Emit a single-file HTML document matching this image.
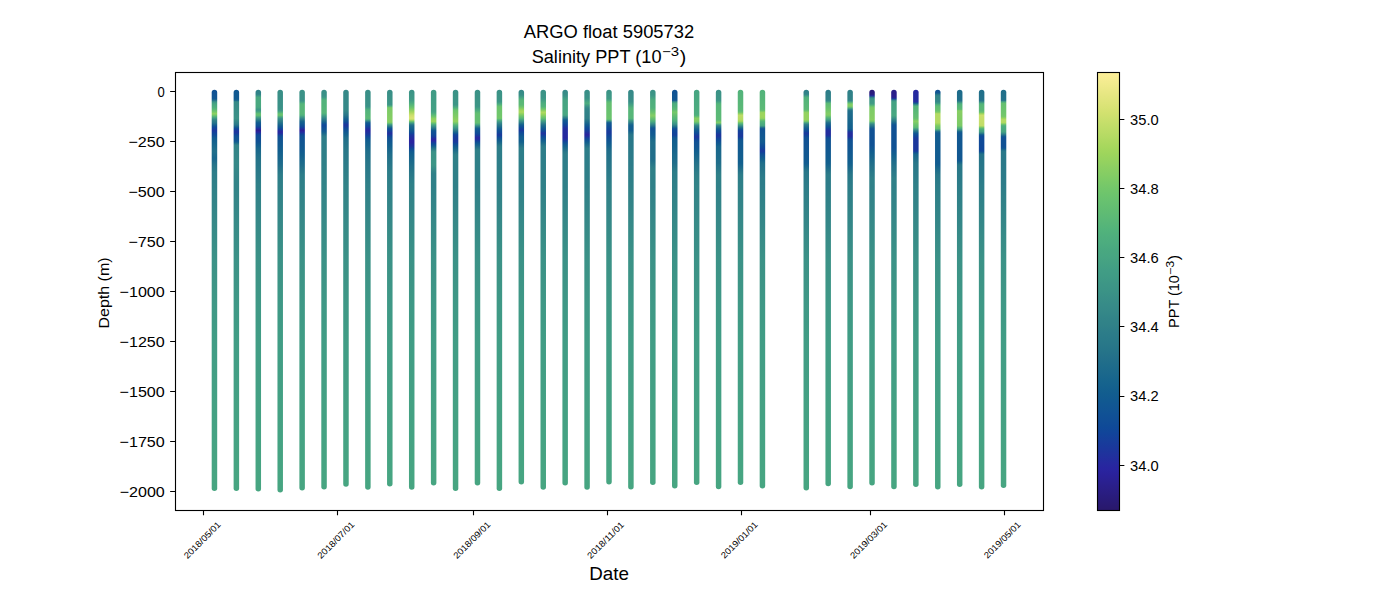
<!DOCTYPE html><html><head><meta charset="utf-8"><style>html,body{margin:0;padding:0;background:#fff;width:1400px;height:600px;overflow:hidden}svg{display:block}text{font-family:"Liberation Sans",sans-serif;fill:#000}</style></head><body>
<svg width="1400" height="600" viewBox="0 0 1400 600">
<rect x="0" y="0" width="1400" height="600" fill="#fff"/>
<defs>
<linearGradient id="g0" gradientUnits="userSpaceOnUse" x1="0" y1="89.80" x2="0" y2="491.00"><stop offset="0.0000" stop-color="#105194"/><stop offset="0.0037" stop-color="#105294"/><stop offset="0.0075" stop-color="#105394"/><stop offset="0.0112" stop-color="#115493"/><stop offset="0.0150" stop-color="#115593"/><stop offset="0.0187" stop-color="#115692"/><stop offset="0.0224" stop-color="#115792"/><stop offset="0.0262" stop-color="#22708a"/><stop offset="0.0299" stop-color="#3a9187"/><stop offset="0.0336" stop-color="#43a084"/><stop offset="0.0374" stop-color="#49a781"/><stop offset="0.0411" stop-color="#4cac7f"/><stop offset="0.0449" stop-color="#50b07d"/><stop offset="0.0486" stop-color="#59b877"/><stop offset="0.0523" stop-color="#68c16f"/><stop offset="0.0561" stop-color="#7aca67"/><stop offset="0.0598" stop-color="#91d160"/><stop offset="0.0636" stop-color="#6ec56c"/><stop offset="0.0673" stop-color="#51b27c"/><stop offset="0.0710" stop-color="#3f9a85"/><stop offset="0.0748" stop-color="#318388"/><stop offset="0.0785" stop-color="#2b7b89"/><stop offset="0.0823" stop-color="#267489"/><stop offset="0.0860" stop-color="#1a678c"/><stop offset="0.0897" stop-color="#115692"/><stop offset="0.0935" stop-color="#0f4998"/><stop offset="0.0972" stop-color="#14419a"/><stop offset="0.1009" stop-color="#1a389c"/><stop offset="0.1047" stop-color="#163d9b"/><stop offset="0.1084" stop-color="#114599"/><stop offset="0.1122" stop-color="#0f4a97"/><stop offset="0.1159" stop-color="#105194"/><stop offset="0.1196" stop-color="#115991"/><stop offset="0.1234" stop-color="#125d8f"/><stop offset="0.1271" stop-color="#125f8e"/><stop offset="0.1309" stop-color="#14618d"/><stop offset="0.1346" stop-color="#16648d"/><stop offset="0.1383" stop-color="#18668c"/><stop offset="0.1421" stop-color="#1a688c"/><stop offset="0.1458" stop-color="#1c6a8b"/><stop offset="0.1496" stop-color="#1e6c8b"/><stop offset="0.1533" stop-color="#206e8a"/><stop offset="0.1570" stop-color="#1f6d8b"/><stop offset="0.1608" stop-color="#1d6b8b"/><stop offset="0.1645" stop-color="#1b698c"/><stop offset="0.1682" stop-color="#19678c"/><stop offset="0.1720" stop-color="#19668c"/><stop offset="0.1757" stop-color="#1c698c"/><stop offset="0.1795" stop-color="#1f6d8b"/><stop offset="0.1832" stop-color="#22708a"/><stop offset="0.1869" stop-color="#257389"/><stop offset="0.1907" stop-color="#277589"/><stop offset="0.1944" stop-color="#297789"/><stop offset="0.1982" stop-color="#2a7989"/><stop offset="0.2019" stop-color="#2b7b89"/><stop offset="0.2056" stop-color="#2c7d89"/><stop offset="0.2094" stop-color="#2d7d89"/><stop offset="0.2131" stop-color="#2d7d89"/><stop offset="0.2168" stop-color="#2d7e89"/><stop offset="0.2206" stop-color="#2e7e88"/><stop offset="0.2243" stop-color="#2e7f88"/><stop offset="0.2281" stop-color="#2e7f88"/><stop offset="0.2318" stop-color="#2f7f88"/><stop offset="0.2355" stop-color="#2f8088"/><stop offset="0.2393" stop-color="#2f8088"/><stop offset="0.2430" stop-color="#2f8088"/><stop offset="0.2468" stop-color="#308188"/><stop offset="0.2505" stop-color="#308188"/><stop offset="0.2542" stop-color="#308288"/><stop offset="0.2580" stop-color="#308288"/><stop offset="0.2617" stop-color="#318288"/><stop offset="0.2655" stop-color="#318388"/><stop offset="0.2692" stop-color="#318388"/><stop offset="0.2729" stop-color="#318388"/><stop offset="0.2747" stop-color="#328388"/><stop offset="0.3046" stop-color="#348688"/><stop offset="0.3345" stop-color="#368988"/><stop offset="0.3644" stop-color="#378c87"/><stop offset="0.3943" stop-color="#398f87"/><stop offset="0.4242" stop-color="#3b9287"/><stop offset="0.4541" stop-color="#3c9386"/><stop offset="0.4840" stop-color="#3d9586"/><stop offset="0.5140" stop-color="#3e9786"/><stop offset="0.5439" stop-color="#3f9986"/><stop offset="0.5738" stop-color="#3f9a85"/><stop offset="0.6037" stop-color="#409c85"/><stop offset="0.6336" stop-color="#419d85"/><stop offset="0.6635" stop-color="#419e85"/><stop offset="0.6934" stop-color="#429e84"/><stop offset="0.7233" stop-color="#439f84"/><stop offset="0.7532" stop-color="#43a084"/><stop offset="0.7832" stop-color="#44a183"/><stop offset="0.8131" stop-color="#44a183"/><stop offset="0.8430" stop-color="#45a283"/><stop offset="0.8729" stop-color="#45a383"/><stop offset="0.9028" stop-color="#46a382"/><stop offset="0.9327" stop-color="#46a482"/><stop offset="0.9626" stop-color="#47a582"/><stop offset="0.9925" stop-color="#47a581"/><stop offset="1.0000" stop-color="#48a681"/></linearGradient>
<linearGradient id="g1" gradientUnits="userSpaceOnUse" x1="0" y1="89.80" x2="0" y2="491.00"><stop offset="0.0000" stop-color="#115791"/><stop offset="0.0037" stop-color="#115891"/><stop offset="0.0075" stop-color="#115991"/><stop offset="0.0112" stop-color="#115991"/><stop offset="0.0150" stop-color="#115a90"/><stop offset="0.0187" stop-color="#115a90"/><stop offset="0.0224" stop-color="#125b90"/><stop offset="0.0262" stop-color="#17648d"/><stop offset="0.0299" stop-color="#358988"/><stop offset="0.0336" stop-color="#368a88"/><stop offset="0.0374" stop-color="#368a88"/><stop offset="0.0411" stop-color="#378b88"/><stop offset="0.0449" stop-color="#378c87"/><stop offset="0.0486" stop-color="#388d87"/><stop offset="0.0523" stop-color="#388e87"/><stop offset="0.0561" stop-color="#398e87"/><stop offset="0.0598" stop-color="#398f87"/><stop offset="0.0636" stop-color="#3a9087"/><stop offset="0.0673" stop-color="#3a9187"/><stop offset="0.0710" stop-color="#3b9287"/><stop offset="0.0748" stop-color="#378c87"/><stop offset="0.0785" stop-color="#338688"/><stop offset="0.0823" stop-color="#2f8088"/><stop offset="0.0860" stop-color="#2a7a89"/><stop offset="0.0897" stop-color="#206d8b"/><stop offset="0.0935" stop-color="#115a90"/><stop offset="0.0972" stop-color="#104699"/><stop offset="0.1009" stop-color="#173c9b"/><stop offset="0.1047" stop-color="#1e339d"/><stop offset="0.1084" stop-color="#193a9b"/><stop offset="0.1122" stop-color="#0f4799"/><stop offset="0.1159" stop-color="#104f95"/><stop offset="0.1196" stop-color="#105394"/><stop offset="0.1234" stop-color="#115493"/><stop offset="0.1271" stop-color="#115692"/><stop offset="0.1309" stop-color="#14618e"/><stop offset="0.1346" stop-color="#267489"/><stop offset="0.1383" stop-color="#328388"/><stop offset="0.1421" stop-color="#328488"/><stop offset="0.1458" stop-color="#328488"/><stop offset="0.1496" stop-color="#338588"/><stop offset="0.1533" stop-color="#338588"/><stop offset="0.1570" stop-color="#338688"/><stop offset="0.1608" stop-color="#348688"/><stop offset="0.1645" stop-color="#348688"/><stop offset="0.1682" stop-color="#348788"/><stop offset="0.1720" stop-color="#348788"/><stop offset="0.1757" stop-color="#358888"/><stop offset="0.1795" stop-color="#358888"/><stop offset="0.1832" stop-color="#358988"/><stop offset="0.1869" stop-color="#358888"/><stop offset="0.1907" stop-color="#358888"/><stop offset="0.1944" stop-color="#358888"/><stop offset="0.1982" stop-color="#348788"/><stop offset="0.2019" stop-color="#348788"/><stop offset="0.2056" stop-color="#348688"/><stop offset="0.2094" stop-color="#348688"/><stop offset="0.2131" stop-color="#338688"/><stop offset="0.2168" stop-color="#338588"/><stop offset="0.2206" stop-color="#338588"/><stop offset="0.2243" stop-color="#328588"/><stop offset="0.2281" stop-color="#328488"/><stop offset="0.2318" stop-color="#328488"/><stop offset="0.2355" stop-color="#328488"/><stop offset="0.2393" stop-color="#328488"/><stop offset="0.2430" stop-color="#328488"/><stop offset="0.2468" stop-color="#328488"/><stop offset="0.2505" stop-color="#328488"/><stop offset="0.2542" stop-color="#328588"/><stop offset="0.2580" stop-color="#338588"/><stop offset="0.2617" stop-color="#338588"/><stop offset="0.2655" stop-color="#338588"/><stop offset="0.2692" stop-color="#338688"/><stop offset="0.2729" stop-color="#348688"/><stop offset="0.2747" stop-color="#348688"/><stop offset="0.3046" stop-color="#358888"/><stop offset="0.3345" stop-color="#378b88"/><stop offset="0.3644" stop-color="#388d87"/><stop offset="0.3943" stop-color="#398f87"/><stop offset="0.4242" stop-color="#3b9287"/><stop offset="0.4541" stop-color="#3c9386"/><stop offset="0.4840" stop-color="#3d9586"/><stop offset="0.5140" stop-color="#3e9786"/><stop offset="0.5439" stop-color="#3f9986"/><stop offset="0.5738" stop-color="#3f9a85"/><stop offset="0.6037" stop-color="#409c85"/><stop offset="0.6336" stop-color="#419d85"/><stop offset="0.6635" stop-color="#419e85"/><stop offset="0.6934" stop-color="#429e84"/><stop offset="0.7233" stop-color="#439f84"/><stop offset="0.7532" stop-color="#43a084"/><stop offset="0.7832" stop-color="#44a183"/><stop offset="0.8131" stop-color="#44a183"/><stop offset="0.8430" stop-color="#45a283"/><stop offset="0.8729" stop-color="#45a383"/><stop offset="0.9028" stop-color="#46a382"/><stop offset="0.9327" stop-color="#46a482"/><stop offset="0.9626" stop-color="#47a582"/><stop offset="0.9925" stop-color="#47a581"/><stop offset="1.0000" stop-color="#48a681"/></linearGradient>
<linearGradient id="g2" gradientUnits="userSpaceOnUse" x1="0" y1="89.80" x2="0" y2="491.60"><stop offset="0.0000" stop-color="#2f8088"/><stop offset="0.0037" stop-color="#308188"/><stop offset="0.0075" stop-color="#308288"/><stop offset="0.0112" stop-color="#318388"/><stop offset="0.0149" stop-color="#3c9586"/><stop offset="0.0187" stop-color="#49a880"/><stop offset="0.0224" stop-color="#49a880"/><stop offset="0.0261" stop-color="#49a880"/><stop offset="0.0299" stop-color="#49a880"/><stop offset="0.0336" stop-color="#49a880"/><stop offset="0.0373" stop-color="#49a880"/><stop offset="0.0411" stop-color="#49a880"/><stop offset="0.0448" stop-color="#47a582"/><stop offset="0.0485" stop-color="#3e9886"/><stop offset="0.0523" stop-color="#409b85"/><stop offset="0.0560" stop-color="#4dad7e"/><stop offset="0.0597" stop-color="#63be72"/><stop offset="0.0635" stop-color="#64be71"/><stop offset="0.0672" stop-color="#4aa980"/><stop offset="0.0709" stop-color="#3b9287"/><stop offset="0.0747" stop-color="#2e7f88"/><stop offset="0.0784" stop-color="#1e6c8b"/><stop offset="0.0821" stop-color="#115b90"/><stop offset="0.0859" stop-color="#115692"/><stop offset="0.0896" stop-color="#105194"/><stop offset="0.0933" stop-color="#14419a"/><stop offset="0.0971" stop-color="#242b9f"/><stop offset="0.1008" stop-color="#2a1f8b"/><stop offset="0.1045" stop-color="#2a239f"/><stop offset="0.1083" stop-color="#1b369c"/><stop offset="0.1120" stop-color="#0f4998"/><stop offset="0.1157" stop-color="#104c97"/><stop offset="0.1195" stop-color="#104e96"/><stop offset="0.1232" stop-color="#104f95"/><stop offset="0.1269" stop-color="#105095"/><stop offset="0.1307" stop-color="#115393"/><stop offset="0.1344" stop-color="#115891"/><stop offset="0.1381" stop-color="#125d8f"/><stop offset="0.1419" stop-color="#14618e"/><stop offset="0.1456" stop-color="#18658d"/><stop offset="0.1493" stop-color="#1a678c"/><stop offset="0.1531" stop-color="#1b698c"/><stop offset="0.1568" stop-color="#1d6b8b"/><stop offset="0.1605" stop-color="#1f6d8b"/><stop offset="0.1643" stop-color="#216f8a"/><stop offset="0.1680" stop-color="#23718a"/><stop offset="0.1717" stop-color="#247289"/><stop offset="0.1755" stop-color="#257389"/><stop offset="0.1792" stop-color="#267489"/><stop offset="0.1829" stop-color="#267589"/><stop offset="0.1867" stop-color="#277589"/><stop offset="0.1904" stop-color="#287689"/><stop offset="0.1941" stop-color="#287789"/><stop offset="0.1979" stop-color="#297889"/><stop offset="0.2016" stop-color="#297989"/><stop offset="0.2053" stop-color="#2a7989"/><stop offset="0.2091" stop-color="#2b7a89"/><stop offset="0.2128" stop-color="#2b7b89"/><stop offset="0.2165" stop-color="#2c7c89"/><stop offset="0.2203" stop-color="#2c7c89"/><stop offset="0.2240" stop-color="#2d7d89"/><stop offset="0.2277" stop-color="#2d7e89"/><stop offset="0.2315" stop-color="#2e7f88"/><stop offset="0.2352" stop-color="#2f8088"/><stop offset="0.2389" stop-color="#2f8088"/><stop offset="0.2427" stop-color="#2f8088"/><stop offset="0.2464" stop-color="#308188"/><stop offset="0.2501" stop-color="#308188"/><stop offset="0.2539" stop-color="#308288"/><stop offset="0.2576" stop-color="#308288"/><stop offset="0.2613" stop-color="#318288"/><stop offset="0.2651" stop-color="#318388"/><stop offset="0.2688" stop-color="#318388"/><stop offset="0.2725" stop-color="#318388"/><stop offset="0.2743" stop-color="#328388"/><stop offset="0.3041" stop-color="#348688"/><stop offset="0.3340" stop-color="#368988"/><stop offset="0.3639" stop-color="#378c87"/><stop offset="0.3937" stop-color="#398f87"/><stop offset="0.4236" stop-color="#3b9287"/><stop offset="0.4535" stop-color="#3c9386"/><stop offset="0.4833" stop-color="#3d9586"/><stop offset="0.5132" stop-color="#3e9786"/><stop offset="0.5431" stop-color="#3f9986"/><stop offset="0.5729" stop-color="#3f9a85"/><stop offset="0.6028" stop-color="#409c85"/><stop offset="0.6327" stop-color="#419d85"/><stop offset="0.6625" stop-color="#419e85"/><stop offset="0.6924" stop-color="#429e84"/><stop offset="0.7222" stop-color="#439f84"/><stop offset="0.7521" stop-color="#43a084"/><stop offset="0.7820" stop-color="#44a183"/><stop offset="0.8118" stop-color="#44a183"/><stop offset="0.8417" stop-color="#45a283"/><stop offset="0.8716" stop-color="#45a383"/><stop offset="0.9014" stop-color="#46a382"/><stop offset="0.9313" stop-color="#46a482"/><stop offset="0.9612" stop-color="#47a582"/><stop offset="0.9910" stop-color="#47a581"/><stop offset="1.0000" stop-color="#48a681"/></linearGradient>
<linearGradient id="g3" gradientUnits="userSpaceOnUse" x1="0" y1="89.80" x2="0" y2="492.50"><stop offset="0.0000" stop-color="#388e87"/><stop offset="0.0037" stop-color="#398e87"/><stop offset="0.0074" stop-color="#398f87"/><stop offset="0.0112" stop-color="#398f87"/><stop offset="0.0149" stop-color="#398f87"/><stop offset="0.0186" stop-color="#398f87"/><stop offset="0.0223" stop-color="#399087"/><stop offset="0.0261" stop-color="#3a9087"/><stop offset="0.0298" stop-color="#3a9087"/><stop offset="0.0335" stop-color="#3a9187"/><stop offset="0.0372" stop-color="#3a9187"/><stop offset="0.0410" stop-color="#3a9187"/><stop offset="0.0447" stop-color="#3a9187"/><stop offset="0.0484" stop-color="#3b9287"/><stop offset="0.0521" stop-color="#409c85"/><stop offset="0.0559" stop-color="#4eaf7d"/><stop offset="0.0596" stop-color="#67c170"/><stop offset="0.0633" stop-color="#68c16f"/><stop offset="0.0670" stop-color="#4baa7f"/><stop offset="0.0708" stop-color="#3b9287"/><stop offset="0.0745" stop-color="#348788"/><stop offset="0.0782" stop-color="#2d7d89"/><stop offset="0.0819" stop-color="#247289"/><stop offset="0.0857" stop-color="#1b688c"/><stop offset="0.0894" stop-color="#125e8e"/><stop offset="0.0931" stop-color="#105394"/><stop offset="0.0968" stop-color="#0f4799"/><stop offset="0.1006" stop-color="#1d349d"/><stop offset="0.1043" stop-color="#2a239f"/><stop offset="0.1080" stop-color="#232c9e"/><stop offset="0.1117" stop-color="#153f9b"/><stop offset="0.1155" stop-color="#104e96"/><stop offset="0.1192" stop-color="#105294"/><stop offset="0.1229" stop-color="#115493"/><stop offset="0.1266" stop-color="#115592"/><stop offset="0.1304" stop-color="#115792"/><stop offset="0.1341" stop-color="#115891"/><stop offset="0.1378" stop-color="#115a90"/><stop offset="0.1415" stop-color="#125b90"/><stop offset="0.1453" stop-color="#125d8f"/><stop offset="0.1490" stop-color="#125e8e"/><stop offset="0.1527" stop-color="#125f8e"/><stop offset="0.1564" stop-color="#14618e"/><stop offset="0.1602" stop-color="#15628d"/><stop offset="0.1639" stop-color="#16648d"/><stop offset="0.1676" stop-color="#18658d"/><stop offset="0.1713" stop-color="#19668c"/><stop offset="0.1751" stop-color="#1a688c"/><stop offset="0.1788" stop-color="#1c698c"/><stop offset="0.1825" stop-color="#1d6b8b"/><stop offset="0.1862" stop-color="#1f6d8b"/><stop offset="0.1900" stop-color="#216f8a"/><stop offset="0.1937" stop-color="#24728a"/><stop offset="0.1974" stop-color="#267489"/><stop offset="0.2011" stop-color="#287689"/><stop offset="0.2049" stop-color="#297889"/><stop offset="0.2086" stop-color="#2b7b89"/><stop offset="0.2123" stop-color="#2c7d89"/><stop offset="0.2160" stop-color="#2d7d89"/><stop offset="0.2198" stop-color="#2d7e89"/><stop offset="0.2235" stop-color="#2e7e88"/><stop offset="0.2272" stop-color="#2e7f88"/><stop offset="0.2309" stop-color="#2e7f88"/><stop offset="0.2347" stop-color="#2f8088"/><stop offset="0.2384" stop-color="#2f8088"/><stop offset="0.2421" stop-color="#2f8088"/><stop offset="0.2458" stop-color="#308188"/><stop offset="0.2496" stop-color="#308188"/><stop offset="0.2533" stop-color="#308288"/><stop offset="0.2570" stop-color="#308288"/><stop offset="0.2607" stop-color="#318288"/><stop offset="0.2645" stop-color="#318388"/><stop offset="0.2682" stop-color="#318388"/><stop offset="0.2719" stop-color="#318388"/><stop offset="0.2737" stop-color="#328388"/><stop offset="0.3035" stop-color="#348688"/><stop offset="0.3333" stop-color="#368988"/><stop offset="0.3630" stop-color="#378c87"/><stop offset="0.3928" stop-color="#398f87"/><stop offset="0.4226" stop-color="#3b9287"/><stop offset="0.4524" stop-color="#3c9386"/><stop offset="0.4822" stop-color="#3d9586"/><stop offset="0.5120" stop-color="#3e9786"/><stop offset="0.5418" stop-color="#3f9986"/><stop offset="0.5716" stop-color="#3f9a85"/><stop offset="0.6014" stop-color="#409c85"/><stop offset="0.6312" stop-color="#419d85"/><stop offset="0.6610" stop-color="#419e85"/><stop offset="0.6908" stop-color="#429e84"/><stop offset="0.7206" stop-color="#439f84"/><stop offset="0.7504" stop-color="#43a084"/><stop offset="0.7802" stop-color="#44a183"/><stop offset="0.8100" stop-color="#44a183"/><stop offset="0.8398" stop-color="#45a283"/><stop offset="0.8696" stop-color="#45a383"/><stop offset="0.8994" stop-color="#46a382"/><stop offset="0.9292" stop-color="#46a482"/><stop offset="0.9590" stop-color="#47a582"/><stop offset="0.9888" stop-color="#47a581"/><stop offset="1.0000" stop-color="#48a681"/></linearGradient>
<linearGradient id="g4" gradientUnits="userSpaceOnUse" x1="0" y1="89.80" x2="0" y2="490.40"><stop offset="0.0000" stop-color="#3b9287"/><stop offset="0.0037" stop-color="#3b9287"/><stop offset="0.0075" stop-color="#3b9287"/><stop offset="0.0112" stop-color="#3b9287"/><stop offset="0.0150" stop-color="#3b9287"/><stop offset="0.0187" stop-color="#3b9287"/><stop offset="0.0225" stop-color="#3b9287"/><stop offset="0.0262" stop-color="#3b9287"/><stop offset="0.0300" stop-color="#419e85"/><stop offset="0.0337" stop-color="#4fb07d"/><stop offset="0.0374" stop-color="#57b679"/><stop offset="0.0412" stop-color="#57b679"/><stop offset="0.0449" stop-color="#57b679"/><stop offset="0.0487" stop-color="#57b679"/><stop offset="0.0524" stop-color="#57b679"/><stop offset="0.0562" stop-color="#57b679"/><stop offset="0.0599" stop-color="#57b679"/><stop offset="0.0637" stop-color="#50b07d"/><stop offset="0.0674" stop-color="#419d85"/><stop offset="0.0711" stop-color="#368988"/><stop offset="0.0749" stop-color="#287789"/><stop offset="0.0786" stop-color="#17658d"/><stop offset="0.0824" stop-color="#125e8e"/><stop offset="0.0861" stop-color="#115792"/><stop offset="0.0899" stop-color="#104f95"/><stop offset="0.0936" stop-color="#11449a"/><stop offset="0.0974" stop-color="#212f9e"/><stop offset="0.1011" stop-color="#2a2093"/><stop offset="0.1048" stop-color="#27279f"/><stop offset="0.1086" stop-color="#1a399c"/><stop offset="0.1123" stop-color="#0f4998"/><stop offset="0.1161" stop-color="#105194"/><stop offset="0.1198" stop-color="#105294"/><stop offset="0.1236" stop-color="#115393"/><stop offset="0.1273" stop-color="#115493"/><stop offset="0.1311" stop-color="#115592"/><stop offset="0.1348" stop-color="#115692"/><stop offset="0.1385" stop-color="#115791"/><stop offset="0.1423" stop-color="#115891"/><stop offset="0.1460" stop-color="#115991"/><stop offset="0.1498" stop-color="#115a90"/><stop offset="0.1535" stop-color="#125b90"/><stop offset="0.1573" stop-color="#125d8f"/><stop offset="0.1610" stop-color="#125f8e"/><stop offset="0.1648" stop-color="#14618d"/><stop offset="0.1685" stop-color="#16638d"/><stop offset="0.1722" stop-color="#18658d"/><stop offset="0.1760" stop-color="#19678c"/><stop offset="0.1797" stop-color="#1b698c"/><stop offset="0.1835" stop-color="#1d6b8b"/><stop offset="0.1872" stop-color="#1f6d8b"/><stop offset="0.1910" stop-color="#216f8a"/><stop offset="0.1947" stop-color="#24728a"/><stop offset="0.1985" stop-color="#267489"/><stop offset="0.2022" stop-color="#287689"/><stop offset="0.2059" stop-color="#297889"/><stop offset="0.2097" stop-color="#2b7b89"/><stop offset="0.2134" stop-color="#2c7d89"/><stop offset="0.2172" stop-color="#2d7d89"/><stop offset="0.2209" stop-color="#2d7e89"/><stop offset="0.2247" stop-color="#2e7e88"/><stop offset="0.2284" stop-color="#2e7f88"/><stop offset="0.2322" stop-color="#2e7f88"/><stop offset="0.2359" stop-color="#2f8088"/><stop offset="0.2396" stop-color="#2f8088"/><stop offset="0.2434" stop-color="#2f8088"/><stop offset="0.2471" stop-color="#308188"/><stop offset="0.2509" stop-color="#308188"/><stop offset="0.2546" stop-color="#308288"/><stop offset="0.2584" stop-color="#308288"/><stop offset="0.2621" stop-color="#318288"/><stop offset="0.2659" stop-color="#318388"/><stop offset="0.2696" stop-color="#318388"/><stop offset="0.2733" stop-color="#318388"/><stop offset="0.2751" stop-color="#328388"/><stop offset="0.3050" stop-color="#348688"/><stop offset="0.3350" stop-color="#368988"/><stop offset="0.3650" stop-color="#378c87"/><stop offset="0.3949" stop-color="#398f87"/><stop offset="0.4249" stop-color="#3b9287"/><stop offset="0.4548" stop-color="#3c9386"/><stop offset="0.4848" stop-color="#3d9586"/><stop offset="0.5147" stop-color="#3e9786"/><stop offset="0.5447" stop-color="#3f9986"/><stop offset="0.5746" stop-color="#3f9a85"/><stop offset="0.6046" stop-color="#409c85"/><stop offset="0.6345" stop-color="#419d85"/><stop offset="0.6645" stop-color="#419e85"/><stop offset="0.6945" stop-color="#429e84"/><stop offset="0.7244" stop-color="#439f84"/><stop offset="0.7544" stop-color="#43a084"/><stop offset="0.7843" stop-color="#44a183"/><stop offset="0.8143" stop-color="#44a183"/><stop offset="0.8442" stop-color="#45a283"/><stop offset="0.8742" stop-color="#45a383"/><stop offset="0.9041" stop-color="#46a382"/><stop offset="0.9341" stop-color="#46a482"/><stop offset="0.9641" stop-color="#47a582"/><stop offset="0.9940" stop-color="#47a581"/><stop offset="1.0000" stop-color="#48a681"/></linearGradient>
<linearGradient id="g5" gradientUnits="userSpaceOnUse" x1="0" y1="89.80" x2="0" y2="489.50"><stop offset="0.0000" stop-color="#388e87"/><stop offset="0.0038" stop-color="#398f87"/><stop offset="0.0075" stop-color="#399087"/><stop offset="0.0113" stop-color="#3a9087"/><stop offset="0.0150" stop-color="#3a9187"/><stop offset="0.0188" stop-color="#3e9886"/><stop offset="0.0225" stop-color="#48a781"/><stop offset="0.0263" stop-color="#52b37b"/><stop offset="0.0300" stop-color="#53b37b"/><stop offset="0.0338" stop-color="#53b37b"/><stop offset="0.0375" stop-color="#54b47a"/><stop offset="0.0413" stop-color="#54b47a"/><stop offset="0.0450" stop-color="#55b57a"/><stop offset="0.0488" stop-color="#56b579"/><stop offset="0.0525" stop-color="#56b579"/><stop offset="0.0563" stop-color="#57b679"/><stop offset="0.0600" stop-color="#51b17c"/><stop offset="0.0638" stop-color="#45a283"/><stop offset="0.0676" stop-color="#3b9386"/><stop offset="0.0713" stop-color="#328488"/><stop offset="0.0751" stop-color="#287789"/><stop offset="0.0788" stop-color="#1d6a8b"/><stop offset="0.0826" stop-color="#125d8f"/><stop offset="0.0863" stop-color="#104e96"/><stop offset="0.0901" stop-color="#0f4998"/><stop offset="0.0938" stop-color="#104e96"/><stop offset="0.0976" stop-color="#105394"/><stop offset="0.1013" stop-color="#115792"/><stop offset="0.1051" stop-color="#125d8f"/><stop offset="0.1088" stop-color="#19678c"/><stop offset="0.1126" stop-color="#23718a"/><stop offset="0.1163" stop-color="#2b7a89"/><stop offset="0.1201" stop-color="#2c7d89"/><stop offset="0.1238" stop-color="#2d7d89"/><stop offset="0.1276" stop-color="#2d7d89"/><stop offset="0.1313" stop-color="#2d7d89"/><stop offset="0.1351" stop-color="#2d7d89"/><stop offset="0.1389" stop-color="#2d7e89"/><stop offset="0.1426" stop-color="#2d7e89"/><stop offset="0.1464" stop-color="#2e7e88"/><stop offset="0.1501" stop-color="#2e7e88"/><stop offset="0.1539" stop-color="#2e7f88"/><stop offset="0.1576" stop-color="#2e7f88"/><stop offset="0.1614" stop-color="#2e7f88"/><stop offset="0.1651" stop-color="#2e7f88"/><stop offset="0.1689" stop-color="#2f7f88"/><stop offset="0.1726" stop-color="#2f8088"/><stop offset="0.1764" stop-color="#2f8088"/><stop offset="0.1801" stop-color="#2f8088"/><stop offset="0.1839" stop-color="#2f8088"/><stop offset="0.1876" stop-color="#2f8088"/><stop offset="0.1914" stop-color="#308188"/><stop offset="0.1951" stop-color="#308188"/><stop offset="0.1989" stop-color="#308188"/><stop offset="0.2027" stop-color="#308188"/><stop offset="0.2064" stop-color="#308288"/><stop offset="0.2102" stop-color="#308288"/><stop offset="0.2139" stop-color="#318288"/><stop offset="0.2177" stop-color="#318288"/><stop offset="0.2214" stop-color="#318288"/><stop offset="0.2252" stop-color="#318388"/><stop offset="0.2289" stop-color="#318388"/><stop offset="0.2327" stop-color="#318388"/><stop offset="0.2364" stop-color="#318388"/><stop offset="0.2402" stop-color="#328488"/><stop offset="0.2439" stop-color="#328488"/><stop offset="0.2477" stop-color="#328488"/><stop offset="0.2514" stop-color="#328488"/><stop offset="0.2552" stop-color="#328588"/><stop offset="0.2589" stop-color="#338588"/><stop offset="0.2627" stop-color="#338588"/><stop offset="0.2664" stop-color="#338588"/><stop offset="0.2702" stop-color="#338688"/><stop offset="0.2740" stop-color="#348688"/><stop offset="0.2757" stop-color="#348688"/><stop offset="0.3057" stop-color="#358888"/><stop offset="0.3358" stop-color="#378b88"/><stop offset="0.3658" stop-color="#388d87"/><stop offset="0.3958" stop-color="#398f87"/><stop offset="0.4258" stop-color="#3b9287"/><stop offset="0.4558" stop-color="#3c9386"/><stop offset="0.4859" stop-color="#3d9586"/><stop offset="0.5159" stop-color="#3e9786"/><stop offset="0.5459" stop-color="#3f9986"/><stop offset="0.5759" stop-color="#3f9a85"/><stop offset="0.6060" stop-color="#409c85"/><stop offset="0.6360" stop-color="#419d85"/><stop offset="0.6660" stop-color="#419e85"/><stop offset="0.6960" stop-color="#429e84"/><stop offset="0.7260" stop-color="#439f84"/><stop offset="0.7561" stop-color="#43a084"/><stop offset="0.7861" stop-color="#44a183"/><stop offset="0.8161" stop-color="#44a183"/><stop offset="0.8461" stop-color="#45a283"/><stop offset="0.8762" stop-color="#45a383"/><stop offset="0.9062" stop-color="#46a382"/><stop offset="0.9362" stop-color="#46a482"/><stop offset="0.9662" stop-color="#47a582"/><stop offset="0.9962" stop-color="#47a581"/></linearGradient>
<linearGradient id="g6" gradientUnits="userSpaceOnUse" x1="0" y1="89.80" x2="0" y2="486.80"><stop offset="0.0000" stop-color="#358988"/><stop offset="0.0038" stop-color="#358988"/><stop offset="0.0076" stop-color="#358988"/><stop offset="0.0113" stop-color="#358988"/><stop offset="0.0151" stop-color="#358988"/><stop offset="0.0189" stop-color="#358988"/><stop offset="0.0227" stop-color="#358988"/><stop offset="0.0264" stop-color="#358988"/><stop offset="0.0302" stop-color="#358988"/><stop offset="0.0340" stop-color="#358988"/><stop offset="0.0378" stop-color="#358988"/><stop offset="0.0416" stop-color="#358988"/><stop offset="0.0453" stop-color="#358988"/><stop offset="0.0491" stop-color="#358988"/><stop offset="0.0529" stop-color="#338688"/><stop offset="0.0567" stop-color="#2f8188"/><stop offset="0.0605" stop-color="#2c7b89"/><stop offset="0.0642" stop-color="#277689"/><stop offset="0.0680" stop-color="#1f6d8b"/><stop offset="0.0718" stop-color="#17648d"/><stop offset="0.0756" stop-color="#115b90"/><stop offset="0.0793" stop-color="#105194"/><stop offset="0.0831" stop-color="#0f4799"/><stop offset="0.0869" stop-color="#1a389c"/><stop offset="0.0907" stop-color="#1b379c"/><stop offset="0.0945" stop-color="#13429a"/><stop offset="0.0982" stop-color="#104b97"/><stop offset="0.1020" stop-color="#105294"/><stop offset="0.1058" stop-color="#115891"/><stop offset="0.1096" stop-color="#125e8f"/><stop offset="0.1134" stop-color="#15638d"/><stop offset="0.1171" stop-color="#1a688c"/><stop offset="0.1209" stop-color="#1f6d8b"/><stop offset="0.1247" stop-color="#216f8a"/><stop offset="0.1285" stop-color="#23718a"/><stop offset="0.1322" stop-color="#24728a"/><stop offset="0.1360" stop-color="#257389"/><stop offset="0.1398" stop-color="#267589"/><stop offset="0.1436" stop-color="#277689"/><stop offset="0.1474" stop-color="#287789"/><stop offset="0.1511" stop-color="#297889"/><stop offset="0.1549" stop-color="#297889"/><stop offset="0.1587" stop-color="#2a7989"/><stop offset="0.1625" stop-color="#2a7989"/><stop offset="0.1662" stop-color="#2a7a89"/><stop offset="0.1700" stop-color="#2b7a89"/><stop offset="0.1738" stop-color="#2b7b89"/><stop offset="0.1776" stop-color="#2b7b89"/><stop offset="0.1814" stop-color="#2c7c89"/><stop offset="0.1851" stop-color="#2c7c89"/><stop offset="0.1889" stop-color="#2d7d89"/><stop offset="0.1927" stop-color="#2d7d89"/><stop offset="0.1965" stop-color="#2d7e89"/><stop offset="0.2003" stop-color="#2e7e88"/><stop offset="0.2040" stop-color="#2e7f88"/><stop offset="0.2078" stop-color="#2e7f88"/><stop offset="0.2116" stop-color="#2f8088"/><stop offset="0.2154" stop-color="#2f8088"/><stop offset="0.2191" stop-color="#308188"/><stop offset="0.2229" stop-color="#308188"/><stop offset="0.2267" stop-color="#308288"/><stop offset="0.2305" stop-color="#318288"/><stop offset="0.2343" stop-color="#318388"/><stop offset="0.2380" stop-color="#318388"/><stop offset="0.2418" stop-color="#328488"/><stop offset="0.2456" stop-color="#328488"/><stop offset="0.2494" stop-color="#328488"/><stop offset="0.2531" stop-color="#328488"/><stop offset="0.2569" stop-color="#328588"/><stop offset="0.2607" stop-color="#338588"/><stop offset="0.2645" stop-color="#338588"/><stop offset="0.2683" stop-color="#338588"/><stop offset="0.2720" stop-color="#338688"/><stop offset="0.2758" stop-color="#348688"/><stop offset="0.2776" stop-color="#348688"/><stop offset="0.3078" stop-color="#358888"/><stop offset="0.3380" stop-color="#378b88"/><stop offset="0.3683" stop-color="#388d87"/><stop offset="0.3985" stop-color="#398f87"/><stop offset="0.4287" stop-color="#3b9287"/><stop offset="0.4589" stop-color="#3c9386"/><stop offset="0.4892" stop-color="#3d9586"/><stop offset="0.5194" stop-color="#3e9786"/><stop offset="0.5496" stop-color="#3f9986"/><stop offset="0.5798" stop-color="#3f9a85"/><stop offset="0.6101" stop-color="#409c85"/><stop offset="0.6403" stop-color="#419d85"/><stop offset="0.6705" stop-color="#419e85"/><stop offset="0.7008" stop-color="#429e84"/><stop offset="0.7310" stop-color="#439f84"/><stop offset="0.7612" stop-color="#43a084"/><stop offset="0.7914" stop-color="#44a183"/><stop offset="0.8217" stop-color="#44a183"/><stop offset="0.8519" stop-color="#45a283"/><stop offset="0.8821" stop-color="#45a383"/><stop offset="0.9123" stop-color="#46a382"/><stop offset="0.9426" stop-color="#46a482"/><stop offset="0.9728" stop-color="#47a582"/><stop offset="1.0000" stop-color="#47a581"/></linearGradient>
<linearGradient id="g7" gradientUnits="userSpaceOnUse" x1="0" y1="89.80" x2="0" y2="489.80"><stop offset="0.0000" stop-color="#388e87"/><stop offset="0.0037" stop-color="#398e87"/><stop offset="0.0075" stop-color="#398f87"/><stop offset="0.0112" stop-color="#398f87"/><stop offset="0.0150" stop-color="#398f87"/><stop offset="0.0187" stop-color="#399087"/><stop offset="0.0225" stop-color="#3a9087"/><stop offset="0.0262" stop-color="#3a9087"/><stop offset="0.0300" stop-color="#3a9187"/><stop offset="0.0338" stop-color="#3a9187"/><stop offset="0.0375" stop-color="#3a9187"/><stop offset="0.0413" stop-color="#3b9287"/><stop offset="0.0450" stop-color="#419d85"/><stop offset="0.0488" stop-color="#4cac7f"/><stop offset="0.0525" stop-color="#53b37b"/><stop offset="0.0563" stop-color="#54b47a"/><stop offset="0.0600" stop-color="#56b579"/><stop offset="0.0638" stop-color="#58b778"/><stop offset="0.0675" stop-color="#5ab877"/><stop offset="0.0712" stop-color="#5bb976"/><stop offset="0.0750" stop-color="#49a880"/><stop offset="0.0788" stop-color="#2d7e89"/><stop offset="0.0825" stop-color="#115a90"/><stop offset="0.0862" stop-color="#105294"/><stop offset="0.0900" stop-color="#0f4998"/><stop offset="0.0938" stop-color="#163e9b"/><stop offset="0.0975" stop-color="#1f319d"/><stop offset="0.1013" stop-color="#26289f"/><stop offset="0.1050" stop-color="#222e9e"/><stop offset="0.1088" stop-color="#1d349d"/><stop offset="0.1125" stop-color="#173c9b"/><stop offset="0.1163" stop-color="#0f4899"/><stop offset="0.1200" stop-color="#105095"/><stop offset="0.1238" stop-color="#115891"/><stop offset="0.1275" stop-color="#125d8f"/><stop offset="0.1313" stop-color="#13608e"/><stop offset="0.1350" stop-color="#15628d"/><stop offset="0.1388" stop-color="#17648d"/><stop offset="0.1425" stop-color="#19678c"/><stop offset="0.1463" stop-color="#1c698c"/><stop offset="0.1500" stop-color="#1e6b8b"/><stop offset="0.1538" stop-color="#206e8a"/><stop offset="0.1575" stop-color="#216f8a"/><stop offset="0.1613" stop-color="#22708a"/><stop offset="0.1650" stop-color="#23718a"/><stop offset="0.1688" stop-color="#247289"/><stop offset="0.1725" stop-color="#257389"/><stop offset="0.1763" stop-color="#267489"/><stop offset="0.1800" stop-color="#277589"/><stop offset="0.1838" stop-color="#287689"/><stop offset="0.1875" stop-color="#287789"/><stop offset="0.1913" stop-color="#297889"/><stop offset="0.1950" stop-color="#297889"/><stop offset="0.1988" stop-color="#2a7989"/><stop offset="0.2025" stop-color="#2a7a89"/><stop offset="0.2063" stop-color="#2b7a89"/><stop offset="0.2100" stop-color="#2b7b89"/><stop offset="0.2138" stop-color="#2c7c89"/><stop offset="0.2175" stop-color="#2c7c89"/><stop offset="0.2213" stop-color="#2d7d89"/><stop offset="0.2250" stop-color="#2d7e89"/><stop offset="0.2288" stop-color="#2e7e88"/><stop offset="0.2325" stop-color="#2e7f88"/><stop offset="0.2363" stop-color="#2f8088"/><stop offset="0.2400" stop-color="#2f8088"/><stop offset="0.2438" stop-color="#2f8088"/><stop offset="0.2475" stop-color="#308188"/><stop offset="0.2513" stop-color="#308188"/><stop offset="0.2550" stop-color="#308288"/><stop offset="0.2588" stop-color="#308288"/><stop offset="0.2625" stop-color="#318288"/><stop offset="0.2663" stop-color="#318388"/><stop offset="0.2700" stop-color="#318388"/><stop offset="0.2738" stop-color="#318388"/><stop offset="0.2755" stop-color="#328388"/><stop offset="0.3055" stop-color="#348688"/><stop offset="0.3355" stop-color="#368988"/><stop offset="0.3655" stop-color="#378c87"/><stop offset="0.3955" stop-color="#398f87"/><stop offset="0.4255" stop-color="#3b9287"/><stop offset="0.4555" stop-color="#3c9386"/><stop offset="0.4855" stop-color="#3d9586"/><stop offset="0.5155" stop-color="#3e9786"/><stop offset="0.5455" stop-color="#3f9986"/><stop offset="0.5755" stop-color="#3f9a85"/><stop offset="0.6055" stop-color="#409c85"/><stop offset="0.6355" stop-color="#419d85"/><stop offset="0.6655" stop-color="#419e85"/><stop offset="0.6955" stop-color="#429e84"/><stop offset="0.7255" stop-color="#439f84"/><stop offset="0.7555" stop-color="#43a084"/><stop offset="0.7855" stop-color="#44a183"/><stop offset="0.8155" stop-color="#44a183"/><stop offset="0.8455" stop-color="#45a283"/><stop offset="0.8755" stop-color="#45a383"/><stop offset="0.9055" stop-color="#46a382"/><stop offset="0.9355" stop-color="#46a482"/><stop offset="0.9655" stop-color="#47a582"/><stop offset="0.9955" stop-color="#47a581"/></linearGradient>
<linearGradient id="g8" gradientUnits="userSpaceOnUse" x1="0" y1="89.80" x2="0" y2="486.50"><stop offset="0.0000" stop-color="#388e87"/><stop offset="0.0038" stop-color="#398f87"/><stop offset="0.0076" stop-color="#398f87"/><stop offset="0.0113" stop-color="#3a9087"/><stop offset="0.0151" stop-color="#3a9187"/><stop offset="0.0189" stop-color="#3b9287"/><stop offset="0.0227" stop-color="#3b9287"/><stop offset="0.0265" stop-color="#3b9386"/><stop offset="0.0302" stop-color="#3c9486"/><stop offset="0.0340" stop-color="#3c9586"/><stop offset="0.0378" stop-color="#3d9586"/><stop offset="0.0416" stop-color="#51b27c"/><stop offset="0.0454" stop-color="#7bca67"/><stop offset="0.0492" stop-color="#7dca67"/><stop offset="0.0529" stop-color="#7ecb66"/><stop offset="0.0567" stop-color="#7fcb66"/><stop offset="0.0605" stop-color="#80cc65"/><stop offset="0.0643" stop-color="#82cc65"/><stop offset="0.0681" stop-color="#83cd64"/><stop offset="0.0718" stop-color="#84cd64"/><stop offset="0.0756" stop-color="#86cd64"/><stop offset="0.0794" stop-color="#87ce63"/><stop offset="0.0832" stop-color="#76c869"/><stop offset="0.0870" stop-color="#46a482"/><stop offset="0.0907" stop-color="#318388"/><stop offset="0.0945" stop-color="#19678c"/><stop offset="0.0983" stop-color="#104f95"/><stop offset="0.1021" stop-color="#104699"/><stop offset="0.1059" stop-color="#193a9c"/><stop offset="0.1097" stop-color="#222e9e"/><stop offset="0.1134" stop-color="#193a9c"/><stop offset="0.1172" stop-color="#104699"/><stop offset="0.1210" stop-color="#104e96"/><stop offset="0.1248" stop-color="#115393"/><stop offset="0.1286" stop-color="#115692"/><stop offset="0.1323" stop-color="#115991"/><stop offset="0.1361" stop-color="#125c8f"/><stop offset="0.1399" stop-color="#125f8e"/><stop offset="0.1437" stop-color="#14618d"/><stop offset="0.1475" stop-color="#17648d"/><stop offset="0.1512" stop-color="#19668c"/><stop offset="0.1550" stop-color="#1b688c"/><stop offset="0.1588" stop-color="#1d6b8b"/><stop offset="0.1626" stop-color="#206d8b"/><stop offset="0.1664" stop-color="#216f8a"/><stop offset="0.1702" stop-color="#22708a"/><stop offset="0.1739" stop-color="#24728a"/><stop offset="0.1777" stop-color="#257389"/><stop offset="0.1815" stop-color="#267489"/><stop offset="0.1853" stop-color="#277589"/><stop offset="0.1891" stop-color="#287789"/><stop offset="0.1928" stop-color="#297889"/><stop offset="0.1966" stop-color="#2a7989"/><stop offset="0.2004" stop-color="#2b7a89"/><stop offset="0.2042" stop-color="#2c7c89"/><stop offset="0.2080" stop-color="#2c7d89"/><stop offset="0.2117" stop-color="#2d7d89"/><stop offset="0.2155" stop-color="#2d7d89"/><stop offset="0.2193" stop-color="#2d7e89"/><stop offset="0.2231" stop-color="#2e7e88"/><stop offset="0.2269" stop-color="#2e7f88"/><stop offset="0.2307" stop-color="#2e7f88"/><stop offset="0.2344" stop-color="#2f7f88"/><stop offset="0.2382" stop-color="#2f8088"/><stop offset="0.2420" stop-color="#2f8088"/><stop offset="0.2458" stop-color="#2f8088"/><stop offset="0.2496" stop-color="#308188"/><stop offset="0.2533" stop-color="#308188"/><stop offset="0.2571" stop-color="#308288"/><stop offset="0.2609" stop-color="#308288"/><stop offset="0.2647" stop-color="#318288"/><stop offset="0.2685" stop-color="#318388"/><stop offset="0.2722" stop-color="#318388"/><stop offset="0.2760" stop-color="#318388"/><stop offset="0.2778" stop-color="#328388"/><stop offset="0.3080" stop-color="#348688"/><stop offset="0.3383" stop-color="#368988"/><stop offset="0.3685" stop-color="#378c87"/><stop offset="0.3988" stop-color="#398f87"/><stop offset="0.4290" stop-color="#3b9287"/><stop offset="0.4593" stop-color="#3c9386"/><stop offset="0.4895" stop-color="#3d9586"/><stop offset="0.5198" stop-color="#3e9786"/><stop offset="0.5500" stop-color="#3f9986"/><stop offset="0.5803" stop-color="#3f9a85"/><stop offset="0.6105" stop-color="#409c85"/><stop offset="0.6408" stop-color="#419d85"/><stop offset="0.6710" stop-color="#419e85"/><stop offset="0.7013" stop-color="#429e84"/><stop offset="0.7315" stop-color="#439f84"/><stop offset="0.7618" stop-color="#43a084"/><stop offset="0.7920" stop-color="#44a183"/><stop offset="0.8223" stop-color="#44a183"/><stop offset="0.8525" stop-color="#45a283"/><stop offset="0.8828" stop-color="#45a383"/><stop offset="0.9130" stop-color="#46a382"/><stop offset="0.9433" stop-color="#46a482"/><stop offset="0.9735" stop-color="#47a582"/><stop offset="1.0000" stop-color="#47a581"/></linearGradient>
<linearGradient id="g9" gradientUnits="userSpaceOnUse" x1="0" y1="89.80" x2="0" y2="489.80"><stop offset="0.0000" stop-color="#3b9287"/><stop offset="0.0037" stop-color="#3b9386"/><stop offset="0.0075" stop-color="#3c9486"/><stop offset="0.0112" stop-color="#3d9686"/><stop offset="0.0150" stop-color="#3e9786"/><stop offset="0.0187" stop-color="#3e9886"/><stop offset="0.0225" stop-color="#3f9a85"/><stop offset="0.0262" stop-color="#419d85"/><stop offset="0.0300" stop-color="#47a582"/><stop offset="0.0338" stop-color="#4dad7e"/><stop offset="0.0375" stop-color="#56b579"/><stop offset="0.0413" stop-color="#61bd73"/><stop offset="0.0450" stop-color="#6dc56c"/><stop offset="0.0488" stop-color="#7fcb66"/><stop offset="0.0525" stop-color="#92d160"/><stop offset="0.0563" stop-color="#a6d75d"/><stop offset="0.0600" stop-color="#badb65"/><stop offset="0.0638" stop-color="#ccdf6d"/><stop offset="0.0675" stop-color="#d4e170"/><stop offset="0.0712" stop-color="#dae376"/><stop offset="0.0750" stop-color="#bedc67"/><stop offset="0.0788" stop-color="#70c66b"/><stop offset="0.0825" stop-color="#46a382"/><stop offset="0.0862" stop-color="#2e7f88"/><stop offset="0.0900" stop-color="#1e6b8b"/><stop offset="0.0938" stop-color="#19668c"/><stop offset="0.0975" stop-color="#13608e"/><stop offset="0.1013" stop-color="#115a90"/><stop offset="0.1050" stop-color="#105095"/><stop offset="0.1088" stop-color="#0f4799"/><stop offset="0.1125" stop-color="#1a399c"/><stop offset="0.1163" stop-color="#1e339d"/><stop offset="0.1200" stop-color="#222e9e"/><stop offset="0.1238" stop-color="#26299f"/><stop offset="0.1275" stop-color="#2924a0"/><stop offset="0.1313" stop-color="#2924a0"/><stop offset="0.1350" stop-color="#242a9f"/><stop offset="0.1388" stop-color="#1f319d"/><stop offset="0.1425" stop-color="#1a389c"/><stop offset="0.1463" stop-color="#104699"/><stop offset="0.1500" stop-color="#105095"/><stop offset="0.1538" stop-color="#115991"/><stop offset="0.1575" stop-color="#125d8f"/><stop offset="0.1613" stop-color="#13608e"/><stop offset="0.1650" stop-color="#15628d"/><stop offset="0.1688" stop-color="#17648d"/><stop offset="0.1725" stop-color="#18668c"/><stop offset="0.1763" stop-color="#1a688c"/><stop offset="0.1800" stop-color="#1c6a8b"/><stop offset="0.1838" stop-color="#1e6c8b"/><stop offset="0.1875" stop-color="#206e8a"/><stop offset="0.1913" stop-color="#22708a"/><stop offset="0.1950" stop-color="#23718a"/><stop offset="0.1988" stop-color="#257389"/><stop offset="0.2025" stop-color="#267589"/><stop offset="0.2063" stop-color="#287689"/><stop offset="0.2100" stop-color="#297889"/><stop offset="0.2138" stop-color="#2a7989"/><stop offset="0.2175" stop-color="#2b7b89"/><stop offset="0.2213" stop-color="#2c7c89"/><stop offset="0.2250" stop-color="#2d7d89"/><stop offset="0.2288" stop-color="#2d7e89"/><stop offset="0.2325" stop-color="#2e7f88"/><stop offset="0.2363" stop-color="#2f8088"/><stop offset="0.2400" stop-color="#2f8088"/><stop offset="0.2438" stop-color="#2f8088"/><stop offset="0.2475" stop-color="#308188"/><stop offset="0.2513" stop-color="#308188"/><stop offset="0.2550" stop-color="#308288"/><stop offset="0.2588" stop-color="#308288"/><stop offset="0.2625" stop-color="#318288"/><stop offset="0.2663" stop-color="#318388"/><stop offset="0.2700" stop-color="#318388"/><stop offset="0.2738" stop-color="#318388"/><stop offset="0.2755" stop-color="#328388"/><stop offset="0.3055" stop-color="#348688"/><stop offset="0.3355" stop-color="#368988"/><stop offset="0.3655" stop-color="#378c87"/><stop offset="0.3955" stop-color="#398f87"/><stop offset="0.4255" stop-color="#3b9287"/><stop offset="0.4555" stop-color="#3c9386"/><stop offset="0.4855" stop-color="#3d9586"/><stop offset="0.5155" stop-color="#3e9786"/><stop offset="0.5455" stop-color="#3f9986"/><stop offset="0.5755" stop-color="#3f9a85"/><stop offset="0.6055" stop-color="#409c85"/><stop offset="0.6355" stop-color="#419d85"/><stop offset="0.6655" stop-color="#419e85"/><stop offset="0.6955" stop-color="#429e84"/><stop offset="0.7255" stop-color="#439f84"/><stop offset="0.7555" stop-color="#43a084"/><stop offset="0.7855" stop-color="#44a183"/><stop offset="0.8155" stop-color="#44a183"/><stop offset="0.8455" stop-color="#45a283"/><stop offset="0.8755" stop-color="#45a383"/><stop offset="0.9055" stop-color="#46a382"/><stop offset="0.9355" stop-color="#46a482"/><stop offset="0.9655" stop-color="#47a582"/><stop offset="0.9955" stop-color="#47a581"/></linearGradient>
<linearGradient id="g10" gradientUnits="userSpaceOnUse" x1="0" y1="89.80" x2="0" y2="485.60"><stop offset="0.0000" stop-color="#409b85"/><stop offset="0.0038" stop-color="#409b85"/><stop offset="0.0076" stop-color="#409c85"/><stop offset="0.0114" stop-color="#409c85"/><stop offset="0.0152" stop-color="#419c85"/><stop offset="0.0189" stop-color="#419d85"/><stop offset="0.0227" stop-color="#419d85"/><stop offset="0.0265" stop-color="#419d85"/><stop offset="0.0303" stop-color="#429e85"/><stop offset="0.0341" stop-color="#429e84"/><stop offset="0.0379" stop-color="#429f84"/><stop offset="0.0417" stop-color="#439f84"/><stop offset="0.0455" stop-color="#439f84"/><stop offset="0.0493" stop-color="#43a084"/><stop offset="0.0531" stop-color="#43a084"/><stop offset="0.0568" stop-color="#47a582"/><stop offset="0.0606" stop-color="#50b07d"/><stop offset="0.0644" stop-color="#5ebb75"/><stop offset="0.0682" stop-color="#6ec56c"/><stop offset="0.0720" stop-color="#87ce63"/><stop offset="0.0758" stop-color="#91d160"/><stop offset="0.0796" stop-color="#9bd45d"/><stop offset="0.0834" stop-color="#72c76a"/><stop offset="0.0872" stop-color="#4fb07d"/><stop offset="0.0910" stop-color="#3f9986"/><stop offset="0.0947" stop-color="#328488"/><stop offset="0.0985" stop-color="#22708a"/><stop offset="0.1023" stop-color="#115a90"/><stop offset="0.1061" stop-color="#105095"/><stop offset="0.1099" stop-color="#104d96"/><stop offset="0.1137" stop-color="#104b97"/><stop offset="0.1175" stop-color="#14419a"/><stop offset="0.1213" stop-color="#1e339d"/><stop offset="0.1251" stop-color="#2925a0"/><stop offset="0.1289" stop-color="#27279f"/><stop offset="0.1326" stop-color="#1a389c"/><stop offset="0.1364" stop-color="#0f4898"/><stop offset="0.1402" stop-color="#115493"/><stop offset="0.1440" stop-color="#17648d"/><stop offset="0.1478" stop-color="#257389"/><stop offset="0.1516" stop-color="#2f8088"/><stop offset="0.1554" stop-color="#398e87"/><stop offset="0.1592" stop-color="#3b9287"/><stop offset="0.1630" stop-color="#3b9287"/><stop offset="0.1668" stop-color="#3b9386"/><stop offset="0.1705" stop-color="#3b9386"/><stop offset="0.1743" stop-color="#3c9486"/><stop offset="0.1781" stop-color="#3c9486"/><stop offset="0.1819" stop-color="#3c9586"/><stop offset="0.1857" stop-color="#3c9586"/><stop offset="0.1895" stop-color="#3d9586"/><stop offset="0.1933" stop-color="#3b9287"/><stop offset="0.1971" stop-color="#388e87"/><stop offset="0.2009" stop-color="#368a88"/><stop offset="0.2046" stop-color="#348688"/><stop offset="0.2084" stop-color="#318388"/><stop offset="0.2122" stop-color="#2f8088"/><stop offset="0.2160" stop-color="#2f8088"/><stop offset="0.2198" stop-color="#2f8088"/><stop offset="0.2236" stop-color="#2f8088"/><stop offset="0.2274" stop-color="#2f8088"/><stop offset="0.2312" stop-color="#2f8088"/><stop offset="0.2350" stop-color="#2f8088"/><stop offset="0.2388" stop-color="#2f8088"/><stop offset="0.2425" stop-color="#2f8088"/><stop offset="0.2463" stop-color="#2f8088"/><stop offset="0.2501" stop-color="#308188"/><stop offset="0.2539" stop-color="#308188"/><stop offset="0.2577" stop-color="#308288"/><stop offset="0.2615" stop-color="#308288"/><stop offset="0.2653" stop-color="#318288"/><stop offset="0.2691" stop-color="#318388"/><stop offset="0.2729" stop-color="#318388"/><stop offset="0.2767" stop-color="#318388"/><stop offset="0.2784" stop-color="#328388"/><stop offset="0.3087" stop-color="#348688"/><stop offset="0.3391" stop-color="#368988"/><stop offset="0.3694" stop-color="#378c87"/><stop offset="0.3997" stop-color="#398f87"/><stop offset="0.4300" stop-color="#3b9287"/><stop offset="0.4603" stop-color="#3c9386"/><stop offset="0.4907" stop-color="#3d9586"/><stop offset="0.5210" stop-color="#3e9786"/><stop offset="0.5513" stop-color="#3f9986"/><stop offset="0.5816" stop-color="#3f9a85"/><stop offset="0.6119" stop-color="#409c85"/><stop offset="0.6422" stop-color="#419d85"/><stop offset="0.6726" stop-color="#419e85"/><stop offset="0.7029" stop-color="#429e84"/><stop offset="0.7332" stop-color="#439f84"/><stop offset="0.7635" stop-color="#43a084"/><stop offset="0.7938" stop-color="#44a183"/><stop offset="0.8242" stop-color="#44a183"/><stop offset="0.8545" stop-color="#45a283"/><stop offset="0.8848" stop-color="#45a383"/><stop offset="0.9151" stop-color="#46a382"/><stop offset="0.9454" stop-color="#46a482"/><stop offset="0.9757" stop-color="#47a582"/><stop offset="1.0000" stop-color="#47a581"/></linearGradient>
<linearGradient id="g11" gradientUnits="userSpaceOnUse" x1="0" y1="89.80" x2="0" y2="491.00"><stop offset="0.0000" stop-color="#3b9287"/><stop offset="0.0037" stop-color="#3b9287"/><stop offset="0.0075" stop-color="#3b9287"/><stop offset="0.0112" stop-color="#3b9386"/><stop offset="0.0150" stop-color="#3b9386"/><stop offset="0.0187" stop-color="#3c9486"/><stop offset="0.0224" stop-color="#3c9486"/><stop offset="0.0262" stop-color="#3c9486"/><stop offset="0.0299" stop-color="#3c9586"/><stop offset="0.0336" stop-color="#3c9586"/><stop offset="0.0374" stop-color="#3d9586"/><stop offset="0.0411" stop-color="#45a283"/><stop offset="0.0449" stop-color="#4fb07d"/><stop offset="0.0486" stop-color="#62be72"/><stop offset="0.0523" stop-color="#6ec56c"/><stop offset="0.0561" stop-color="#72c76a"/><stop offset="0.0598" stop-color="#78c968"/><stop offset="0.0636" stop-color="#7dcb66"/><stop offset="0.0673" stop-color="#83cc65"/><stop offset="0.0710" stop-color="#88ce63"/><stop offset="0.0748" stop-color="#8ed061"/><stop offset="0.0785" stop-color="#93d25f"/><stop offset="0.0823" stop-color="#79c968"/><stop offset="0.0860" stop-color="#5fbb74"/><stop offset="0.0897" stop-color="#4dac7f"/><stop offset="0.0935" stop-color="#419d85"/><stop offset="0.0972" stop-color="#388c87"/><stop offset="0.1009" stop-color="#2c7c89"/><stop offset="0.1047" stop-color="#1d6b8b"/><stop offset="0.1084" stop-color="#115991"/><stop offset="0.1122" stop-color="#11449a"/><stop offset="0.1159" stop-color="#153f9b"/><stop offset="0.1196" stop-color="#173c9b"/><stop offset="0.1234" stop-color="#193a9b"/><stop offset="0.1271" stop-color="#1a389c"/><stop offset="0.1309" stop-color="#173d9b"/><stop offset="0.1346" stop-color="#0f4a98"/><stop offset="0.1383" stop-color="#115393"/><stop offset="0.1421" stop-color="#125c8f"/><stop offset="0.1458" stop-color="#16638d"/><stop offset="0.1496" stop-color="#1c6a8b"/><stop offset="0.1533" stop-color="#22708a"/><stop offset="0.1570" stop-color="#287789"/><stop offset="0.1608" stop-color="#2d7d89"/><stop offset="0.1645" stop-color="#2f8088"/><stop offset="0.1682" stop-color="#2f8088"/><stop offset="0.1720" stop-color="#2f8088"/><stop offset="0.1757" stop-color="#2f8088"/><stop offset="0.1795" stop-color="#2f8088"/><stop offset="0.1832" stop-color="#2f8088"/><stop offset="0.1869" stop-color="#2f8088"/><stop offset="0.1907" stop-color="#2f8088"/><stop offset="0.1944" stop-color="#2f8088"/><stop offset="0.1982" stop-color="#2f8088"/><stop offset="0.2019" stop-color="#2f8088"/><stop offset="0.2056" stop-color="#2f8088"/><stop offset="0.2094" stop-color="#2f8088"/><stop offset="0.2131" stop-color="#2f8088"/><stop offset="0.2168" stop-color="#2f8088"/><stop offset="0.2206" stop-color="#2f8088"/><stop offset="0.2243" stop-color="#2f8088"/><stop offset="0.2281" stop-color="#2f8088"/><stop offset="0.2318" stop-color="#2f8088"/><stop offset="0.2355" stop-color="#2f8088"/><stop offset="0.2393" stop-color="#2f8088"/><stop offset="0.2430" stop-color="#2f8088"/><stop offset="0.2468" stop-color="#308188"/><stop offset="0.2505" stop-color="#308188"/><stop offset="0.2542" stop-color="#308288"/><stop offset="0.2580" stop-color="#308288"/><stop offset="0.2617" stop-color="#318288"/><stop offset="0.2655" stop-color="#318388"/><stop offset="0.2692" stop-color="#318388"/><stop offset="0.2729" stop-color="#318388"/><stop offset="0.2747" stop-color="#328388"/><stop offset="0.3046" stop-color="#348688"/><stop offset="0.3345" stop-color="#368988"/><stop offset="0.3644" stop-color="#378c87"/><stop offset="0.3943" stop-color="#398f87"/><stop offset="0.4242" stop-color="#3b9287"/><stop offset="0.4541" stop-color="#3c9386"/><stop offset="0.4840" stop-color="#3d9586"/><stop offset="0.5140" stop-color="#3e9786"/><stop offset="0.5439" stop-color="#3f9986"/><stop offset="0.5738" stop-color="#3f9a85"/><stop offset="0.6037" stop-color="#409c85"/><stop offset="0.6336" stop-color="#419d85"/><stop offset="0.6635" stop-color="#419e85"/><stop offset="0.6934" stop-color="#429e84"/><stop offset="0.7233" stop-color="#439f84"/><stop offset="0.7532" stop-color="#43a084"/><stop offset="0.7832" stop-color="#44a183"/><stop offset="0.8131" stop-color="#44a183"/><stop offset="0.8430" stop-color="#45a283"/><stop offset="0.8729" stop-color="#45a383"/><stop offset="0.9028" stop-color="#46a382"/><stop offset="0.9327" stop-color="#46a482"/><stop offset="0.9626" stop-color="#47a582"/><stop offset="0.9925" stop-color="#47a581"/><stop offset="1.0000" stop-color="#48a681"/></linearGradient>
<linearGradient id="g12" gradientUnits="userSpaceOnUse" x1="0" y1="89.80" x2="0" y2="485.60"><stop offset="0.0000" stop-color="#3b9287"/><stop offset="0.0038" stop-color="#3b9287"/><stop offset="0.0076" stop-color="#3b9287"/><stop offset="0.0114" stop-color="#3b9386"/><stop offset="0.0152" stop-color="#3b9386"/><stop offset="0.0189" stop-color="#3b9386"/><stop offset="0.0227" stop-color="#3c9486"/><stop offset="0.0265" stop-color="#3c9486"/><stop offset="0.0303" stop-color="#3c9486"/><stop offset="0.0341" stop-color="#3c9586"/><stop offset="0.0379" stop-color="#3c9586"/><stop offset="0.0417" stop-color="#3d9586"/><stop offset="0.0455" stop-color="#419d85"/><stop offset="0.0493" stop-color="#48a681"/><stop offset="0.0531" stop-color="#4faf7d"/><stop offset="0.0568" stop-color="#5bb976"/><stop offset="0.0606" stop-color="#64bf71"/><stop offset="0.0644" stop-color="#64bf71"/><stop offset="0.0682" stop-color="#64bf71"/><stop offset="0.0720" stop-color="#64bf71"/><stop offset="0.0758" stop-color="#64bf71"/><stop offset="0.0796" stop-color="#64bf71"/><stop offset="0.0834" stop-color="#64bf71"/><stop offset="0.0872" stop-color="#4cac7f"/><stop offset="0.0910" stop-color="#388e87"/><stop offset="0.0947" stop-color="#23718a"/><stop offset="0.0985" stop-color="#115a90"/><stop offset="0.1023" stop-color="#115593"/><stop offset="0.1061" stop-color="#105095"/><stop offset="0.1099" stop-color="#104b97"/><stop offset="0.1137" stop-color="#14409a"/><stop offset="0.1175" stop-color="#1e339d"/><stop offset="0.1213" stop-color="#28269f"/><stop offset="0.1251" stop-color="#222d9e"/><stop offset="0.1289" stop-color="#14409a"/><stop offset="0.1326" stop-color="#104f95"/><stop offset="0.1364" stop-color="#115b90"/><stop offset="0.1402" stop-color="#17648d"/><stop offset="0.1440" stop-color="#206d8b"/><stop offset="0.1478" stop-color="#287689"/><stop offset="0.1516" stop-color="#2e7f88"/><stop offset="0.1554" stop-color="#2f8088"/><stop offset="0.1592" stop-color="#2f8088"/><stop offset="0.1630" stop-color="#2f8088"/><stop offset="0.1668" stop-color="#2f8088"/><stop offset="0.1705" stop-color="#2f8088"/><stop offset="0.1743" stop-color="#2f8088"/><stop offset="0.1781" stop-color="#2f8088"/><stop offset="0.1819" stop-color="#2f8088"/><stop offset="0.1857" stop-color="#2f8088"/><stop offset="0.1895" stop-color="#2f8088"/><stop offset="0.1933" stop-color="#2f8088"/><stop offset="0.1971" stop-color="#2f8088"/><stop offset="0.2009" stop-color="#2f8088"/><stop offset="0.2046" stop-color="#2f8088"/><stop offset="0.2084" stop-color="#2f8088"/><stop offset="0.2122" stop-color="#2f8088"/><stop offset="0.2160" stop-color="#2f8088"/><stop offset="0.2198" stop-color="#2f8088"/><stop offset="0.2236" stop-color="#2f8088"/><stop offset="0.2274" stop-color="#2f8088"/><stop offset="0.2312" stop-color="#2f8088"/><stop offset="0.2350" stop-color="#2f8088"/><stop offset="0.2388" stop-color="#2f8088"/><stop offset="0.2425" stop-color="#2f8088"/><stop offset="0.2463" stop-color="#2f8088"/><stop offset="0.2501" stop-color="#308188"/><stop offset="0.2539" stop-color="#308188"/><stop offset="0.2577" stop-color="#308288"/><stop offset="0.2615" stop-color="#308288"/><stop offset="0.2653" stop-color="#318288"/><stop offset="0.2691" stop-color="#318388"/><stop offset="0.2729" stop-color="#318388"/><stop offset="0.2767" stop-color="#318388"/><stop offset="0.2784" stop-color="#328388"/><stop offset="0.3087" stop-color="#348688"/><stop offset="0.3391" stop-color="#368988"/><stop offset="0.3694" stop-color="#378c87"/><stop offset="0.3997" stop-color="#398f87"/><stop offset="0.4300" stop-color="#3b9287"/><stop offset="0.4603" stop-color="#3c9386"/><stop offset="0.4907" stop-color="#3d9586"/><stop offset="0.5210" stop-color="#3e9786"/><stop offset="0.5513" stop-color="#3f9986"/><stop offset="0.5816" stop-color="#3f9a85"/><stop offset="0.6119" stop-color="#409c85"/><stop offset="0.6422" stop-color="#419d85"/><stop offset="0.6726" stop-color="#419e85"/><stop offset="0.7029" stop-color="#429e84"/><stop offset="0.7332" stop-color="#439f84"/><stop offset="0.7635" stop-color="#43a084"/><stop offset="0.7938" stop-color="#44a183"/><stop offset="0.8242" stop-color="#44a183"/><stop offset="0.8545" stop-color="#45a283"/><stop offset="0.8848" stop-color="#45a383"/><stop offset="0.9151" stop-color="#46a382"/><stop offset="0.9454" stop-color="#46a482"/><stop offset="0.9757" stop-color="#47a582"/><stop offset="1.0000" stop-color="#47a581"/></linearGradient>
<linearGradient id="g13" gradientUnits="userSpaceOnUse" x1="0" y1="89.80" x2="0" y2="491.00"><stop offset="0.0000" stop-color="#3b9287"/><stop offset="0.0037" stop-color="#3b9287"/><stop offset="0.0075" stop-color="#3b9386"/><stop offset="0.0112" stop-color="#3b9386"/><stop offset="0.0150" stop-color="#3c9486"/><stop offset="0.0187" stop-color="#3c9486"/><stop offset="0.0224" stop-color="#3c9586"/><stop offset="0.0262" stop-color="#3c9586"/><stop offset="0.0299" stop-color="#3d9786"/><stop offset="0.0336" stop-color="#47a582"/><stop offset="0.0374" stop-color="#53b37b"/><stop offset="0.0411" stop-color="#67c170"/><stop offset="0.0449" stop-color="#6cc46c"/><stop offset="0.0486" stop-color="#6dc56c"/><stop offset="0.0523" stop-color="#6ec56c"/><stop offset="0.0561" stop-color="#6ec66b"/><stop offset="0.0598" stop-color="#6fc66b"/><stop offset="0.0636" stop-color="#70c66b"/><stop offset="0.0673" stop-color="#71c76a"/><stop offset="0.0710" stop-color="#72c76a"/><stop offset="0.0748" stop-color="#54b47a"/><stop offset="0.0785" stop-color="#439f84"/><stop offset="0.0823" stop-color="#368b88"/><stop offset="0.0860" stop-color="#2c7d89"/><stop offset="0.0897" stop-color="#247289"/><stop offset="0.0935" stop-color="#19678c"/><stop offset="0.0972" stop-color="#125b90"/><stop offset="0.1009" stop-color="#105095"/><stop offset="0.1047" stop-color="#0f4a98"/><stop offset="0.1084" stop-color="#13429a"/><stop offset="0.1122" stop-color="#1a389c"/><stop offset="0.1159" stop-color="#12439a"/><stop offset="0.1196" stop-color="#104e96"/><stop offset="0.1234" stop-color="#115792"/><stop offset="0.1271" stop-color="#13608e"/><stop offset="0.1309" stop-color="#1a678c"/><stop offset="0.1346" stop-color="#216f8a"/><stop offset="0.1383" stop-color="#287689"/><stop offset="0.1421" stop-color="#2c7c89"/><stop offset="0.1458" stop-color="#2c7d89"/><stop offset="0.1496" stop-color="#2d7d89"/><stop offset="0.1533" stop-color="#2d7d89"/><stop offset="0.1570" stop-color="#2d7d89"/><stop offset="0.1608" stop-color="#2d7d89"/><stop offset="0.1645" stop-color="#2d7d89"/><stop offset="0.1682" stop-color="#2d7d89"/><stop offset="0.1720" stop-color="#2d7e89"/><stop offset="0.1757" stop-color="#2d7e89"/><stop offset="0.1795" stop-color="#2d7e89"/><stop offset="0.1832" stop-color="#2d7e89"/><stop offset="0.1869" stop-color="#2e7e88"/><stop offset="0.1907" stop-color="#2e7e88"/><stop offset="0.1944" stop-color="#2e7e88"/><stop offset="0.1982" stop-color="#2e7f88"/><stop offset="0.2019" stop-color="#2e7f88"/><stop offset="0.2056" stop-color="#2e7f88"/><stop offset="0.2094" stop-color="#2e7f88"/><stop offset="0.2131" stop-color="#2e7f88"/><stop offset="0.2168" stop-color="#2e7f88"/><stop offset="0.2206" stop-color="#2e7f88"/><stop offset="0.2243" stop-color="#2f7f88"/><stop offset="0.2281" stop-color="#2f8088"/><stop offset="0.2318" stop-color="#2f8088"/><stop offset="0.2355" stop-color="#2f8088"/><stop offset="0.2393" stop-color="#2f8088"/><stop offset="0.2430" stop-color="#2f8088"/><stop offset="0.2468" stop-color="#308188"/><stop offset="0.2505" stop-color="#308188"/><stop offset="0.2542" stop-color="#308288"/><stop offset="0.2580" stop-color="#308288"/><stop offset="0.2617" stop-color="#318288"/><stop offset="0.2655" stop-color="#318388"/><stop offset="0.2692" stop-color="#318388"/><stop offset="0.2729" stop-color="#318388"/><stop offset="0.2747" stop-color="#328388"/><stop offset="0.3046" stop-color="#348688"/><stop offset="0.3345" stop-color="#368988"/><stop offset="0.3644" stop-color="#378c87"/><stop offset="0.3943" stop-color="#398f87"/><stop offset="0.4242" stop-color="#3b9287"/><stop offset="0.4541" stop-color="#3c9386"/><stop offset="0.4840" stop-color="#3d9586"/><stop offset="0.5140" stop-color="#3e9786"/><stop offset="0.5439" stop-color="#3f9986"/><stop offset="0.5738" stop-color="#3f9a85"/><stop offset="0.6037" stop-color="#409c85"/><stop offset="0.6336" stop-color="#419d85"/><stop offset="0.6635" stop-color="#419e85"/><stop offset="0.6934" stop-color="#429e84"/><stop offset="0.7233" stop-color="#439f84"/><stop offset="0.7532" stop-color="#43a084"/><stop offset="0.7832" stop-color="#44a183"/><stop offset="0.8131" stop-color="#44a183"/><stop offset="0.8430" stop-color="#45a283"/><stop offset="0.8729" stop-color="#45a383"/><stop offset="0.9028" stop-color="#46a382"/><stop offset="0.9327" stop-color="#46a482"/><stop offset="0.9626" stop-color="#47a582"/><stop offset="0.9925" stop-color="#47a581"/><stop offset="1.0000" stop-color="#48a681"/></linearGradient>
<linearGradient id="g14" gradientUnits="userSpaceOnUse" x1="0" y1="89.80" x2="0" y2="484.40"><stop offset="0.0000" stop-color="#358988"/><stop offset="0.0038" stop-color="#368a88"/><stop offset="0.0076" stop-color="#378c87"/><stop offset="0.0114" stop-color="#388d87"/><stop offset="0.0152" stop-color="#3c9586"/><stop offset="0.0190" stop-color="#44a183"/><stop offset="0.0228" stop-color="#4dad7e"/><stop offset="0.0266" stop-color="#57b678"/><stop offset="0.0304" stop-color="#59b777"/><stop offset="0.0342" stop-color="#5bb877"/><stop offset="0.0380" stop-color="#5cb976"/><stop offset="0.0418" stop-color="#68c16f"/><stop offset="0.0456" stop-color="#7ac968"/><stop offset="0.0494" stop-color="#90d160"/><stop offset="0.0532" stop-color="#a6d75d"/><stop offset="0.0570" stop-color="#a9d85f"/><stop offset="0.0608" stop-color="#90d160"/><stop offset="0.0646" stop-color="#78c968"/><stop offset="0.0684" stop-color="#66c070"/><stop offset="0.0722" stop-color="#57b678"/><stop offset="0.0760" stop-color="#45a283"/><stop offset="0.0798" stop-color="#388e87"/><stop offset="0.0836" stop-color="#2a7a89"/><stop offset="0.0874" stop-color="#18668c"/><stop offset="0.0912" stop-color="#115792"/><stop offset="0.0950" stop-color="#104d96"/><stop offset="0.0988" stop-color="#13429a"/><stop offset="0.1026" stop-color="#19399c"/><stop offset="0.1064" stop-color="#12449a"/><stop offset="0.1102" stop-color="#104c97"/><stop offset="0.1140" stop-color="#105394"/><stop offset="0.1178" stop-color="#115a90"/><stop offset="0.1216" stop-color="#125d8f"/><stop offset="0.1254" stop-color="#125e8f"/><stop offset="0.1292" stop-color="#125f8e"/><stop offset="0.1330" stop-color="#15628d"/><stop offset="0.1368" stop-color="#1c698c"/><stop offset="0.1406" stop-color="#22708a"/><stop offset="0.1445" stop-color="#287689"/><stop offset="0.1483" stop-color="#2c7c89"/><stop offset="0.1521" stop-color="#2c7d89"/><stop offset="0.1559" stop-color="#2d7d89"/><stop offset="0.1597" stop-color="#2d7d89"/><stop offset="0.1635" stop-color="#2d7d89"/><stop offset="0.1673" stop-color="#2d7d89"/><stop offset="0.1711" stop-color="#2d7d89"/><stop offset="0.1749" stop-color="#2d7d89"/><stop offset="0.1787" stop-color="#2d7e89"/><stop offset="0.1825" stop-color="#2d7e89"/><stop offset="0.1863" stop-color="#2d7e89"/><stop offset="0.1901" stop-color="#2e7e88"/><stop offset="0.1939" stop-color="#2e7e88"/><stop offset="0.1977" stop-color="#2e7e88"/><stop offset="0.2015" stop-color="#2e7e88"/><stop offset="0.2053" stop-color="#2e7f88"/><stop offset="0.2091" stop-color="#2e7f88"/><stop offset="0.2129" stop-color="#2e7f88"/><stop offset="0.2167" stop-color="#2e7f88"/><stop offset="0.2205" stop-color="#2e7f88"/><stop offset="0.2243" stop-color="#2e7f88"/><stop offset="0.2281" stop-color="#2f7f88"/><stop offset="0.2319" stop-color="#2f8088"/><stop offset="0.2357" stop-color="#2f8088"/><stop offset="0.2395" stop-color="#2f8088"/><stop offset="0.2433" stop-color="#2f8088"/><stop offset="0.2471" stop-color="#2f8088"/><stop offset="0.2509" stop-color="#308188"/><stop offset="0.2547" stop-color="#308188"/><stop offset="0.2585" stop-color="#308288"/><stop offset="0.2623" stop-color="#308288"/><stop offset="0.2661" stop-color="#318288"/><stop offset="0.2699" stop-color="#318388"/><stop offset="0.2737" stop-color="#318388"/><stop offset="0.2775" stop-color="#318388"/><stop offset="0.2793" stop-color="#328388"/><stop offset="0.3097" stop-color="#348688"/><stop offset="0.3401" stop-color="#368988"/><stop offset="0.3705" stop-color="#378c87"/><stop offset="0.4009" stop-color="#398f87"/><stop offset="0.4313" stop-color="#3b9287"/><stop offset="0.4617" stop-color="#3c9386"/><stop offset="0.4921" stop-color="#3d9586"/><stop offset="0.5226" stop-color="#3e9786"/><stop offset="0.5530" stop-color="#3f9986"/><stop offset="0.5834" stop-color="#3f9a85"/><stop offset="0.6138" stop-color="#409c85"/><stop offset="0.6442" stop-color="#419d85"/><stop offset="0.6746" stop-color="#419e85"/><stop offset="0.7050" stop-color="#429e84"/><stop offset="0.7354" stop-color="#439f84"/><stop offset="0.7658" stop-color="#43a084"/><stop offset="0.7962" stop-color="#44a183"/><stop offset="0.8267" stop-color="#44a183"/><stop offset="0.8571" stop-color="#45a283"/><stop offset="0.8875" stop-color="#45a383"/><stop offset="0.9179" stop-color="#46a382"/><stop offset="0.9483" stop-color="#46a482"/><stop offset="0.9787" stop-color="#47a582"/><stop offset="1.0000" stop-color="#47a581"/></linearGradient>
<linearGradient id="g15" gradientUnits="userSpaceOnUse" x1="0" y1="89.80" x2="0" y2="489.80"><stop offset="0.0000" stop-color="#3b9287"/><stop offset="0.0037" stop-color="#3b9287"/><stop offset="0.0075" stop-color="#3b9386"/><stop offset="0.0112" stop-color="#3c9486"/><stop offset="0.0150" stop-color="#3c9486"/><stop offset="0.0187" stop-color="#3c9586"/><stop offset="0.0225" stop-color="#3e9886"/><stop offset="0.0262" stop-color="#429f84"/><stop offset="0.0300" stop-color="#48a681"/><stop offset="0.0338" stop-color="#4dad7e"/><stop offset="0.0375" stop-color="#4fb07d"/><stop offset="0.0413" stop-color="#51b27c"/><stop offset="0.0450" stop-color="#60bc74"/><stop offset="0.0488" stop-color="#73c76a"/><stop offset="0.0525" stop-color="#91d160"/><stop offset="0.0563" stop-color="#afd961"/><stop offset="0.0600" stop-color="#9fd65b"/><stop offset="0.0638" stop-color="#8acf62"/><stop offset="0.0675" stop-color="#74c869"/><stop offset="0.0712" stop-color="#64bf71"/><stop offset="0.0750" stop-color="#4dad7e"/><stop offset="0.0788" stop-color="#409b85"/><stop offset="0.0825" stop-color="#358888"/><stop offset="0.0862" stop-color="#287789"/><stop offset="0.0900" stop-color="#1c6a8b"/><stop offset="0.0938" stop-color="#14618e"/><stop offset="0.0975" stop-color="#115792"/><stop offset="0.1013" stop-color="#104d96"/><stop offset="0.1050" stop-color="#14409a"/><stop offset="0.1088" stop-color="#1f319d"/><stop offset="0.1125" stop-color="#173c9b"/><stop offset="0.1163" stop-color="#0f4899"/><stop offset="0.1200" stop-color="#105095"/><stop offset="0.1238" stop-color="#115891"/><stop offset="0.1275" stop-color="#13608e"/><stop offset="0.1313" stop-color="#1a678c"/><stop offset="0.1350" stop-color="#216f8a"/><stop offset="0.1388" stop-color="#287689"/><stop offset="0.1425" stop-color="#2c7c89"/><stop offset="0.1463" stop-color="#2c7d89"/><stop offset="0.1500" stop-color="#2d7d89"/><stop offset="0.1538" stop-color="#2d7d89"/><stop offset="0.1575" stop-color="#2d7d89"/><stop offset="0.1613" stop-color="#2d7d89"/><stop offset="0.1650" stop-color="#2d7d89"/><stop offset="0.1688" stop-color="#2d7d89"/><stop offset="0.1725" stop-color="#2d7e89"/><stop offset="0.1763" stop-color="#2d7e89"/><stop offset="0.1800" stop-color="#2d7e89"/><stop offset="0.1838" stop-color="#2d7e89"/><stop offset="0.1875" stop-color="#2e7e88"/><stop offset="0.1913" stop-color="#2e7e88"/><stop offset="0.1950" stop-color="#2e7e88"/><stop offset="0.1988" stop-color="#2e7f88"/><stop offset="0.2025" stop-color="#2e7f88"/><stop offset="0.2063" stop-color="#2e7f88"/><stop offset="0.2100" stop-color="#2e7f88"/><stop offset="0.2138" stop-color="#2e7f88"/><stop offset="0.2175" stop-color="#2e7f88"/><stop offset="0.2213" stop-color="#2e7f88"/><stop offset="0.2250" stop-color="#2f7f88"/><stop offset="0.2288" stop-color="#2f8088"/><stop offset="0.2325" stop-color="#2f8088"/><stop offset="0.2363" stop-color="#2f8088"/><stop offset="0.2400" stop-color="#2f8088"/><stop offset="0.2438" stop-color="#2f8088"/><stop offset="0.2475" stop-color="#308188"/><stop offset="0.2513" stop-color="#308188"/><stop offset="0.2550" stop-color="#308288"/><stop offset="0.2588" stop-color="#308288"/><stop offset="0.2625" stop-color="#318288"/><stop offset="0.2663" stop-color="#318388"/><stop offset="0.2700" stop-color="#318388"/><stop offset="0.2738" stop-color="#318388"/><stop offset="0.2755" stop-color="#328388"/><stop offset="0.3055" stop-color="#348688"/><stop offset="0.3355" stop-color="#368988"/><stop offset="0.3655" stop-color="#378c87"/><stop offset="0.3955" stop-color="#398f87"/><stop offset="0.4255" stop-color="#3b9287"/><stop offset="0.4555" stop-color="#3c9386"/><stop offset="0.4855" stop-color="#3d9586"/><stop offset="0.5155" stop-color="#3e9786"/><stop offset="0.5455" stop-color="#3f9986"/><stop offset="0.5755" stop-color="#3f9a85"/><stop offset="0.6055" stop-color="#409c85"/><stop offset="0.6355" stop-color="#419d85"/><stop offset="0.6655" stop-color="#419e85"/><stop offset="0.6955" stop-color="#429e84"/><stop offset="0.7255" stop-color="#439f84"/><stop offset="0.7555" stop-color="#43a084"/><stop offset="0.7855" stop-color="#44a183"/><stop offset="0.8155" stop-color="#44a183"/><stop offset="0.8455" stop-color="#45a283"/><stop offset="0.8755" stop-color="#45a383"/><stop offset="0.9055" stop-color="#46a382"/><stop offset="0.9355" stop-color="#46a482"/><stop offset="0.9655" stop-color="#47a582"/><stop offset="0.9955" stop-color="#47a581"/></linearGradient>
<linearGradient id="g16" gradientUnits="userSpaceOnUse" x1="0" y1="89.80" x2="0" y2="485.60"><stop offset="0.0000" stop-color="#358988"/><stop offset="0.0038" stop-color="#368a88"/><stop offset="0.0076" stop-color="#378c87"/><stop offset="0.0114" stop-color="#388d87"/><stop offset="0.0152" stop-color="#3a9287"/><stop offset="0.0189" stop-color="#3e9886"/><stop offset="0.0227" stop-color="#429f84"/><stop offset="0.0265" stop-color="#46a482"/><stop offset="0.0303" stop-color="#47a482"/><stop offset="0.0341" stop-color="#47a582"/><stop offset="0.0379" stop-color="#47a581"/><stop offset="0.0417" stop-color="#48a681"/><stop offset="0.0455" stop-color="#48a681"/><stop offset="0.0493" stop-color="#48a681"/><stop offset="0.0531" stop-color="#48a781"/><stop offset="0.0568" stop-color="#49a781"/><stop offset="0.0606" stop-color="#49a781"/><stop offset="0.0644" stop-color="#46a382"/><stop offset="0.0682" stop-color="#378c87"/><stop offset="0.0720" stop-color="#277689"/><stop offset="0.0758" stop-color="#125f8e"/><stop offset="0.0796" stop-color="#115692"/><stop offset="0.0834" stop-color="#104f95"/><stop offset="0.0872" stop-color="#0f4898"/><stop offset="0.0910" stop-color="#153f9b"/><stop offset="0.0947" stop-color="#1d359d"/><stop offset="0.0985" stop-color="#222d9e"/><stop offset="0.1023" stop-color="#232c9e"/><stop offset="0.1061" stop-color="#242b9e"/><stop offset="0.1099" stop-color="#242a9f"/><stop offset="0.1137" stop-color="#252a9f"/><stop offset="0.1175" stop-color="#26299f"/><stop offset="0.1213" stop-color="#26289f"/><stop offset="0.1251" stop-color="#20309d"/><stop offset="0.1289" stop-color="#153e9b"/><stop offset="0.1326" stop-color="#0f4b97"/><stop offset="0.1364" stop-color="#115493"/><stop offset="0.1402" stop-color="#125d8f"/><stop offset="0.1440" stop-color="#16638d"/><stop offset="0.1478" stop-color="#1c698c"/><stop offset="0.1516" stop-color="#216f8a"/><stop offset="0.1554" stop-color="#277589"/><stop offset="0.1592" stop-color="#2b7a89"/><stop offset="0.1630" stop-color="#2c7d89"/><stop offset="0.1668" stop-color="#2d7d89"/><stop offset="0.1705" stop-color="#2d7d89"/><stop offset="0.1743" stop-color="#2d7d89"/><stop offset="0.1781" stop-color="#2d7d89"/><stop offset="0.1819" stop-color="#2d7d89"/><stop offset="0.1857" stop-color="#2d7e89"/><stop offset="0.1895" stop-color="#2d7e89"/><stop offset="0.1933" stop-color="#2d7e89"/><stop offset="0.1971" stop-color="#2e7e88"/><stop offset="0.2009" stop-color="#2e7e88"/><stop offset="0.2046" stop-color="#2e7e88"/><stop offset="0.2084" stop-color="#2e7f88"/><stop offset="0.2122" stop-color="#2e7f88"/><stop offset="0.2160" stop-color="#2e7f88"/><stop offset="0.2198" stop-color="#2e7f88"/><stop offset="0.2236" stop-color="#2e7f88"/><stop offset="0.2274" stop-color="#2f7f88"/><stop offset="0.2312" stop-color="#2f8088"/><stop offset="0.2350" stop-color="#2f8088"/><stop offset="0.2388" stop-color="#2f8088"/><stop offset="0.2425" stop-color="#2f8088"/><stop offset="0.2463" stop-color="#2f8088"/><stop offset="0.2501" stop-color="#308188"/><stop offset="0.2539" stop-color="#308188"/><stop offset="0.2577" stop-color="#308288"/><stop offset="0.2615" stop-color="#308288"/><stop offset="0.2653" stop-color="#318288"/><stop offset="0.2691" stop-color="#318388"/><stop offset="0.2729" stop-color="#318388"/><stop offset="0.2767" stop-color="#318388"/><stop offset="0.2784" stop-color="#328388"/><stop offset="0.3087" stop-color="#348688"/><stop offset="0.3391" stop-color="#368988"/><stop offset="0.3694" stop-color="#378c87"/><stop offset="0.3997" stop-color="#398f87"/><stop offset="0.4300" stop-color="#3b9287"/><stop offset="0.4603" stop-color="#3c9386"/><stop offset="0.4907" stop-color="#3d9586"/><stop offset="0.5210" stop-color="#3e9786"/><stop offset="0.5513" stop-color="#3f9986"/><stop offset="0.5816" stop-color="#3f9a85"/><stop offset="0.6119" stop-color="#409c85"/><stop offset="0.6422" stop-color="#419d85"/><stop offset="0.6726" stop-color="#419e85"/><stop offset="0.7029" stop-color="#429e84"/><stop offset="0.7332" stop-color="#439f84"/><stop offset="0.7635" stop-color="#43a084"/><stop offset="0.7938" stop-color="#44a183"/><stop offset="0.8242" stop-color="#44a183"/><stop offset="0.8545" stop-color="#45a283"/><stop offset="0.8848" stop-color="#45a383"/><stop offset="0.9151" stop-color="#46a382"/><stop offset="0.9454" stop-color="#46a482"/><stop offset="0.9757" stop-color="#47a582"/><stop offset="1.0000" stop-color="#47a581"/></linearGradient>
<linearGradient id="g17" gradientUnits="userSpaceOnUse" x1="0" y1="89.80" x2="0" y2="489.80"><stop offset="0.0000" stop-color="#388e87"/><stop offset="0.0037" stop-color="#398f87"/><stop offset="0.0075" stop-color="#398f87"/><stop offset="0.0112" stop-color="#3a9087"/><stop offset="0.0150" stop-color="#3a9187"/><stop offset="0.0187" stop-color="#3a9187"/><stop offset="0.0225" stop-color="#3c9486"/><stop offset="0.0262" stop-color="#419d85"/><stop offset="0.0300" stop-color="#47a582"/><stop offset="0.0338" stop-color="#4dad7e"/><stop offset="0.0375" stop-color="#44a183"/><stop offset="0.0413" stop-color="#3c9486"/><stop offset="0.0450" stop-color="#358888"/><stop offset="0.0488" stop-color="#318388"/><stop offset="0.0525" stop-color="#318388"/><stop offset="0.0563" stop-color="#318288"/><stop offset="0.0600" stop-color="#308288"/><stop offset="0.0638" stop-color="#308188"/><stop offset="0.0675" stop-color="#2f8088"/><stop offset="0.0712" stop-color="#2f8088"/><stop offset="0.0750" stop-color="#297889"/><stop offset="0.0788" stop-color="#22708a"/><stop offset="0.0825" stop-color="#1b688c"/><stop offset="0.0862" stop-color="#13608e"/><stop offset="0.0900" stop-color="#115792"/><stop offset="0.0938" stop-color="#104e96"/><stop offset="0.0975" stop-color="#0f4898"/><stop offset="0.1013" stop-color="#153f9b"/><stop offset="0.1050" stop-color="#1c369c"/><stop offset="0.1088" stop-color="#232c9e"/><stop offset="0.1125" stop-color="#2a239f"/><stop offset="0.1163" stop-color="#212f9e"/><stop offset="0.1200" stop-color="#163e9b"/><stop offset="0.1238" stop-color="#104b97"/><stop offset="0.1275" stop-color="#115692"/><stop offset="0.1313" stop-color="#125f8e"/><stop offset="0.1350" stop-color="#19678c"/><stop offset="0.1388" stop-color="#206e8a"/><stop offset="0.1425" stop-color="#277589"/><stop offset="0.1463" stop-color="#2c7c89"/><stop offset="0.1500" stop-color="#2c7d89"/><stop offset="0.1538" stop-color="#2d7d89"/><stop offset="0.1575" stop-color="#2d7d89"/><stop offset="0.1613" stop-color="#2d7d89"/><stop offset="0.1650" stop-color="#2d7d89"/><stop offset="0.1688" stop-color="#2d7d89"/><stop offset="0.1725" stop-color="#2d7d89"/><stop offset="0.1763" stop-color="#2d7e89"/><stop offset="0.1800" stop-color="#2d7e89"/><stop offset="0.1838" stop-color="#2d7e89"/><stop offset="0.1875" stop-color="#2e7e88"/><stop offset="0.1913" stop-color="#2e7e88"/><stop offset="0.1950" stop-color="#2e7e88"/><stop offset="0.1988" stop-color="#2e7e88"/><stop offset="0.2025" stop-color="#2e7f88"/><stop offset="0.2063" stop-color="#2e7f88"/><stop offset="0.2100" stop-color="#2e7f88"/><stop offset="0.2138" stop-color="#2e7f88"/><stop offset="0.2175" stop-color="#2e7f88"/><stop offset="0.2213" stop-color="#2e7f88"/><stop offset="0.2250" stop-color="#2f7f88"/><stop offset="0.2288" stop-color="#2f8088"/><stop offset="0.2325" stop-color="#2f8088"/><stop offset="0.2363" stop-color="#2f8088"/><stop offset="0.2400" stop-color="#2f8088"/><stop offset="0.2438" stop-color="#2f8088"/><stop offset="0.2475" stop-color="#308188"/><stop offset="0.2513" stop-color="#308188"/><stop offset="0.2550" stop-color="#308288"/><stop offset="0.2588" stop-color="#308288"/><stop offset="0.2625" stop-color="#318288"/><stop offset="0.2663" stop-color="#318388"/><stop offset="0.2700" stop-color="#318388"/><stop offset="0.2738" stop-color="#318388"/><stop offset="0.2755" stop-color="#328388"/><stop offset="0.3055" stop-color="#348688"/><stop offset="0.3355" stop-color="#368988"/><stop offset="0.3655" stop-color="#378c87"/><stop offset="0.3955" stop-color="#398f87"/><stop offset="0.4255" stop-color="#3b9287"/><stop offset="0.4555" stop-color="#3c9386"/><stop offset="0.4855" stop-color="#3d9586"/><stop offset="0.5155" stop-color="#3e9786"/><stop offset="0.5455" stop-color="#3f9986"/><stop offset="0.5755" stop-color="#3f9a85"/><stop offset="0.6055" stop-color="#409c85"/><stop offset="0.6355" stop-color="#419d85"/><stop offset="0.6655" stop-color="#419e85"/><stop offset="0.6955" stop-color="#429e84"/><stop offset="0.7255" stop-color="#439f84"/><stop offset="0.7555" stop-color="#43a084"/><stop offset="0.7855" stop-color="#44a183"/><stop offset="0.8155" stop-color="#44a183"/><stop offset="0.8455" stop-color="#45a283"/><stop offset="0.8755" stop-color="#45a383"/><stop offset="0.9055" stop-color="#46a382"/><stop offset="0.9355" stop-color="#46a482"/><stop offset="0.9655" stop-color="#47a582"/><stop offset="0.9955" stop-color="#47a581"/></linearGradient>
<linearGradient id="g18" gradientUnits="userSpaceOnUse" x1="0" y1="89.80" x2="0" y2="484.40"><stop offset="0.0000" stop-color="#3b9287"/><stop offset="0.0038" stop-color="#3b9386"/><stop offset="0.0076" stop-color="#3c9586"/><stop offset="0.0114" stop-color="#3d9686"/><stop offset="0.0152" stop-color="#3e9886"/><stop offset="0.0190" stop-color="#3f9986"/><stop offset="0.0228" stop-color="#409b85"/><stop offset="0.0266" stop-color="#49a880"/><stop offset="0.0304" stop-color="#5bb976"/><stop offset="0.0342" stop-color="#65bf71"/><stop offset="0.0380" stop-color="#65bf71"/><stop offset="0.0418" stop-color="#66c070"/><stop offset="0.0456" stop-color="#67c070"/><stop offset="0.0494" stop-color="#67c16f"/><stop offset="0.0532" stop-color="#68c16f"/><stop offset="0.0570" stop-color="#69c26f"/><stop offset="0.0608" stop-color="#69c26e"/><stop offset="0.0646" stop-color="#6ac36e"/><stop offset="0.0684" stop-color="#6bc36d"/><stop offset="0.0722" stop-color="#6bc46d"/><stop offset="0.0760" stop-color="#5eba75"/><stop offset="0.0798" stop-color="#358988"/><stop offset="0.0836" stop-color="#125b90"/><stop offset="0.0874" stop-color="#115692"/><stop offset="0.0912" stop-color="#105194"/><stop offset="0.0950" stop-color="#104c97"/><stop offset="0.0988" stop-color="#0f4799"/><stop offset="0.1026" stop-color="#14409a"/><stop offset="0.1064" stop-color="#1a399c"/><stop offset="0.1102" stop-color="#173c9b"/><stop offset="0.1140" stop-color="#12439a"/><stop offset="0.1178" stop-color="#0f4998"/><stop offset="0.1216" stop-color="#104d96"/><stop offset="0.1254" stop-color="#105194"/><stop offset="0.1292" stop-color="#115592"/><stop offset="0.1330" stop-color="#115991"/><stop offset="0.1368" stop-color="#125d8f"/><stop offset="0.1406" stop-color="#14618e"/><stop offset="0.1445" stop-color="#17648d"/><stop offset="0.1483" stop-color="#1b688c"/><stop offset="0.1521" stop-color="#1e6b8b"/><stop offset="0.1559" stop-color="#216e8a"/><stop offset="0.1597" stop-color="#216f8a"/><stop offset="0.1635" stop-color="#22708a"/><stop offset="0.1673" stop-color="#23718a"/><stop offset="0.1711" stop-color="#24728a"/><stop offset="0.1749" stop-color="#257289"/><stop offset="0.1787" stop-color="#257389"/><stop offset="0.1825" stop-color="#267489"/><stop offset="0.1863" stop-color="#277589"/><stop offset="0.1901" stop-color="#277689"/><stop offset="0.1939" stop-color="#287689"/><stop offset="0.1977" stop-color="#287789"/><stop offset="0.2015" stop-color="#297889"/><stop offset="0.2053" stop-color="#2a7989"/><stop offset="0.2091" stop-color="#2a7989"/><stop offset="0.2129" stop-color="#2b7a89"/><stop offset="0.2167" stop-color="#2b7b89"/><stop offset="0.2205" stop-color="#2c7c89"/><stop offset="0.2243" stop-color="#2c7d89"/><stop offset="0.2281" stop-color="#2d7d89"/><stop offset="0.2319" stop-color="#2e7e88"/><stop offset="0.2357" stop-color="#2e7f88"/><stop offset="0.2395" stop-color="#2f8088"/><stop offset="0.2433" stop-color="#2f8088"/><stop offset="0.2471" stop-color="#2f8088"/><stop offset="0.2509" stop-color="#308188"/><stop offset="0.2547" stop-color="#308188"/><stop offset="0.2585" stop-color="#308288"/><stop offset="0.2623" stop-color="#308288"/><stop offset="0.2661" stop-color="#318288"/><stop offset="0.2699" stop-color="#318388"/><stop offset="0.2737" stop-color="#318388"/><stop offset="0.2775" stop-color="#318388"/><stop offset="0.2793" stop-color="#328388"/><stop offset="0.3097" stop-color="#348688"/><stop offset="0.3401" stop-color="#368988"/><stop offset="0.3705" stop-color="#378c87"/><stop offset="0.4009" stop-color="#398f87"/><stop offset="0.4313" stop-color="#3b9287"/><stop offset="0.4617" stop-color="#3c9386"/><stop offset="0.4921" stop-color="#3d9586"/><stop offset="0.5226" stop-color="#3e9786"/><stop offset="0.5530" stop-color="#3f9986"/><stop offset="0.5834" stop-color="#3f9a85"/><stop offset="0.6138" stop-color="#409c85"/><stop offset="0.6442" stop-color="#419d85"/><stop offset="0.6746" stop-color="#419e85"/><stop offset="0.7050" stop-color="#429e84"/><stop offset="0.7354" stop-color="#439f84"/><stop offset="0.7658" stop-color="#43a084"/><stop offset="0.7962" stop-color="#44a183"/><stop offset="0.8267" stop-color="#44a183"/><stop offset="0.8571" stop-color="#45a283"/><stop offset="0.8875" stop-color="#45a383"/><stop offset="0.9179" stop-color="#46a382"/><stop offset="0.9483" stop-color="#46a482"/><stop offset="0.9787" stop-color="#47a582"/><stop offset="1.0000" stop-color="#47a581"/></linearGradient>
<linearGradient id="g19" gradientUnits="userSpaceOnUse" x1="0" y1="89.80" x2="0" y2="489.50"><stop offset="0.0000" stop-color="#358988"/><stop offset="0.0038" stop-color="#368988"/><stop offset="0.0075" stop-color="#368a88"/><stop offset="0.0113" stop-color="#378b88"/><stop offset="0.0150" stop-color="#378b88"/><stop offset="0.0188" stop-color="#378c87"/><stop offset="0.0225" stop-color="#388d87"/><stop offset="0.0263" stop-color="#388d87"/><stop offset="0.0300" stop-color="#398f87"/><stop offset="0.0338" stop-color="#3e9886"/><stop offset="0.0375" stop-color="#44a183"/><stop offset="0.0413" stop-color="#4baa7f"/><stop offset="0.0450" stop-color="#53b37b"/><stop offset="0.0488" stop-color="#57b679"/><stop offset="0.0525" stop-color="#57b679"/><stop offset="0.0563" stop-color="#57b679"/><stop offset="0.0600" stop-color="#57b679"/><stop offset="0.0638" stop-color="#57b679"/><stop offset="0.0676" stop-color="#57b679"/><stop offset="0.0713" stop-color="#57b679"/><stop offset="0.0751" stop-color="#46a382"/><stop offset="0.0788" stop-color="#398f87"/><stop offset="0.0826" stop-color="#2c7c89"/><stop offset="0.0863" stop-color="#1b698c"/><stop offset="0.0901" stop-color="#125f8e"/><stop offset="0.0938" stop-color="#125e8f"/><stop offset="0.0976" stop-color="#125d8f"/><stop offset="0.1013" stop-color="#125d8f"/><stop offset="0.1051" stop-color="#19668c"/><stop offset="0.1088" stop-color="#206e8a"/><stop offset="0.1126" stop-color="#287689"/><stop offset="0.1163" stop-color="#297789"/><stop offset="0.1201" stop-color="#297889"/><stop offset="0.1238" stop-color="#297889"/><stop offset="0.1276" stop-color="#297889"/><stop offset="0.1313" stop-color="#297989"/><stop offset="0.1351" stop-color="#2a7989"/><stop offset="0.1389" stop-color="#2a7989"/><stop offset="0.1426" stop-color="#2a7989"/><stop offset="0.1464" stop-color="#2a7a89"/><stop offset="0.1501" stop-color="#2a7a89"/><stop offset="0.1539" stop-color="#2b7a89"/><stop offset="0.1576" stop-color="#2b7a89"/><stop offset="0.1614" stop-color="#2b7b89"/><stop offset="0.1651" stop-color="#2b7b89"/><stop offset="0.1689" stop-color="#2b7b89"/><stop offset="0.1726" stop-color="#2c7b89"/><stop offset="0.1764" stop-color="#2c7c89"/><stop offset="0.1801" stop-color="#2c7c89"/><stop offset="0.1839" stop-color="#2c7c89"/><stop offset="0.1876" stop-color="#2c7c89"/><stop offset="0.1914" stop-color="#2d7d89"/><stop offset="0.1951" stop-color="#2d7d89"/><stop offset="0.1989" stop-color="#2d7d89"/><stop offset="0.2027" stop-color="#2d7d89"/><stop offset="0.2064" stop-color="#2d7e89"/><stop offset="0.2102" stop-color="#2d7e89"/><stop offset="0.2139" stop-color="#2e7e88"/><stop offset="0.2177" stop-color="#2e7f88"/><stop offset="0.2214" stop-color="#2e7f88"/><stop offset="0.2252" stop-color="#2e7f88"/><stop offset="0.2289" stop-color="#2e7f88"/><stop offset="0.2327" stop-color="#2f8088"/><stop offset="0.2364" stop-color="#2f8088"/><stop offset="0.2402" stop-color="#2f8088"/><stop offset="0.2439" stop-color="#2f8088"/><stop offset="0.2477" stop-color="#308188"/><stop offset="0.2514" stop-color="#308188"/><stop offset="0.2552" stop-color="#308288"/><stop offset="0.2589" stop-color="#308288"/><stop offset="0.2627" stop-color="#318288"/><stop offset="0.2664" stop-color="#318388"/><stop offset="0.2702" stop-color="#318388"/><stop offset="0.2740" stop-color="#318388"/><stop offset="0.2757" stop-color="#328388"/><stop offset="0.3057" stop-color="#348688"/><stop offset="0.3358" stop-color="#368988"/><stop offset="0.3658" stop-color="#378c87"/><stop offset="0.3958" stop-color="#398f87"/><stop offset="0.4258" stop-color="#3b9287"/><stop offset="0.4558" stop-color="#3c9386"/><stop offset="0.4859" stop-color="#3d9586"/><stop offset="0.5159" stop-color="#3e9786"/><stop offset="0.5459" stop-color="#3f9986"/><stop offset="0.5759" stop-color="#3f9a85"/><stop offset="0.6060" stop-color="#409c85"/><stop offset="0.6360" stop-color="#419d85"/><stop offset="0.6660" stop-color="#419e85"/><stop offset="0.6960" stop-color="#429e84"/><stop offset="0.7260" stop-color="#439f84"/><stop offset="0.7561" stop-color="#43a084"/><stop offset="0.7861" stop-color="#44a183"/><stop offset="0.8161" stop-color="#44a183"/><stop offset="0.8461" stop-color="#45a283"/><stop offset="0.8762" stop-color="#45a383"/><stop offset="0.9062" stop-color="#46a382"/><stop offset="0.9362" stop-color="#46a482"/><stop offset="0.9662" stop-color="#47a582"/><stop offset="0.9962" stop-color="#47a581"/></linearGradient>
<linearGradient id="g20" gradientUnits="userSpaceOnUse" x1="0" y1="89.80" x2="0" y2="485.00"><stop offset="0.0000" stop-color="#3b9287"/><stop offset="0.0038" stop-color="#3b9386"/><stop offset="0.0076" stop-color="#3c9486"/><stop offset="0.0114" stop-color="#3c9586"/><stop offset="0.0152" stop-color="#3f9986"/><stop offset="0.0190" stop-color="#44a084"/><stop offset="0.0228" stop-color="#49a781"/><stop offset="0.0266" stop-color="#4dad7e"/><stop offset="0.0304" stop-color="#4eae7e"/><stop offset="0.0342" stop-color="#4faf7d"/><stop offset="0.0380" stop-color="#50b07d"/><stop offset="0.0418" stop-color="#50b17c"/><stop offset="0.0455" stop-color="#51b27c"/><stop offset="0.0493" stop-color="#58b678"/><stop offset="0.0531" stop-color="#60bc73"/><stop offset="0.0569" stop-color="#69c26e"/><stop offset="0.0607" stop-color="#74c869"/><stop offset="0.0645" stop-color="#83cc65"/><stop offset="0.0683" stop-color="#7ac968"/><stop offset="0.0721" stop-color="#68c16f"/><stop offset="0.0759" stop-color="#5bb876"/><stop offset="0.0797" stop-color="#4faf7d"/><stop offset="0.0835" stop-color="#419e85"/><stop offset="0.0873" stop-color="#368988"/><stop offset="0.0911" stop-color="#277689"/><stop offset="0.0949" stop-color="#14618e"/><stop offset="0.0987" stop-color="#105294"/><stop offset="0.1025" stop-color="#115493"/><stop offset="0.1063" stop-color="#115792"/><stop offset="0.1101" stop-color="#115991"/><stop offset="0.1139" stop-color="#125b90"/><stop offset="0.1177" stop-color="#13608e"/><stop offset="0.1215" stop-color="#16648d"/><stop offset="0.1253" stop-color="#1a688c"/><stop offset="0.1290" stop-color="#1e6c8b"/><stop offset="0.1328" stop-color="#216e8a"/><stop offset="0.1366" stop-color="#216e8a"/><stop offset="0.1404" stop-color="#216e8a"/><stop offset="0.1442" stop-color="#216e8a"/><stop offset="0.1480" stop-color="#216e8a"/><stop offset="0.1518" stop-color="#216e8a"/><stop offset="0.1556" stop-color="#216e8a"/><stop offset="0.1594" stop-color="#216e8a"/><stop offset="0.1632" stop-color="#216e8a"/><stop offset="0.1670" stop-color="#216e8a"/><stop offset="0.1708" stop-color="#216e8a"/><stop offset="0.1746" stop-color="#216e8a"/><stop offset="0.1784" stop-color="#216f8a"/><stop offset="0.1822" stop-color="#247289"/><stop offset="0.1860" stop-color="#277589"/><stop offset="0.1898" stop-color="#297989"/><stop offset="0.1936" stop-color="#2c7c89"/><stop offset="0.1974" stop-color="#2e7f88"/><stop offset="0.2012" stop-color="#2f8088"/><stop offset="0.2050" stop-color="#2f8088"/><stop offset="0.2088" stop-color="#2f8088"/><stop offset="0.2126" stop-color="#2f8088"/><stop offset="0.2163" stop-color="#2f8088"/><stop offset="0.2201" stop-color="#2f8088"/><stop offset="0.2239" stop-color="#2f8088"/><stop offset="0.2277" stop-color="#2f8088"/><stop offset="0.2315" stop-color="#2f8088"/><stop offset="0.2353" stop-color="#2f8088"/><stop offset="0.2391" stop-color="#2f8088"/><stop offset="0.2429" stop-color="#2f8088"/><stop offset="0.2467" stop-color="#2f8088"/><stop offset="0.2505" stop-color="#308188"/><stop offset="0.2543" stop-color="#308188"/><stop offset="0.2581" stop-color="#308288"/><stop offset="0.2619" stop-color="#308288"/><stop offset="0.2657" stop-color="#318288"/><stop offset="0.2695" stop-color="#318388"/><stop offset="0.2733" stop-color="#318388"/><stop offset="0.2771" stop-color="#318388"/><stop offset="0.2788" stop-color="#328388"/><stop offset="0.3092" stop-color="#348688"/><stop offset="0.3396" stop-color="#368988"/><stop offset="0.3699" stop-color="#378c87"/><stop offset="0.4003" stop-color="#398f87"/><stop offset="0.4307" stop-color="#3b9287"/><stop offset="0.4610" stop-color="#3c9386"/><stop offset="0.4914" stop-color="#3d9586"/><stop offset="0.5218" stop-color="#3e9786"/><stop offset="0.5521" stop-color="#3f9986"/><stop offset="0.5825" stop-color="#3f9a85"/><stop offset="0.6129" stop-color="#409c85"/><stop offset="0.6432" stop-color="#419d85"/><stop offset="0.6736" stop-color="#419e85"/><stop offset="0.7039" stop-color="#429e84"/><stop offset="0.7343" stop-color="#439f84"/><stop offset="0.7647" stop-color="#43a084"/><stop offset="0.7950" stop-color="#44a183"/><stop offset="0.8254" stop-color="#44a183"/><stop offset="0.8558" stop-color="#45a283"/><stop offset="0.8861" stop-color="#45a383"/><stop offset="0.9165" stop-color="#46a382"/><stop offset="0.9469" stop-color="#46a482"/><stop offset="0.9772" stop-color="#47a582"/><stop offset="1.0000" stop-color="#47a581"/></linearGradient>
<linearGradient id="g21" gradientUnits="userSpaceOnUse" x1="0" y1="89.80" x2="0" y2="488.60"><stop offset="0.0000" stop-color="#105194"/><stop offset="0.0038" stop-color="#105294"/><stop offset="0.0075" stop-color="#105394"/><stop offset="0.0113" stop-color="#115493"/><stop offset="0.0150" stop-color="#115593"/><stop offset="0.0188" stop-color="#115592"/><stop offset="0.0226" stop-color="#115692"/><stop offset="0.0263" stop-color="#115792"/><stop offset="0.0301" stop-color="#388e87"/><stop offset="0.0339" stop-color="#4baa7f"/><stop offset="0.0376" stop-color="#4eae7e"/><stop offset="0.0414" stop-color="#50b17c"/><stop offset="0.0451" stop-color="#55b57a"/><stop offset="0.0489" stop-color="#5ab877"/><stop offset="0.0527" stop-color="#69c26f"/><stop offset="0.0564" stop-color="#76c869"/><stop offset="0.0602" stop-color="#6cc46d"/><stop offset="0.0639" stop-color="#65bf71"/><stop offset="0.0677" stop-color="#5eba75"/><stop offset="0.0715" stop-color="#56b679"/><stop offset="0.0752" stop-color="#50b17d"/><stop offset="0.0790" stop-color="#4aa980"/><stop offset="0.0827" stop-color="#419d85"/><stop offset="0.0865" stop-color="#399087"/><stop offset="0.0903" stop-color="#2b7b89"/><stop offset="0.0940" stop-color="#18668c"/><stop offset="0.0978" stop-color="#104e96"/><stop offset="0.1016" stop-color="#0f4998"/><stop offset="0.1053" stop-color="#0f4799"/><stop offset="0.1091" stop-color="#11449a"/><stop offset="0.1128" stop-color="#14419a"/><stop offset="0.1166" stop-color="#104c97"/><stop offset="0.1204" stop-color="#115891"/><stop offset="0.1241" stop-color="#125c8f"/><stop offset="0.1279" stop-color="#125e8f"/><stop offset="0.1316" stop-color="#125f8e"/><stop offset="0.1354" stop-color="#13608e"/><stop offset="0.1392" stop-color="#14618d"/><stop offset="0.1429" stop-color="#15628d"/><stop offset="0.1467" stop-color="#16638d"/><stop offset="0.1505" stop-color="#17648d"/><stop offset="0.1542" stop-color="#18658c"/><stop offset="0.1580" stop-color="#19678c"/><stop offset="0.1617" stop-color="#1a688c"/><stop offset="0.1655" stop-color="#1b698c"/><stop offset="0.1693" stop-color="#1c6a8b"/><stop offset="0.1730" stop-color="#1d6b8b"/><stop offset="0.1768" stop-color="#1e6c8b"/><stop offset="0.1805" stop-color="#1f6d8b"/><stop offset="0.1843" stop-color="#216e8a"/><stop offset="0.1881" stop-color="#23718a"/><stop offset="0.1918" stop-color="#257389"/><stop offset="0.1956" stop-color="#287689"/><stop offset="0.1993" stop-color="#297989"/><stop offset="0.2031" stop-color="#2b7b89"/><stop offset="0.2069" stop-color="#2c7d89"/><stop offset="0.2106" stop-color="#2d7d89"/><stop offset="0.2144" stop-color="#2d7d89"/><stop offset="0.2182" stop-color="#2d7e89"/><stop offset="0.2219" stop-color="#2e7e88"/><stop offset="0.2257" stop-color="#2e7f88"/><stop offset="0.2294" stop-color="#2e7f88"/><stop offset="0.2332" stop-color="#2f7f88"/><stop offset="0.2370" stop-color="#2f8088"/><stop offset="0.2407" stop-color="#2f8088"/><stop offset="0.2445" stop-color="#2f8088"/><stop offset="0.2482" stop-color="#308188"/><stop offset="0.2520" stop-color="#308188"/><stop offset="0.2558" stop-color="#308288"/><stop offset="0.2595" stop-color="#308288"/><stop offset="0.2633" stop-color="#318288"/><stop offset="0.2671" stop-color="#318388"/><stop offset="0.2708" stop-color="#318388"/><stop offset="0.2746" stop-color="#318388"/><stop offset="0.2763" stop-color="#328388"/><stop offset="0.3064" stop-color="#348688"/><stop offset="0.3365" stop-color="#368988"/><stop offset="0.3666" stop-color="#378c87"/><stop offset="0.3967" stop-color="#398f87"/><stop offset="0.4268" stop-color="#3b9287"/><stop offset="0.4569" stop-color="#3c9386"/><stop offset="0.4870" stop-color="#3d9586"/><stop offset="0.5171" stop-color="#3e9786"/><stop offset="0.5471" stop-color="#3f9986"/><stop offset="0.5772" stop-color="#3f9a85"/><stop offset="0.6073" stop-color="#409c85"/><stop offset="0.6374" stop-color="#419d85"/><stop offset="0.6675" stop-color="#419e85"/><stop offset="0.6976" stop-color="#429e84"/><stop offset="0.7277" stop-color="#439f84"/><stop offset="0.7578" stop-color="#43a084"/><stop offset="0.7879" stop-color="#44a183"/><stop offset="0.8180" stop-color="#44a183"/><stop offset="0.8480" stop-color="#45a283"/><stop offset="0.8781" stop-color="#45a383"/><stop offset="0.9082" stop-color="#46a382"/><stop offset="0.9383" stop-color="#46a482"/><stop offset="0.9684" stop-color="#47a582"/><stop offset="0.9985" stop-color="#47a581"/></linearGradient>
<linearGradient id="g22" gradientUnits="userSpaceOnUse" x1="0" y1="89.80" x2="0" y2="485.00"><stop offset="0.0000" stop-color="#46a482"/><stop offset="0.0038" stop-color="#47a482"/><stop offset="0.0076" stop-color="#47a582"/><stop offset="0.0114" stop-color="#48a681"/><stop offset="0.0152" stop-color="#48a681"/><stop offset="0.0190" stop-color="#48a781"/><stop offset="0.0228" stop-color="#49a781"/><stop offset="0.0266" stop-color="#49a880"/><stop offset="0.0304" stop-color="#4aa880"/><stop offset="0.0342" stop-color="#4aa980"/><stop offset="0.0380" stop-color="#4aa980"/><stop offset="0.0418" stop-color="#4baa7f"/><stop offset="0.0455" stop-color="#4bab7f"/><stop offset="0.0493" stop-color="#4cab7f"/><stop offset="0.0531" stop-color="#4cac7f"/><stop offset="0.0569" stop-color="#4dac7f"/><stop offset="0.0607" stop-color="#4dad7e"/><stop offset="0.0645" stop-color="#50b07d"/><stop offset="0.0683" stop-color="#66c070"/><stop offset="0.0721" stop-color="#87ce63"/><stop offset="0.0759" stop-color="#83cc65"/><stop offset="0.0797" stop-color="#7dcb66"/><stop offset="0.0835" stop-color="#60bc74"/><stop offset="0.0873" stop-color="#429e84"/><stop offset="0.0911" stop-color="#2f8188"/><stop offset="0.0949" stop-color="#267489"/><stop offset="0.0987" stop-color="#19678c"/><stop offset="0.1025" stop-color="#115a90"/><stop offset="0.1063" stop-color="#105294"/><stop offset="0.1101" stop-color="#0f4a97"/><stop offset="0.1139" stop-color="#14419a"/><stop offset="0.1177" stop-color="#1d359d"/><stop offset="0.1215" stop-color="#1a389c"/><stop offset="0.1253" stop-color="#11449a"/><stop offset="0.1290" stop-color="#104d96"/><stop offset="0.1328" stop-color="#105294"/><stop offset="0.1366" stop-color="#115393"/><stop offset="0.1404" stop-color="#115593"/><stop offset="0.1442" stop-color="#115692"/><stop offset="0.1480" stop-color="#115891"/><stop offset="0.1518" stop-color="#125b90"/><stop offset="0.1556" stop-color="#125e8e"/><stop offset="0.1594" stop-color="#13618e"/><stop offset="0.1632" stop-color="#16638d"/><stop offset="0.1670" stop-color="#18668c"/><stop offset="0.1708" stop-color="#1b688c"/><stop offset="0.1746" stop-color="#1d6a8b"/><stop offset="0.1784" stop-color="#1f6d8b"/><stop offset="0.1822" stop-color="#226f8a"/><stop offset="0.1860" stop-color="#24728a"/><stop offset="0.1898" stop-color="#267489"/><stop offset="0.1936" stop-color="#277689"/><stop offset="0.1974" stop-color="#297789"/><stop offset="0.2012" stop-color="#2a7989"/><stop offset="0.2050" stop-color="#2b7b89"/><stop offset="0.2088" stop-color="#2d7d89"/><stop offset="0.2126" stop-color="#2e7e88"/><stop offset="0.2163" stop-color="#2f8088"/><stop offset="0.2201" stop-color="#2f8188"/><stop offset="0.2239" stop-color="#308188"/><stop offset="0.2277" stop-color="#308288"/><stop offset="0.2315" stop-color="#318288"/><stop offset="0.2353" stop-color="#318388"/><stop offset="0.2391" stop-color="#318388"/><stop offset="0.2429" stop-color="#328488"/><stop offset="0.2467" stop-color="#328488"/><stop offset="0.2505" stop-color="#328488"/><stop offset="0.2543" stop-color="#328488"/><stop offset="0.2581" stop-color="#328588"/><stop offset="0.2619" stop-color="#338588"/><stop offset="0.2657" stop-color="#338588"/><stop offset="0.2695" stop-color="#338588"/><stop offset="0.2733" stop-color="#338688"/><stop offset="0.2771" stop-color="#348688"/><stop offset="0.2788" stop-color="#348688"/><stop offset="0.3092" stop-color="#358888"/><stop offset="0.3396" stop-color="#378b88"/><stop offset="0.3699" stop-color="#388d87"/><stop offset="0.4003" stop-color="#398f87"/><stop offset="0.4307" stop-color="#3b9287"/><stop offset="0.4610" stop-color="#3c9386"/><stop offset="0.4914" stop-color="#3d9586"/><stop offset="0.5218" stop-color="#3e9786"/><stop offset="0.5521" stop-color="#3f9986"/><stop offset="0.5825" stop-color="#3f9a85"/><stop offset="0.6129" stop-color="#409c85"/><stop offset="0.6432" stop-color="#419d85"/><stop offset="0.6736" stop-color="#419e85"/><stop offset="0.7039" stop-color="#429e84"/><stop offset="0.7343" stop-color="#439f84"/><stop offset="0.7647" stop-color="#43a084"/><stop offset="0.7950" stop-color="#44a183"/><stop offset="0.8254" stop-color="#44a183"/><stop offset="0.8558" stop-color="#45a283"/><stop offset="0.8861" stop-color="#45a383"/><stop offset="0.9165" stop-color="#46a382"/><stop offset="0.9469" stop-color="#46a482"/><stop offset="0.9772" stop-color="#47a582"/><stop offset="1.0000" stop-color="#47a581"/></linearGradient>
<linearGradient id="g23" gradientUnits="userSpaceOnUse" x1="0" y1="89.80" x2="0" y2="489.20"><stop offset="0.0000" stop-color="#3b9287"/><stop offset="0.0038" stop-color="#3b9287"/><stop offset="0.0075" stop-color="#3b9386"/><stop offset="0.0113" stop-color="#3b9386"/><stop offset="0.0150" stop-color="#3c9486"/><stop offset="0.0188" stop-color="#3c9486"/><stop offset="0.0225" stop-color="#3c9586"/><stop offset="0.0263" stop-color="#3d9586"/><stop offset="0.0300" stop-color="#44a183"/><stop offset="0.0338" stop-color="#50b17d"/><stop offset="0.0376" stop-color="#57b678"/><stop offset="0.0413" stop-color="#58b778"/><stop offset="0.0451" stop-color="#58b778"/><stop offset="0.0488" stop-color="#59b778"/><stop offset="0.0526" stop-color="#59b877"/><stop offset="0.0563" stop-color="#5ab877"/><stop offset="0.0601" stop-color="#5ab877"/><stop offset="0.0638" stop-color="#5bb976"/><stop offset="0.0676" stop-color="#5bb976"/><stop offset="0.0714" stop-color="#5cb976"/><stop offset="0.0751" stop-color="#5cb976"/><stop offset="0.0789" stop-color="#6dc56c"/><stop offset="0.0826" stop-color="#80cb66"/><stop offset="0.0864" stop-color="#49a781"/><stop offset="0.0901" stop-color="#308188"/><stop offset="0.0939" stop-color="#23708a"/><stop offset="0.0976" stop-color="#13608e"/><stop offset="0.1014" stop-color="#105095"/><stop offset="0.1052" stop-color="#0f4998"/><stop offset="0.1089" stop-color="#153f9b"/><stop offset="0.1127" stop-color="#1d349d"/><stop offset="0.1164" stop-color="#1b379c"/><stop offset="0.1202" stop-color="#15409a"/><stop offset="0.1239" stop-color="#0f4898"/><stop offset="0.1277" stop-color="#104e96"/><stop offset="0.1314" stop-color="#115493"/><stop offset="0.1352" stop-color="#115a90"/><stop offset="0.1390" stop-color="#13608e"/><stop offset="0.1427" stop-color="#18658d"/><stop offset="0.1465" stop-color="#19668c"/><stop offset="0.1502" stop-color="#19678c"/><stop offset="0.1540" stop-color="#1a688c"/><stop offset="0.1577" stop-color="#1b698c"/><stop offset="0.1615" stop-color="#1c698c"/><stop offset="0.1652" stop-color="#1d6a8b"/><stop offset="0.1690" stop-color="#1d6b8b"/><stop offset="0.1728" stop-color="#1e6c8b"/><stop offset="0.1765" stop-color="#1f6d8b"/><stop offset="0.1803" stop-color="#206d8b"/><stop offset="0.1840" stop-color="#216e8a"/><stop offset="0.1878" stop-color="#23718a"/><stop offset="0.1915" stop-color="#257389"/><stop offset="0.1953" stop-color="#277589"/><stop offset="0.1990" stop-color="#297789"/><stop offset="0.2028" stop-color="#2a7a89"/><stop offset="0.2066" stop-color="#2c7c89"/><stop offset="0.2103" stop-color="#2e7e88"/><stop offset="0.2141" stop-color="#2f8088"/><stop offset="0.2178" stop-color="#2f8088"/><stop offset="0.2216" stop-color="#2f8088"/><stop offset="0.2253" stop-color="#2f8088"/><stop offset="0.2291" stop-color="#2f8088"/><stop offset="0.2328" stop-color="#2f8088"/><stop offset="0.2366" stop-color="#2f8088"/><stop offset="0.2404" stop-color="#2f8088"/><stop offset="0.2441" stop-color="#2f8088"/><stop offset="0.2479" stop-color="#308188"/><stop offset="0.2516" stop-color="#308188"/><stop offset="0.2554" stop-color="#308288"/><stop offset="0.2591" stop-color="#308288"/><stop offset="0.2629" stop-color="#318288"/><stop offset="0.2666" stop-color="#318388"/><stop offset="0.2704" stop-color="#318388"/><stop offset="0.2742" stop-color="#318388"/><stop offset="0.2759" stop-color="#328388"/><stop offset="0.3060" stop-color="#348688"/><stop offset="0.3360" stop-color="#368988"/><stop offset="0.3660" stop-color="#378c87"/><stop offset="0.3961" stop-color="#398f87"/><stop offset="0.4261" stop-color="#3b9287"/><stop offset="0.4562" stop-color="#3c9386"/><stop offset="0.4862" stop-color="#3d9586"/><stop offset="0.5163" stop-color="#3e9786"/><stop offset="0.5463" stop-color="#3f9986"/><stop offset="0.5764" stop-color="#3f9a85"/><stop offset="0.6064" stop-color="#409c85"/><stop offset="0.6365" stop-color="#419d85"/><stop offset="0.6665" stop-color="#419e85"/><stop offset="0.6965" stop-color="#429e84"/><stop offset="0.7266" stop-color="#439f84"/><stop offset="0.7566" stop-color="#43a084"/><stop offset="0.7867" stop-color="#44a183"/><stop offset="0.8167" stop-color="#44a183"/><stop offset="0.8468" stop-color="#45a283"/><stop offset="0.8768" stop-color="#45a383"/><stop offset="0.9069" stop-color="#46a382"/><stop offset="0.9369" stop-color="#46a482"/><stop offset="0.9670" stop-color="#47a582"/><stop offset="0.9970" stop-color="#47a581"/></linearGradient>
<linearGradient id="g24" gradientUnits="userSpaceOnUse" x1="0" y1="89.80" x2="0" y2="485.00"><stop offset="0.0000" stop-color="#52b37c"/><stop offset="0.0038" stop-color="#53b37b"/><stop offset="0.0076" stop-color="#53b37b"/><stop offset="0.0114" stop-color="#54b47a"/><stop offset="0.0152" stop-color="#55b47a"/><stop offset="0.0190" stop-color="#55b57a"/><stop offset="0.0228" stop-color="#56b579"/><stop offset="0.0266" stop-color="#57b679"/><stop offset="0.0304" stop-color="#58b678"/><stop offset="0.0342" stop-color="#58b778"/><stop offset="0.0380" stop-color="#59b777"/><stop offset="0.0418" stop-color="#5ab877"/><stop offset="0.0455" stop-color="#5ab877"/><stop offset="0.0493" stop-color="#5bb976"/><stop offset="0.0531" stop-color="#5cb976"/><stop offset="0.0569" stop-color="#69c26f"/><stop offset="0.0607" stop-color="#95d25f"/><stop offset="0.0645" stop-color="#bcdc66"/><stop offset="0.0683" stop-color="#badb65"/><stop offset="0.0721" stop-color="#b7db64"/><stop offset="0.0759" stop-color="#b5da64"/><stop offset="0.0797" stop-color="#a1d65b"/><stop offset="0.0835" stop-color="#6ac36e"/><stop offset="0.0873" stop-color="#4bab7f"/><stop offset="0.0911" stop-color="#388e87"/><stop offset="0.0949" stop-color="#247289"/><stop offset="0.0987" stop-color="#125d8f"/><stop offset="0.1025" stop-color="#114599"/><stop offset="0.1063" stop-color="#153e9b"/><stop offset="0.1101" stop-color="#173c9b"/><stop offset="0.1139" stop-color="#193a9c"/><stop offset="0.1177" stop-color="#1a389c"/><stop offset="0.1215" stop-color="#12439a"/><stop offset="0.1253" stop-color="#105194"/><stop offset="0.1290" stop-color="#115891"/><stop offset="0.1328" stop-color="#115891"/><stop offset="0.1366" stop-color="#115991"/><stop offset="0.1404" stop-color="#115991"/><stop offset="0.1442" stop-color="#115a90"/><stop offset="0.1480" stop-color="#115a90"/><stop offset="0.1518" stop-color="#115b90"/><stop offset="0.1556" stop-color="#125b90"/><stop offset="0.1594" stop-color="#125c8f"/><stop offset="0.1632" stop-color="#125d8f"/><stop offset="0.1670" stop-color="#125d8f"/><stop offset="0.1708" stop-color="#125e8f"/><stop offset="0.1746" stop-color="#125e8e"/><stop offset="0.1784" stop-color="#125f8e"/><stop offset="0.1822" stop-color="#125f8e"/><stop offset="0.1860" stop-color="#13608e"/><stop offset="0.1898" stop-color="#16638d"/><stop offset="0.1936" stop-color="#1a678c"/><stop offset="0.1974" stop-color="#1d6b8b"/><stop offset="0.2012" stop-color="#216f8a"/><stop offset="0.2050" stop-color="#247289"/><stop offset="0.2088" stop-color="#287689"/><stop offset="0.2126" stop-color="#2a7a89"/><stop offset="0.2163" stop-color="#2c7d89"/><stop offset="0.2201" stop-color="#2d7d89"/><stop offset="0.2239" stop-color="#2d7e89"/><stop offset="0.2277" stop-color="#2e7e88"/><stop offset="0.2315" stop-color="#2e7f88"/><stop offset="0.2353" stop-color="#2e7f88"/><stop offset="0.2391" stop-color="#2f8088"/><stop offset="0.2429" stop-color="#2f8088"/><stop offset="0.2467" stop-color="#2f8088"/><stop offset="0.2505" stop-color="#308188"/><stop offset="0.2543" stop-color="#308188"/><stop offset="0.2581" stop-color="#308288"/><stop offset="0.2619" stop-color="#308288"/><stop offset="0.2657" stop-color="#318288"/><stop offset="0.2695" stop-color="#318388"/><stop offset="0.2733" stop-color="#318388"/><stop offset="0.2771" stop-color="#318388"/><stop offset="0.2788" stop-color="#328388"/><stop offset="0.3092" stop-color="#348688"/><stop offset="0.3396" stop-color="#368988"/><stop offset="0.3699" stop-color="#378c87"/><stop offset="0.4003" stop-color="#398f87"/><stop offset="0.4307" stop-color="#3b9287"/><stop offset="0.4610" stop-color="#3c9386"/><stop offset="0.4914" stop-color="#3d9586"/><stop offset="0.5218" stop-color="#3e9786"/><stop offset="0.5521" stop-color="#3f9986"/><stop offset="0.5825" stop-color="#3f9a85"/><stop offset="0.6129" stop-color="#409c85"/><stop offset="0.6432" stop-color="#419d85"/><stop offset="0.6736" stop-color="#419e85"/><stop offset="0.7039" stop-color="#429e84"/><stop offset="0.7343" stop-color="#439f84"/><stop offset="0.7647" stop-color="#43a084"/><stop offset="0.7950" stop-color="#44a183"/><stop offset="0.8254" stop-color="#44a183"/><stop offset="0.8558" stop-color="#45a283"/><stop offset="0.8861" stop-color="#45a383"/><stop offset="0.9165" stop-color="#46a382"/><stop offset="0.9469" stop-color="#46a482"/><stop offset="0.9772" stop-color="#47a582"/><stop offset="1.0000" stop-color="#47a581"/></linearGradient>
<linearGradient id="g25" gradientUnits="userSpaceOnUse" x1="0" y1="89.80" x2="0" y2="488.60"><stop offset="0.0000" stop-color="#52b37c"/><stop offset="0.0038" stop-color="#53b37b"/><stop offset="0.0075" stop-color="#53b47b"/><stop offset="0.0113" stop-color="#54b47a"/><stop offset="0.0150" stop-color="#55b57a"/><stop offset="0.0188" stop-color="#56b579"/><stop offset="0.0226" stop-color="#56b679"/><stop offset="0.0263" stop-color="#57b678"/><stop offset="0.0301" stop-color="#58b778"/><stop offset="0.0339" stop-color="#59b778"/><stop offset="0.0376" stop-color="#5ab877"/><stop offset="0.0414" stop-color="#5ab877"/><stop offset="0.0451" stop-color="#5bb976"/><stop offset="0.0489" stop-color="#5cb976"/><stop offset="0.0527" stop-color="#6bc46d"/><stop offset="0.0564" stop-color="#97d35e"/><stop offset="0.0602" stop-color="#9dd55c"/><stop offset="0.0639" stop-color="#9dd55c"/><stop offset="0.0677" stop-color="#9dd55c"/><stop offset="0.0715" stop-color="#95d25f"/><stop offset="0.0752" stop-color="#6ec56c"/><stop offset="0.0790" stop-color="#56b679"/><stop offset="0.0827" stop-color="#4fb07d"/><stop offset="0.0865" stop-color="#4baa7f"/><stop offset="0.0903" stop-color="#46a482"/><stop offset="0.0940" stop-color="#277589"/><stop offset="0.0978" stop-color="#105294"/><stop offset="0.1016" stop-color="#115393"/><stop offset="0.1053" stop-color="#115493"/><stop offset="0.1091" stop-color="#115692"/><stop offset="0.1128" stop-color="#115792"/><stop offset="0.1166" stop-color="#115891"/><stop offset="0.1204" stop-color="#115991"/><stop offset="0.1241" stop-color="#115a90"/><stop offset="0.1279" stop-color="#125b90"/><stop offset="0.1316" stop-color="#115991"/><stop offset="0.1354" stop-color="#115493"/><stop offset="0.1392" stop-color="#104f95"/><stop offset="0.1429" stop-color="#0f4a97"/><stop offset="0.1467" stop-color="#114599"/><stop offset="0.1505" stop-color="#163d9b"/><stop offset="0.1542" stop-color="#19399c"/><stop offset="0.1580" stop-color="#104599"/><stop offset="0.1617" stop-color="#104e96"/><stop offset="0.1655" stop-color="#115493"/><stop offset="0.1693" stop-color="#115a90"/><stop offset="0.1730" stop-color="#125f8e"/><stop offset="0.1768" stop-color="#17648d"/><stop offset="0.1805" stop-color="#1c698c"/><stop offset="0.1843" stop-color="#206e8a"/><stop offset="0.1881" stop-color="#22708a"/><stop offset="0.1918" stop-color="#23718a"/><stop offset="0.1956" stop-color="#257389"/><stop offset="0.1993" stop-color="#267489"/><stop offset="0.2031" stop-color="#277589"/><stop offset="0.2069" stop-color="#287789"/><stop offset="0.2106" stop-color="#297889"/><stop offset="0.2144" stop-color="#2a7a89"/><stop offset="0.2182" stop-color="#2b7b89"/><stop offset="0.2219" stop-color="#2c7c89"/><stop offset="0.2257" stop-color="#2c7c89"/><stop offset="0.2294" stop-color="#2c7c89"/><stop offset="0.2332" stop-color="#2c7c89"/><stop offset="0.2370" stop-color="#2c7c89"/><stop offset="0.2407" stop-color="#2d7d89"/><stop offset="0.2445" stop-color="#2d7d89"/><stop offset="0.2482" stop-color="#2d7e89"/><stop offset="0.2520" stop-color="#2d7e89"/><stop offset="0.2558" stop-color="#2e7e88"/><stop offset="0.2595" stop-color="#2e7f88"/><stop offset="0.2633" stop-color="#2e7f88"/><stop offset="0.2671" stop-color="#2f8088"/><stop offset="0.2708" stop-color="#2f8088"/><stop offset="0.2746" stop-color="#2f8088"/><stop offset="0.2763" stop-color="#2f8188"/><stop offset="0.3064" stop-color="#328488"/><stop offset="0.3365" stop-color="#348788"/><stop offset="0.3666" stop-color="#378b88"/><stop offset="0.3967" stop-color="#398e87"/><stop offset="0.4268" stop-color="#3b9287"/><stop offset="0.4569" stop-color="#3c9386"/><stop offset="0.4870" stop-color="#3d9586"/><stop offset="0.5171" stop-color="#3e9786"/><stop offset="0.5471" stop-color="#3f9986"/><stop offset="0.5772" stop-color="#3f9a85"/><stop offset="0.6073" stop-color="#409c85"/><stop offset="0.6374" stop-color="#419d85"/><stop offset="0.6675" stop-color="#419e85"/><stop offset="0.6976" stop-color="#429e84"/><stop offset="0.7277" stop-color="#439f84"/><stop offset="0.7578" stop-color="#43a084"/><stop offset="0.7879" stop-color="#44a183"/><stop offset="0.8180" stop-color="#44a183"/><stop offset="0.8480" stop-color="#45a283"/><stop offset="0.8781" stop-color="#45a383"/><stop offset="0.9082" stop-color="#46a382"/><stop offset="0.9383" stop-color="#46a482"/><stop offset="0.9684" stop-color="#47a582"/><stop offset="0.9985" stop-color="#47a581"/></linearGradient>
<linearGradient id="g26" gradientUnits="userSpaceOnUse" x1="0" y1="89.80" x2="0" y2="490.40"><stop offset="0.0000" stop-color="#2f8088"/><stop offset="0.0037" stop-color="#308188"/><stop offset="0.0075" stop-color="#318288"/><stop offset="0.0112" stop-color="#338588"/><stop offset="0.0150" stop-color="#409a85"/><stop offset="0.0187" stop-color="#4fb07d"/><stop offset="0.0225" stop-color="#53b37b"/><stop offset="0.0262" stop-color="#54b47a"/><stop offset="0.0300" stop-color="#55b579"/><stop offset="0.0337" stop-color="#57b679"/><stop offset="0.0374" stop-color="#58b778"/><stop offset="0.0412" stop-color="#59b777"/><stop offset="0.0449" stop-color="#5ab877"/><stop offset="0.0487" stop-color="#5cb976"/><stop offset="0.0524" stop-color="#6ac26e"/><stop offset="0.0562" stop-color="#8fd061"/><stop offset="0.0599" stop-color="#95d25f"/><stop offset="0.0637" stop-color="#95d25f"/><stop offset="0.0674" stop-color="#95d25f"/><stop offset="0.0711" stop-color="#95d25f"/><stop offset="0.0749" stop-color="#95d25f"/><stop offset="0.0786" stop-color="#78c968"/><stop offset="0.0824" stop-color="#46a382"/><stop offset="0.0861" stop-color="#2e7f88"/><stop offset="0.0899" stop-color="#247289"/><stop offset="0.0936" stop-color="#18658d"/><stop offset="0.0974" stop-color="#115991"/><stop offset="0.1011" stop-color="#104f95"/><stop offset="0.1048" stop-color="#104599"/><stop offset="0.1086" stop-color="#1b379c"/><stop offset="0.1123" stop-color="#14409a"/><stop offset="0.1161" stop-color="#0f4998"/><stop offset="0.1198" stop-color="#104f95"/><stop offset="0.1236" stop-color="#105294"/><stop offset="0.1273" stop-color="#105294"/><stop offset="0.1311" stop-color="#105394"/><stop offset="0.1348" stop-color="#115393"/><stop offset="0.1385" stop-color="#115493"/><stop offset="0.1423" stop-color="#115593"/><stop offset="0.1460" stop-color="#115592"/><stop offset="0.1498" stop-color="#115692"/><stop offset="0.1535" stop-color="#115792"/><stop offset="0.1573" stop-color="#115792"/><stop offset="0.1610" stop-color="#115891"/><stop offset="0.1648" stop-color="#115891"/><stop offset="0.1685" stop-color="#115991"/><stop offset="0.1722" stop-color="#115a90"/><stop offset="0.1760" stop-color="#115a90"/><stop offset="0.1797" stop-color="#115b90"/><stop offset="0.1835" stop-color="#125c90"/><stop offset="0.1872" stop-color="#14618e"/><stop offset="0.1910" stop-color="#18668c"/><stop offset="0.1947" stop-color="#1d6b8b"/><stop offset="0.1985" stop-color="#22708a"/><stop offset="0.2022" stop-color="#267589"/><stop offset="0.2059" stop-color="#297789"/><stop offset="0.2097" stop-color="#297889"/><stop offset="0.2134" stop-color="#297989"/><stop offset="0.2172" stop-color="#2a7989"/><stop offset="0.2209" stop-color="#2a7a89"/><stop offset="0.2247" stop-color="#2b7a89"/><stop offset="0.2284" stop-color="#2b7b89"/><stop offset="0.2322" stop-color="#2c7c89"/><stop offset="0.2359" stop-color="#2c7c89"/><stop offset="0.2396" stop-color="#2d7d89"/><stop offset="0.2434" stop-color="#2d7d89"/><stop offset="0.2471" stop-color="#2d7e89"/><stop offset="0.2509" stop-color="#2d7e89"/><stop offset="0.2546" stop-color="#2e7e88"/><stop offset="0.2584" stop-color="#2e7f88"/><stop offset="0.2621" stop-color="#2e7f88"/><stop offset="0.2659" stop-color="#2f8088"/><stop offset="0.2696" stop-color="#2f8088"/><stop offset="0.2733" stop-color="#2f8088"/><stop offset="0.2751" stop-color="#2f8188"/><stop offset="0.3050" stop-color="#328488"/><stop offset="0.3350" stop-color="#348788"/><stop offset="0.3650" stop-color="#378b88"/><stop offset="0.3949" stop-color="#398e87"/><stop offset="0.4249" stop-color="#3b9287"/><stop offset="0.4548" stop-color="#3c9386"/><stop offset="0.4848" stop-color="#3d9586"/><stop offset="0.5147" stop-color="#3e9786"/><stop offset="0.5447" stop-color="#3f9986"/><stop offset="0.5746" stop-color="#3f9a85"/><stop offset="0.6046" stop-color="#409c85"/><stop offset="0.6345" stop-color="#419d85"/><stop offset="0.6645" stop-color="#419e85"/><stop offset="0.6945" stop-color="#429e84"/><stop offset="0.7244" stop-color="#439f84"/><stop offset="0.7544" stop-color="#43a084"/><stop offset="0.7843" stop-color="#44a183"/><stop offset="0.8143" stop-color="#44a183"/><stop offset="0.8442" stop-color="#45a283"/><stop offset="0.8742" stop-color="#45a383"/><stop offset="0.9041" stop-color="#46a382"/><stop offset="0.9341" stop-color="#46a482"/><stop offset="0.9641" stop-color="#47a582"/><stop offset="0.9940" stop-color="#47a581"/><stop offset="1.0000" stop-color="#48a681"/></linearGradient>
<linearGradient id="g27" gradientUnits="userSpaceOnUse" x1="0" y1="89.80" x2="0" y2="486.20"><stop offset="0.0000" stop-color="#2c7c89"/><stop offset="0.0038" stop-color="#2d7d89"/><stop offset="0.0076" stop-color="#2e7e88"/><stop offset="0.0114" stop-color="#2e7f88"/><stop offset="0.0151" stop-color="#2f8088"/><stop offset="0.0189" stop-color="#308188"/><stop offset="0.0227" stop-color="#318288"/><stop offset="0.0265" stop-color="#318388"/><stop offset="0.0303" stop-color="#409a85"/><stop offset="0.0341" stop-color="#5bb976"/><stop offset="0.0378" stop-color="#61bc73"/><stop offset="0.0416" stop-color="#65bf71"/><stop offset="0.0454" stop-color="#69c26e"/><stop offset="0.0492" stop-color="#6ec56c"/><stop offset="0.0530" stop-color="#74c869"/><stop offset="0.0568" stop-color="#7cca67"/><stop offset="0.0605" stop-color="#83cc65"/><stop offset="0.0643" stop-color="#7dcb66"/><stop offset="0.0681" stop-color="#63be72"/><stop offset="0.0719" stop-color="#4fb07d"/><stop offset="0.0757" stop-color="#429f84"/><stop offset="0.0795" stop-color="#338588"/><stop offset="0.0832" stop-color="#206d8b"/><stop offset="0.0870" stop-color="#16638d"/><stop offset="0.0908" stop-color="#115891"/><stop offset="0.0946" stop-color="#104d96"/><stop offset="0.0984" stop-color="#15409a"/><stop offset="0.1022" stop-color="#20309e"/><stop offset="0.1060" stop-color="#222e9e"/><stop offset="0.1097" stop-color="#222e9e"/><stop offset="0.1135" stop-color="#222e9e"/><stop offset="0.1173" stop-color="#183b9b"/><stop offset="0.1211" stop-color="#104c97"/><stop offset="0.1249" stop-color="#105294"/><stop offset="0.1287" stop-color="#105394"/><stop offset="0.1324" stop-color="#115393"/><stop offset="0.1362" stop-color="#115493"/><stop offset="0.1400" stop-color="#115592"/><stop offset="0.1438" stop-color="#115692"/><stop offset="0.1476" stop-color="#115792"/><stop offset="0.1514" stop-color="#115891"/><stop offset="0.1551" stop-color="#115991"/><stop offset="0.1589" stop-color="#115a90"/><stop offset="0.1627" stop-color="#115b90"/><stop offset="0.1665" stop-color="#125b90"/><stop offset="0.1703" stop-color="#125c8f"/><stop offset="0.1741" stop-color="#125d8f"/><stop offset="0.1779" stop-color="#125e8e"/><stop offset="0.1816" stop-color="#125f8e"/><stop offset="0.1854" stop-color="#13608e"/><stop offset="0.1892" stop-color="#16638d"/><stop offset="0.1930" stop-color="#1a678c"/><stop offset="0.1968" stop-color="#1d6b8b"/><stop offset="0.2006" stop-color="#216f8a"/><stop offset="0.2043" stop-color="#247289"/><stop offset="0.2081" stop-color="#287689"/><stop offset="0.2119" stop-color="#2a7a89"/><stop offset="0.2157" stop-color="#2c7c89"/><stop offset="0.2195" stop-color="#2c7c89"/><stop offset="0.2233" stop-color="#2c7c89"/><stop offset="0.2270" stop-color="#2c7c89"/><stop offset="0.2308" stop-color="#2c7c89"/><stop offset="0.2346" stop-color="#2c7c89"/><stop offset="0.2384" stop-color="#2c7c89"/><stop offset="0.2422" stop-color="#2d7d89"/><stop offset="0.2460" stop-color="#2d7d89"/><stop offset="0.2497" stop-color="#2d7e89"/><stop offset="0.2535" stop-color="#2d7e89"/><stop offset="0.2573" stop-color="#2e7e88"/><stop offset="0.2611" stop-color="#2e7f88"/><stop offset="0.2649" stop-color="#2e7f88"/><stop offset="0.2687" stop-color="#2f8088"/><stop offset="0.2725" stop-color="#2f8088"/><stop offset="0.2762" stop-color="#2f8088"/><stop offset="0.2780" stop-color="#2f8188"/><stop offset="0.3083" stop-color="#328488"/><stop offset="0.3385" stop-color="#348788"/><stop offset="0.3688" stop-color="#378b88"/><stop offset="0.3991" stop-color="#398e87"/><stop offset="0.4294" stop-color="#3b9287"/><stop offset="0.4596" stop-color="#3c9386"/><stop offset="0.4899" stop-color="#3d9586"/><stop offset="0.5202" stop-color="#3e9786"/><stop offset="0.5505" stop-color="#3f9986"/><stop offset="0.5807" stop-color="#3f9a85"/><stop offset="0.6110" stop-color="#409c85"/><stop offset="0.6413" stop-color="#419d85"/><stop offset="0.6715" stop-color="#419e85"/><stop offset="0.7018" stop-color="#429e84"/><stop offset="0.7321" stop-color="#439f84"/><stop offset="0.7624" stop-color="#43a084"/><stop offset="0.7926" stop-color="#44a183"/><stop offset="0.8229" stop-color="#44a183"/><stop offset="0.8532" stop-color="#45a283"/><stop offset="0.8835" stop-color="#45a383"/><stop offset="0.9137" stop-color="#46a382"/><stop offset="0.9440" stop-color="#46a482"/><stop offset="0.9743" stop-color="#47a582"/><stop offset="1.0000" stop-color="#47a581"/></linearGradient>
<linearGradient id="g28" gradientUnits="userSpaceOnUse" x1="0" y1="89.80" x2="0" y2="489.20"><stop offset="0.0000" stop-color="#2f8088"/><stop offset="0.0038" stop-color="#2f8088"/><stop offset="0.0075" stop-color="#308188"/><stop offset="0.0113" stop-color="#308188"/><stop offset="0.0150" stop-color="#308288"/><stop offset="0.0188" stop-color="#318288"/><stop offset="0.0225" stop-color="#318388"/><stop offset="0.0263" stop-color="#318388"/><stop offset="0.0300" stop-color="#439f84"/><stop offset="0.0338" stop-color="#6bc46d"/><stop offset="0.0376" stop-color="#84cd64"/><stop offset="0.0413" stop-color="#7ecb66"/><stop offset="0.0451" stop-color="#54b47a"/><stop offset="0.0488" stop-color="#348788"/><stop offset="0.0526" stop-color="#206e8a"/><stop offset="0.0563" stop-color="#1f6d8b"/><stop offset="0.0601" stop-color="#1e6b8b"/><stop offset="0.0638" stop-color="#1d6a8b"/><stop offset="0.0676" stop-color="#1c698c"/><stop offset="0.0714" stop-color="#1b688c"/><stop offset="0.0751" stop-color="#19678c"/><stop offset="0.0789" stop-color="#18668c"/><stop offset="0.0826" stop-color="#17648d"/><stop offset="0.0864" stop-color="#16638d"/><stop offset="0.0901" stop-color="#15628d"/><stop offset="0.0939" stop-color="#14618e"/><stop offset="0.0976" stop-color="#13608e"/><stop offset="0.1014" stop-color="#104f95"/><stop offset="0.1052" stop-color="#1d359d"/><stop offset="0.1089" stop-color="#222e9e"/><stop offset="0.1127" stop-color="#222e9e"/><stop offset="0.1164" stop-color="#222e9e"/><stop offset="0.1202" stop-color="#193a9c"/><stop offset="0.1239" stop-color="#104b97"/><stop offset="0.1277" stop-color="#105294"/><stop offset="0.1314" stop-color="#105394"/><stop offset="0.1352" stop-color="#115493"/><stop offset="0.1390" stop-color="#115493"/><stop offset="0.1427" stop-color="#115592"/><stop offset="0.1465" stop-color="#115692"/><stop offset="0.1502" stop-color="#115792"/><stop offset="0.1540" stop-color="#115891"/><stop offset="0.1577" stop-color="#115991"/><stop offset="0.1615" stop-color="#115a90"/><stop offset="0.1652" stop-color="#125b90"/><stop offset="0.1690" stop-color="#125c8f"/><stop offset="0.1728" stop-color="#125d8f"/><stop offset="0.1765" stop-color="#125e8f"/><stop offset="0.1803" stop-color="#125f8e"/><stop offset="0.1840" stop-color="#13608e"/><stop offset="0.1878" stop-color="#15638d"/><stop offset="0.1915" stop-color="#18668c"/><stop offset="0.1953" stop-color="#1b698c"/><stop offset="0.1990" stop-color="#1e6c8b"/><stop offset="0.2028" stop-color="#216f8a"/><stop offset="0.2066" stop-color="#247289"/><stop offset="0.2103" stop-color="#277589"/><stop offset="0.2141" stop-color="#297789"/><stop offset="0.2178" stop-color="#297889"/><stop offset="0.2216" stop-color="#2a7989"/><stop offset="0.2253" stop-color="#2a7a89"/><stop offset="0.2291" stop-color="#2b7b89"/><stop offset="0.2328" stop-color="#2b7b89"/><stop offset="0.2366" stop-color="#2c7c89"/><stop offset="0.2404" stop-color="#2d7d89"/><stop offset="0.2441" stop-color="#2d7d89"/><stop offset="0.2479" stop-color="#2d7e89"/><stop offset="0.2516" stop-color="#2d7e89"/><stop offset="0.2554" stop-color="#2e7e88"/><stop offset="0.2591" stop-color="#2e7f88"/><stop offset="0.2629" stop-color="#2e7f88"/><stop offset="0.2666" stop-color="#2f8088"/><stop offset="0.2704" stop-color="#2f8088"/><stop offset="0.2742" stop-color="#2f8088"/><stop offset="0.2759" stop-color="#2f8188"/><stop offset="0.3060" stop-color="#328488"/><stop offset="0.3360" stop-color="#348788"/><stop offset="0.3660" stop-color="#378b88"/><stop offset="0.3961" stop-color="#398e87"/><stop offset="0.4261" stop-color="#3b9287"/><stop offset="0.4562" stop-color="#3c9386"/><stop offset="0.4862" stop-color="#3d9586"/><stop offset="0.5163" stop-color="#3e9786"/><stop offset="0.5463" stop-color="#3f9986"/><stop offset="0.5764" stop-color="#3f9a85"/><stop offset="0.6064" stop-color="#409c85"/><stop offset="0.6365" stop-color="#419d85"/><stop offset="0.6665" stop-color="#419e85"/><stop offset="0.6965" stop-color="#429e84"/><stop offset="0.7266" stop-color="#439f84"/><stop offset="0.7566" stop-color="#43a084"/><stop offset="0.7867" stop-color="#44a183"/><stop offset="0.8167" stop-color="#44a183"/><stop offset="0.8468" stop-color="#45a283"/><stop offset="0.8768" stop-color="#45a383"/><stop offset="0.9069" stop-color="#46a382"/><stop offset="0.9369" stop-color="#46a482"/><stop offset="0.9670" stop-color="#47a582"/><stop offset="0.9970" stop-color="#47a581"/></linearGradient>
<linearGradient id="g29" gradientUnits="userSpaceOnUse" x1="0" y1="89.80" x2="0" y2="485.60"><stop offset="0.0000" stop-color="#291b78"/><stop offset="0.0038" stop-color="#291b7b"/><stop offset="0.0076" stop-color="#291c7d"/><stop offset="0.0114" stop-color="#291c80"/><stop offset="0.0152" stop-color="#212f9e"/><stop offset="0.0189" stop-color="#2a7989"/><stop offset="0.0227" stop-color="#3d9686"/><stop offset="0.0265" stop-color="#3e9886"/><stop offset="0.0303" stop-color="#3f9986"/><stop offset="0.0341" stop-color="#409a85"/><stop offset="0.0379" stop-color="#4baa7f"/><stop offset="0.0417" stop-color="#67c170"/><stop offset="0.0455" stop-color="#7cca67"/><stop offset="0.0493" stop-color="#7dcb66"/><stop offset="0.0531" stop-color="#7fcb66"/><stop offset="0.0568" stop-color="#80cc65"/><stop offset="0.0606" stop-color="#81cc65"/><stop offset="0.0644" stop-color="#83cc65"/><stop offset="0.0682" stop-color="#84cd64"/><stop offset="0.0720" stop-color="#85cd64"/><stop offset="0.0758" stop-color="#87ce63"/><stop offset="0.0796" stop-color="#70c66b"/><stop offset="0.0834" stop-color="#48a781"/><stop offset="0.0872" stop-color="#348788"/><stop offset="0.0910" stop-color="#287789"/><stop offset="0.0947" stop-color="#19668c"/><stop offset="0.0985" stop-color="#115493"/><stop offset="0.1023" stop-color="#105194"/><stop offset="0.1061" stop-color="#105194"/><stop offset="0.1099" stop-color="#105194"/><stop offset="0.1137" stop-color="#105194"/><stop offset="0.1175" stop-color="#105194"/><stop offset="0.1213" stop-color="#105194"/><stop offset="0.1251" stop-color="#105194"/><stop offset="0.1289" stop-color="#105194"/><stop offset="0.1326" stop-color="#105194"/><stop offset="0.1364" stop-color="#105194"/><stop offset="0.1402" stop-color="#105294"/><stop offset="0.1440" stop-color="#115593"/><stop offset="0.1478" stop-color="#115792"/><stop offset="0.1516" stop-color="#115a90"/><stop offset="0.1554" stop-color="#125c8f"/><stop offset="0.1592" stop-color="#125f8e"/><stop offset="0.1630" stop-color="#14618e"/><stop offset="0.1668" stop-color="#16638d"/><stop offset="0.1705" stop-color="#18658c"/><stop offset="0.1743" stop-color="#1a688c"/><stop offset="0.1781" stop-color="#1c6a8b"/><stop offset="0.1819" stop-color="#1e6c8b"/><stop offset="0.1857" stop-color="#216e8a"/><stop offset="0.1895" stop-color="#22708a"/><stop offset="0.1933" stop-color="#24728a"/><stop offset="0.1971" stop-color="#267489"/><stop offset="0.2009" stop-color="#277589"/><stop offset="0.2046" stop-color="#287789"/><stop offset="0.2084" stop-color="#2a7989"/><stop offset="0.2122" stop-color="#2b7b89"/><stop offset="0.2160" stop-color="#2c7c89"/><stop offset="0.2198" stop-color="#2e7e88"/><stop offset="0.2236" stop-color="#2f8088"/><stop offset="0.2274" stop-color="#2f8088"/><stop offset="0.2312" stop-color="#2f8088"/><stop offset="0.2350" stop-color="#2f8088"/><stop offset="0.2388" stop-color="#2f8088"/><stop offset="0.2425" stop-color="#2f8088"/><stop offset="0.2463" stop-color="#2f8088"/><stop offset="0.2501" stop-color="#308188"/><stop offset="0.2539" stop-color="#308188"/><stop offset="0.2577" stop-color="#308288"/><stop offset="0.2615" stop-color="#308288"/><stop offset="0.2653" stop-color="#318288"/><stop offset="0.2691" stop-color="#318388"/><stop offset="0.2729" stop-color="#318388"/><stop offset="0.2767" stop-color="#318388"/><stop offset="0.2784" stop-color="#328388"/><stop offset="0.3087" stop-color="#348688"/><stop offset="0.3391" stop-color="#368988"/><stop offset="0.3694" stop-color="#378c87"/><stop offset="0.3997" stop-color="#398f87"/><stop offset="0.4300" stop-color="#3b9287"/><stop offset="0.4603" stop-color="#3c9386"/><stop offset="0.4907" stop-color="#3d9586"/><stop offset="0.5210" stop-color="#3e9786"/><stop offset="0.5513" stop-color="#3f9986"/><stop offset="0.5816" stop-color="#3f9a85"/><stop offset="0.6119" stop-color="#409c85"/><stop offset="0.6422" stop-color="#419d85"/><stop offset="0.6726" stop-color="#419e85"/><stop offset="0.7029" stop-color="#429e84"/><stop offset="0.7332" stop-color="#439f84"/><stop offset="0.7635" stop-color="#43a084"/><stop offset="0.7938" stop-color="#44a183"/><stop offset="0.8242" stop-color="#44a183"/><stop offset="0.8545" stop-color="#45a283"/><stop offset="0.8848" stop-color="#45a383"/><stop offset="0.9151" stop-color="#46a382"/><stop offset="0.9454" stop-color="#46a482"/><stop offset="0.9757" stop-color="#47a582"/><stop offset="1.0000" stop-color="#47a581"/></linearGradient>
<linearGradient id="g30" gradientUnits="userSpaceOnUse" x1="0" y1="89.80" x2="0" y2="489.20"><stop offset="0.0000" stop-color="#2a1e86"/><stop offset="0.0038" stop-color="#2a1e88"/><stop offset="0.0075" stop-color="#2a1e89"/><stop offset="0.0113" stop-color="#2a1f8b"/><stop offset="0.0150" stop-color="#2a1f8d"/><stop offset="0.0188" stop-color="#2a1f8e"/><stop offset="0.0225" stop-color="#173c9b"/><stop offset="0.0263" stop-color="#358888"/><stop offset="0.0300" stop-color="#44a183"/><stop offset="0.0338" stop-color="#44a283"/><stop offset="0.0376" stop-color="#45a283"/><stop offset="0.0413" stop-color="#46a382"/><stop offset="0.0451" stop-color="#46a482"/><stop offset="0.0488" stop-color="#47a482"/><stop offset="0.0526" stop-color="#47a581"/><stop offset="0.0563" stop-color="#48a681"/><stop offset="0.0601" stop-color="#48a781"/><stop offset="0.0638" stop-color="#49a781"/><stop offset="0.0676" stop-color="#429e84"/><stop offset="0.0714" stop-color="#3a9087"/><stop offset="0.0751" stop-color="#308288"/><stop offset="0.0789" stop-color="#267589"/><stop offset="0.0826" stop-color="#1a678c"/><stop offset="0.0864" stop-color="#115891"/><stop offset="0.0901" stop-color="#105194"/><stop offset="0.0939" stop-color="#105194"/><stop offset="0.0976" stop-color="#105194"/><stop offset="0.1014" stop-color="#105194"/><stop offset="0.1052" stop-color="#105194"/><stop offset="0.1089" stop-color="#105194"/><stop offset="0.1127" stop-color="#105194"/><stop offset="0.1164" stop-color="#105194"/><stop offset="0.1202" stop-color="#105194"/><stop offset="0.1239" stop-color="#105194"/><stop offset="0.1277" stop-color="#105194"/><stop offset="0.1314" stop-color="#105194"/><stop offset="0.1352" stop-color="#105194"/><stop offset="0.1390" stop-color="#105194"/><stop offset="0.1427" stop-color="#105194"/><stop offset="0.1465" stop-color="#105294"/><stop offset="0.1502" stop-color="#115593"/><stop offset="0.1540" stop-color="#115891"/><stop offset="0.1577" stop-color="#125b90"/><stop offset="0.1615" stop-color="#125e8e"/><stop offset="0.1652" stop-color="#14618e"/><stop offset="0.1690" stop-color="#16648d"/><stop offset="0.1728" stop-color="#19668c"/><stop offset="0.1765" stop-color="#1b698c"/><stop offset="0.1803" stop-color="#1e6c8b"/><stop offset="0.1840" stop-color="#206e8a"/><stop offset="0.1878" stop-color="#22708a"/><stop offset="0.1915" stop-color="#24728a"/><stop offset="0.1953" stop-color="#267489"/><stop offset="0.1990" stop-color="#277589"/><stop offset="0.2028" stop-color="#287789"/><stop offset="0.2066" stop-color="#2a7989"/><stop offset="0.2103" stop-color="#2b7b89"/><stop offset="0.2141" stop-color="#2c7c89"/><stop offset="0.2178" stop-color="#2e7e88"/><stop offset="0.2216" stop-color="#2f8088"/><stop offset="0.2253" stop-color="#2f8088"/><stop offset="0.2291" stop-color="#2f8088"/><stop offset="0.2328" stop-color="#2f8088"/><stop offset="0.2366" stop-color="#2f8088"/><stop offset="0.2404" stop-color="#2f8088"/><stop offset="0.2441" stop-color="#2f8088"/><stop offset="0.2479" stop-color="#308188"/><stop offset="0.2516" stop-color="#308188"/><stop offset="0.2554" stop-color="#308288"/><stop offset="0.2591" stop-color="#308288"/><stop offset="0.2629" stop-color="#318288"/><stop offset="0.2666" stop-color="#318388"/><stop offset="0.2704" stop-color="#318388"/><stop offset="0.2742" stop-color="#318388"/><stop offset="0.2759" stop-color="#328388"/><stop offset="0.3060" stop-color="#348688"/><stop offset="0.3360" stop-color="#368988"/><stop offset="0.3660" stop-color="#378c87"/><stop offset="0.3961" stop-color="#398f87"/><stop offset="0.4261" stop-color="#3b9287"/><stop offset="0.4562" stop-color="#3c9386"/><stop offset="0.4862" stop-color="#3d9586"/><stop offset="0.5163" stop-color="#3e9786"/><stop offset="0.5463" stop-color="#3f9986"/><stop offset="0.5764" stop-color="#3f9a85"/><stop offset="0.6064" stop-color="#409c85"/><stop offset="0.6365" stop-color="#419d85"/><stop offset="0.6665" stop-color="#419e85"/><stop offset="0.6965" stop-color="#429e84"/><stop offset="0.7266" stop-color="#439f84"/><stop offset="0.7566" stop-color="#43a084"/><stop offset="0.7867" stop-color="#44a183"/><stop offset="0.8167" stop-color="#44a183"/><stop offset="0.8468" stop-color="#45a283"/><stop offset="0.8768" stop-color="#45a383"/><stop offset="0.9069" stop-color="#46a382"/><stop offset="0.9369" stop-color="#46a482"/><stop offset="0.9670" stop-color="#47a582"/><stop offset="0.9970" stop-color="#47a581"/></linearGradient>
<linearGradient id="g31" gradientUnits="userSpaceOnUse" x1="0" y1="89.80" x2="0" y2="487.10"><stop offset="0.0000" stop-color="#27279f"/><stop offset="0.0038" stop-color="#26289f"/><stop offset="0.0076" stop-color="#26299f"/><stop offset="0.0113" stop-color="#252a9f"/><stop offset="0.0151" stop-color="#252a9f"/><stop offset="0.0189" stop-color="#242b9e"/><stop offset="0.0227" stop-color="#232c9e"/><stop offset="0.0264" stop-color="#232d9e"/><stop offset="0.0302" stop-color="#222d9e"/><stop offset="0.0340" stop-color="#125c8f"/><stop offset="0.0378" stop-color="#398f87"/><stop offset="0.0415" stop-color="#53b37b"/><stop offset="0.0453" stop-color="#55b47a"/><stop offset="0.0491" stop-color="#57b679"/><stop offset="0.0529" stop-color="#59b777"/><stop offset="0.0566" stop-color="#5bb976"/><stop offset="0.0604" stop-color="#5eba75"/><stop offset="0.0642" stop-color="#60bc74"/><stop offset="0.0680" stop-color="#62bd72"/><stop offset="0.0717" stop-color="#64bf71"/><stop offset="0.0755" stop-color="#73c76a"/><stop offset="0.0793" stop-color="#87ce63"/><stop offset="0.0831" stop-color="#7ac968"/><stop offset="0.0868" stop-color="#6dc56c"/><stop offset="0.0906" stop-color="#65c070"/><stop offset="0.0944" stop-color="#5dba75"/><stop offset="0.0982" stop-color="#44a183"/><stop offset="0.1019" stop-color="#328488"/><stop offset="0.1057" stop-color="#206e8a"/><stop offset="0.1095" stop-color="#115792"/><stop offset="0.1133" stop-color="#104c97"/><stop offset="0.1170" stop-color="#114599"/><stop offset="0.1208" stop-color="#183b9b"/><stop offset="0.1246" stop-color="#1b379c"/><stop offset="0.1284" stop-color="#1b379c"/><stop offset="0.1321" stop-color="#1b379c"/><stop offset="0.1359" stop-color="#1b379c"/><stop offset="0.1397" stop-color="#1b379c"/><stop offset="0.1435" stop-color="#1b379c"/><stop offset="0.1472" stop-color="#1b379c"/><stop offset="0.1510" stop-color="#1b379c"/><stop offset="0.1548" stop-color="#173d9b"/><stop offset="0.1586" stop-color="#115493"/><stop offset="0.1623" stop-color="#18658c"/><stop offset="0.1661" stop-color="#1b688c"/><stop offset="0.1699" stop-color="#1e6b8b"/><stop offset="0.1737" stop-color="#216e8a"/><stop offset="0.1774" stop-color="#23718a"/><stop offset="0.1812" stop-color="#267489"/><stop offset="0.1850" stop-color="#287789"/><stop offset="0.1888" stop-color="#297889"/><stop offset="0.1925" stop-color="#297889"/><stop offset="0.1963" stop-color="#2a7989"/><stop offset="0.2001" stop-color="#2a7a89"/><stop offset="0.2039" stop-color="#2b7a89"/><stop offset="0.2077" stop-color="#2b7b89"/><stop offset="0.2114" stop-color="#2c7b89"/><stop offset="0.2152" stop-color="#2c7c89"/><stop offset="0.2190" stop-color="#2c7d89"/><stop offset="0.2228" stop-color="#2d7d89"/><stop offset="0.2265" stop-color="#2d7e89"/><stop offset="0.2303" stop-color="#2e7e88"/><stop offset="0.2341" stop-color="#2e7f88"/><stop offset="0.2379" stop-color="#2f8088"/><stop offset="0.2416" stop-color="#2f8088"/><stop offset="0.2454" stop-color="#2f8088"/><stop offset="0.2492" stop-color="#308188"/><stop offset="0.2530" stop-color="#308188"/><stop offset="0.2567" stop-color="#308288"/><stop offset="0.2605" stop-color="#308288"/><stop offset="0.2643" stop-color="#318288"/><stop offset="0.2681" stop-color="#318388"/><stop offset="0.2718" stop-color="#318388"/><stop offset="0.2756" stop-color="#318388"/><stop offset="0.2774" stop-color="#328388"/><stop offset="0.3076" stop-color="#348688"/><stop offset="0.3378" stop-color="#368988"/><stop offset="0.3680" stop-color="#378c87"/><stop offset="0.3982" stop-color="#398f87"/><stop offset="0.4284" stop-color="#3b9287"/><stop offset="0.4586" stop-color="#3c9386"/><stop offset="0.4888" stop-color="#3d9586"/><stop offset="0.5190" stop-color="#3e9786"/><stop offset="0.5492" stop-color="#3f9986"/><stop offset="0.5794" stop-color="#3f9a85"/><stop offset="0.6096" stop-color="#409c85"/><stop offset="0.6398" stop-color="#419d85"/><stop offset="0.6700" stop-color="#419e85"/><stop offset="0.7002" stop-color="#429e84"/><stop offset="0.7304" stop-color="#439f84"/><stop offset="0.7606" stop-color="#43a084"/><stop offset="0.7908" stop-color="#44a183"/><stop offset="0.8210" stop-color="#44a183"/><stop offset="0.8512" stop-color="#45a283"/><stop offset="0.8814" stop-color="#45a383"/><stop offset="0.9117" stop-color="#46a382"/><stop offset="0.9419" stop-color="#46a482"/><stop offset="0.9721" stop-color="#47a582"/><stop offset="1.0000" stop-color="#47a581"/></linearGradient>
<linearGradient id="g32" gradientUnits="userSpaceOnUse" x1="0" y1="89.80" x2="0" y2="489.50"><stop offset="0.0000" stop-color="#105194"/><stop offset="0.0038" stop-color="#115493"/><stop offset="0.0075" stop-color="#115692"/><stop offset="0.0113" stop-color="#24728a"/><stop offset="0.0150" stop-color="#328488"/><stop offset="0.0188" stop-color="#338588"/><stop offset="0.0225" stop-color="#348688"/><stop offset="0.0263" stop-color="#348788"/><stop offset="0.0300" stop-color="#358888"/><stop offset="0.0338" stop-color="#3e9986"/><stop offset="0.0375" stop-color="#50b17c"/><stop offset="0.0413" stop-color="#5fbb74"/><stop offset="0.0450" stop-color="#62be72"/><stop offset="0.0488" stop-color="#66c070"/><stop offset="0.0525" stop-color="#6ac36e"/><stop offset="0.0563" stop-color="#81cc65"/><stop offset="0.0600" stop-color="#b4da63"/><stop offset="0.0638" stop-color="#b4da63"/><stop offset="0.0676" stop-color="#b4da63"/><stop offset="0.0713" stop-color="#b4da63"/><stop offset="0.0751" stop-color="#b4da63"/><stop offset="0.0788" stop-color="#b4da63"/><stop offset="0.0826" stop-color="#b1da62"/><stop offset="0.0863" stop-color="#96d35e"/><stop offset="0.0901" stop-color="#7cca67"/><stop offset="0.0938" stop-color="#6ec56c"/><stop offset="0.0976" stop-color="#65c071"/><stop offset="0.1013" stop-color="#3d9686"/><stop offset="0.1051" stop-color="#1a688c"/><stop offset="0.1088" stop-color="#125c90"/><stop offset="0.1126" stop-color="#125c90"/><stop offset="0.1163" stop-color="#125c90"/><stop offset="0.1201" stop-color="#125c90"/><stop offset="0.1238" stop-color="#125c90"/><stop offset="0.1276" stop-color="#125c90"/><stop offset="0.1313" stop-color="#125c90"/><stop offset="0.1351" stop-color="#125c90"/><stop offset="0.1389" stop-color="#125c90"/><stop offset="0.1426" stop-color="#125c90"/><stop offset="0.1464" stop-color="#125c90"/><stop offset="0.1501" stop-color="#125c90"/><stop offset="0.1539" stop-color="#125c90"/><stop offset="0.1576" stop-color="#125c90"/><stop offset="0.1614" stop-color="#125c90"/><stop offset="0.1651" stop-color="#125c90"/><stop offset="0.1689" stop-color="#125c90"/><stop offset="0.1726" stop-color="#125c90"/><stop offset="0.1764" stop-color="#125c90"/><stop offset="0.1801" stop-color="#125c90"/><stop offset="0.1839" stop-color="#125c90"/><stop offset="0.1876" stop-color="#125f8e"/><stop offset="0.1914" stop-color="#16638d"/><stop offset="0.1951" stop-color="#19678c"/><stop offset="0.1989" stop-color="#1d6a8b"/><stop offset="0.2027" stop-color="#206e8b"/><stop offset="0.2064" stop-color="#23718a"/><stop offset="0.2102" stop-color="#267589"/><stop offset="0.2139" stop-color="#297789"/><stop offset="0.2177" stop-color="#297889"/><stop offset="0.2214" stop-color="#2a7989"/><stop offset="0.2252" stop-color="#2a7a89"/><stop offset="0.2289" stop-color="#2b7b89"/><stop offset="0.2327" stop-color="#2b7b89"/><stop offset="0.2364" stop-color="#2c7c89"/><stop offset="0.2402" stop-color="#2d7d89"/><stop offset="0.2439" stop-color="#2d7d89"/><stop offset="0.2477" stop-color="#2d7e89"/><stop offset="0.2514" stop-color="#2d7e89"/><stop offset="0.2552" stop-color="#2e7e88"/><stop offset="0.2589" stop-color="#2e7f88"/><stop offset="0.2627" stop-color="#2e7f88"/><stop offset="0.2664" stop-color="#2f8088"/><stop offset="0.2702" stop-color="#2f8088"/><stop offset="0.2740" stop-color="#2f8088"/><stop offset="0.2757" stop-color="#2f8188"/><stop offset="0.3057" stop-color="#328488"/><stop offset="0.3358" stop-color="#348788"/><stop offset="0.3658" stop-color="#378b88"/><stop offset="0.3958" stop-color="#398e87"/><stop offset="0.4258" stop-color="#3b9287"/><stop offset="0.4558" stop-color="#3c9386"/><stop offset="0.4859" stop-color="#3d9586"/><stop offset="0.5159" stop-color="#3e9786"/><stop offset="0.5459" stop-color="#3f9986"/><stop offset="0.5759" stop-color="#3f9a85"/><stop offset="0.6060" stop-color="#409c85"/><stop offset="0.6360" stop-color="#419d85"/><stop offset="0.6660" stop-color="#419e85"/><stop offset="0.6960" stop-color="#429e84"/><stop offset="0.7260" stop-color="#439f84"/><stop offset="0.7561" stop-color="#43a084"/><stop offset="0.7861" stop-color="#44a183"/><stop offset="0.8161" stop-color="#44a183"/><stop offset="0.8461" stop-color="#45a283"/><stop offset="0.8762" stop-color="#45a383"/><stop offset="0.9062" stop-color="#46a382"/><stop offset="0.9362" stop-color="#46a482"/><stop offset="0.9662" stop-color="#47a582"/><stop offset="0.9962" stop-color="#47a581"/></linearGradient>
<linearGradient id="g33" gradientUnits="userSpaceOnUse" x1="0" y1="89.80" x2="0" y2="487.10"><stop offset="0.0000" stop-color="#1d6b8b"/><stop offset="0.0038" stop-color="#1d6b8b"/><stop offset="0.0076" stop-color="#1e6c8b"/><stop offset="0.0113" stop-color="#1e6c8b"/><stop offset="0.0151" stop-color="#1f6d8b"/><stop offset="0.0189" stop-color="#1f6d8b"/><stop offset="0.0227" stop-color="#206e8b"/><stop offset="0.0264" stop-color="#206e8a"/><stop offset="0.0302" stop-color="#348688"/><stop offset="0.0340" stop-color="#49a781"/><stop offset="0.0378" stop-color="#54b47a"/><stop offset="0.0415" stop-color="#57b679"/><stop offset="0.0453" stop-color="#5ab877"/><stop offset="0.0491" stop-color="#5fbb74"/><stop offset="0.0529" stop-color="#87ce63"/><stop offset="0.0566" stop-color="#87ce63"/><stop offset="0.0604" stop-color="#85cd64"/><stop offset="0.0642" stop-color="#84cd64"/><stop offset="0.0680" stop-color="#83cc65"/><stop offset="0.0717" stop-color="#81cc65"/><stop offset="0.0755" stop-color="#80cc65"/><stop offset="0.0793" stop-color="#7fcb66"/><stop offset="0.0831" stop-color="#7ecb66"/><stop offset="0.0868" stop-color="#7cca67"/><stop offset="0.0906" stop-color="#7bca67"/><stop offset="0.0944" stop-color="#5cb976"/><stop offset="0.0982" stop-color="#48a781"/><stop offset="0.1019" stop-color="#338588"/><stop offset="0.1057" stop-color="#14618d"/><stop offset="0.1095" stop-color="#115791"/><stop offset="0.1133" stop-color="#115791"/><stop offset="0.1170" stop-color="#115791"/><stop offset="0.1208" stop-color="#115791"/><stop offset="0.1246" stop-color="#115791"/><stop offset="0.1284" stop-color="#115791"/><stop offset="0.1321" stop-color="#115791"/><stop offset="0.1359" stop-color="#115791"/><stop offset="0.1397" stop-color="#115791"/><stop offset="0.1435" stop-color="#115791"/><stop offset="0.1472" stop-color="#115791"/><stop offset="0.1510" stop-color="#115791"/><stop offset="0.1548" stop-color="#115791"/><stop offset="0.1586" stop-color="#115791"/><stop offset="0.1623" stop-color="#115791"/><stop offset="0.1661" stop-color="#115791"/><stop offset="0.1699" stop-color="#115791"/><stop offset="0.1737" stop-color="#115791"/><stop offset="0.1774" stop-color="#115791"/><stop offset="0.1812" stop-color="#14618d"/><stop offset="0.1850" stop-color="#1e6c8b"/><stop offset="0.1888" stop-color="#277689"/><stop offset="0.1925" stop-color="#297889"/><stop offset="0.1963" stop-color="#297889"/><stop offset="0.2001" stop-color="#297889"/><stop offset="0.2039" stop-color="#2a7989"/><stop offset="0.2077" stop-color="#2a7989"/><stop offset="0.2114" stop-color="#2a7a89"/><stop offset="0.2152" stop-color="#2a7a89"/><stop offset="0.2190" stop-color="#2b7a89"/><stop offset="0.2228" stop-color="#2b7b89"/><stop offset="0.2265" stop-color="#2b7b89"/><stop offset="0.2303" stop-color="#2c7b89"/><stop offset="0.2341" stop-color="#2c7c89"/><stop offset="0.2379" stop-color="#2c7c89"/><stop offset="0.2416" stop-color="#2d7d89"/><stop offset="0.2454" stop-color="#2d7d89"/><stop offset="0.2492" stop-color="#2d7e89"/><stop offset="0.2530" stop-color="#2d7e89"/><stop offset="0.2567" stop-color="#2e7e88"/><stop offset="0.2605" stop-color="#2e7f88"/><stop offset="0.2643" stop-color="#2e7f88"/><stop offset="0.2681" stop-color="#2f8088"/><stop offset="0.2718" stop-color="#2f8088"/><stop offset="0.2756" stop-color="#2f8088"/><stop offset="0.2774" stop-color="#2f8188"/><stop offset="0.3076" stop-color="#328488"/><stop offset="0.3378" stop-color="#348788"/><stop offset="0.3680" stop-color="#378b88"/><stop offset="0.3982" stop-color="#398e87"/><stop offset="0.4284" stop-color="#3b9287"/><stop offset="0.4586" stop-color="#3c9386"/><stop offset="0.4888" stop-color="#3d9586"/><stop offset="0.5190" stop-color="#3e9786"/><stop offset="0.5492" stop-color="#3f9986"/><stop offset="0.5794" stop-color="#3f9a85"/><stop offset="0.6096" stop-color="#409c85"/><stop offset="0.6398" stop-color="#419d85"/><stop offset="0.6700" stop-color="#419e85"/><stop offset="0.7002" stop-color="#429e84"/><stop offset="0.7304" stop-color="#439f84"/><stop offset="0.7606" stop-color="#43a084"/><stop offset="0.7908" stop-color="#44a183"/><stop offset="0.8210" stop-color="#44a183"/><stop offset="0.8512" stop-color="#45a283"/><stop offset="0.8814" stop-color="#45a383"/><stop offset="0.9117" stop-color="#46a382"/><stop offset="0.9419" stop-color="#46a482"/><stop offset="0.9721" stop-color="#47a582"/><stop offset="1.0000" stop-color="#47a581"/></linearGradient>
<linearGradient id="g34" gradientUnits="userSpaceOnUse" x1="0" y1="89.80" x2="0" y2="489.50"><stop offset="0.0000" stop-color="#216e8a"/><stop offset="0.0038" stop-color="#216f8a"/><stop offset="0.0075" stop-color="#216f8a"/><stop offset="0.0113" stop-color="#22708a"/><stop offset="0.0150" stop-color="#22708a"/><stop offset="0.0188" stop-color="#23718a"/><stop offset="0.0225" stop-color="#23718a"/><stop offset="0.0263" stop-color="#24728a"/><stop offset="0.0300" stop-color="#368a88"/><stop offset="0.0338" stop-color="#4bab7f"/><stop offset="0.0375" stop-color="#58b678"/><stop offset="0.0413" stop-color="#59b778"/><stop offset="0.0450" stop-color="#5ab877"/><stop offset="0.0488" stop-color="#5bb876"/><stop offset="0.0525" stop-color="#5cb976"/><stop offset="0.0563" stop-color="#6bc36d"/><stop offset="0.0600" stop-color="#a1d65b"/><stop offset="0.0638" stop-color="#cadf6c"/><stop offset="0.0676" stop-color="#c8df6b"/><stop offset="0.0713" stop-color="#c7de6b"/><stop offset="0.0751" stop-color="#c6de6a"/><stop offset="0.0788" stop-color="#c5de6a"/><stop offset="0.0826" stop-color="#c4de69"/><stop offset="0.0863" stop-color="#c2dd69"/><stop offset="0.0901" stop-color="#c1dd68"/><stop offset="0.0938" stop-color="#7ecb66"/><stop offset="0.0976" stop-color="#50b17c"/><stop offset="0.1013" stop-color="#48a681"/><stop offset="0.1051" stop-color="#419d85"/><stop offset="0.1088" stop-color="#2e7f88"/><stop offset="0.1126" stop-color="#115a90"/><stop offset="0.1163" stop-color="#0f4b97"/><stop offset="0.1201" stop-color="#0f4a98"/><stop offset="0.1238" stop-color="#0f4a98"/><stop offset="0.1276" stop-color="#0f4998"/><stop offset="0.1313" stop-color="#0f4998"/><stop offset="0.1351" stop-color="#0f4998"/><stop offset="0.1389" stop-color="#0f4898"/><stop offset="0.1426" stop-color="#0f4899"/><stop offset="0.1464" stop-color="#0f4799"/><stop offset="0.1501" stop-color="#0f4799"/><stop offset="0.1539" stop-color="#104b97"/><stop offset="0.1576" stop-color="#14618e"/><stop offset="0.1614" stop-color="#247289"/><stop offset="0.1651" stop-color="#257389"/><stop offset="0.1689" stop-color="#257389"/><stop offset="0.1726" stop-color="#267489"/><stop offset="0.1764" stop-color="#267489"/><stop offset="0.1801" stop-color="#267589"/><stop offset="0.1839" stop-color="#277589"/><stop offset="0.1876" stop-color="#277689"/><stop offset="0.1914" stop-color="#287689"/><stop offset="0.1951" stop-color="#287789"/><stop offset="0.1989" stop-color="#287789"/><stop offset="0.2027" stop-color="#297889"/><stop offset="0.2064" stop-color="#297889"/><stop offset="0.2102" stop-color="#297989"/><stop offset="0.2139" stop-color="#2a7989"/><stop offset="0.2177" stop-color="#2a7a89"/><stop offset="0.2214" stop-color="#2b7a89"/><stop offset="0.2252" stop-color="#2b7b89"/><stop offset="0.2289" stop-color="#2b7b89"/><stop offset="0.2327" stop-color="#2c7c89"/><stop offset="0.2364" stop-color="#2c7c89"/><stop offset="0.2402" stop-color="#2d7d89"/><stop offset="0.2439" stop-color="#2d7d89"/><stop offset="0.2477" stop-color="#2d7e89"/><stop offset="0.2514" stop-color="#2d7e89"/><stop offset="0.2552" stop-color="#2e7e88"/><stop offset="0.2589" stop-color="#2e7f88"/><stop offset="0.2627" stop-color="#2e7f88"/><stop offset="0.2664" stop-color="#2f8088"/><stop offset="0.2702" stop-color="#2f8088"/><stop offset="0.2740" stop-color="#2f8088"/><stop offset="0.2757" stop-color="#2f8188"/><stop offset="0.3057" stop-color="#328488"/><stop offset="0.3358" stop-color="#348788"/><stop offset="0.3658" stop-color="#378b88"/><stop offset="0.3958" stop-color="#398e87"/><stop offset="0.4258" stop-color="#3b9287"/><stop offset="0.4558" stop-color="#3c9386"/><stop offset="0.4859" stop-color="#3d9586"/><stop offset="0.5159" stop-color="#3e9786"/><stop offset="0.5459" stop-color="#3f9986"/><stop offset="0.5759" stop-color="#3f9a85"/><stop offset="0.6060" stop-color="#409c85"/><stop offset="0.6360" stop-color="#419d85"/><stop offset="0.6660" stop-color="#419e85"/><stop offset="0.6960" stop-color="#429e84"/><stop offset="0.7260" stop-color="#439f84"/><stop offset="0.7561" stop-color="#43a084"/><stop offset="0.7861" stop-color="#44a183"/><stop offset="0.8161" stop-color="#44a183"/><stop offset="0.8461" stop-color="#45a283"/><stop offset="0.8762" stop-color="#45a383"/><stop offset="0.9062" stop-color="#46a382"/><stop offset="0.9362" stop-color="#46a482"/><stop offset="0.9662" stop-color="#47a582"/><stop offset="0.9962" stop-color="#47a581"/></linearGradient>
<linearGradient id="g35" gradientUnits="userSpaceOnUse" x1="0" y1="89.80" x2="0" y2="488.00"><stop offset="0.0000" stop-color="#216e8a"/><stop offset="0.0038" stop-color="#216f8a"/><stop offset="0.0075" stop-color="#216f8a"/><stop offset="0.0113" stop-color="#22708a"/><stop offset="0.0151" stop-color="#22708a"/><stop offset="0.0188" stop-color="#23718a"/><stop offset="0.0226" stop-color="#23718a"/><stop offset="0.0264" stop-color="#24728a"/><stop offset="0.0301" stop-color="#48a681"/><stop offset="0.0339" stop-color="#65bf71"/><stop offset="0.0377" stop-color="#66c070"/><stop offset="0.0414" stop-color="#68c16f"/><stop offset="0.0452" stop-color="#69c26e"/><stop offset="0.0490" stop-color="#6bc36e"/><stop offset="0.0527" stop-color="#6cc46d"/><stop offset="0.0565" stop-color="#6dc56c"/><stop offset="0.0603" stop-color="#6fc66b"/><stop offset="0.0640" stop-color="#71c76a"/><stop offset="0.0678" stop-color="#79c968"/><stop offset="0.0716" stop-color="#99d45d"/><stop offset="0.0753" stop-color="#b4da63"/><stop offset="0.0791" stop-color="#b4da63"/><stop offset="0.0829" stop-color="#aed961"/><stop offset="0.0866" stop-color="#71c66b"/><stop offset="0.0904" stop-color="#4eae7e"/><stop offset="0.0942" stop-color="#4cab7f"/><stop offset="0.0979" stop-color="#4aa980"/><stop offset="0.1017" stop-color="#48a781"/><stop offset="0.1055" stop-color="#47a582"/><stop offset="0.1092" stop-color="#3a9087"/><stop offset="0.1130" stop-color="#287789"/><stop offset="0.1168" stop-color="#125c8f"/><stop offset="0.1205" stop-color="#105194"/><stop offset="0.1243" stop-color="#105194"/><stop offset="0.1281" stop-color="#105194"/><stop offset="0.1318" stop-color="#105194"/><stop offset="0.1356" stop-color="#105194"/><stop offset="0.1394" stop-color="#105194"/><stop offset="0.1431" stop-color="#105194"/><stop offset="0.1469" stop-color="#115792"/><stop offset="0.1507" stop-color="#1c6a8b"/><stop offset="0.1544" stop-color="#287789"/><stop offset="0.1582" stop-color="#297889"/><stop offset="0.1620" stop-color="#297889"/><stop offset="0.1657" stop-color="#297889"/><stop offset="0.1695" stop-color="#297889"/><stop offset="0.1733" stop-color="#297889"/><stop offset="0.1770" stop-color="#297989"/><stop offset="0.1808" stop-color="#2a7989"/><stop offset="0.1846" stop-color="#2a7989"/><stop offset="0.1883" stop-color="#2a7989"/><stop offset="0.1921" stop-color="#2a7a89"/><stop offset="0.1959" stop-color="#2a7a89"/><stop offset="0.1996" stop-color="#2b7a89"/><stop offset="0.2034" stop-color="#2b7a89"/><stop offset="0.2072" stop-color="#2b7b89"/><stop offset="0.2109" stop-color="#2b7b89"/><stop offset="0.2147" stop-color="#2b7b89"/><stop offset="0.2185" stop-color="#2b7b89"/><stop offset="0.2223" stop-color="#2c7b89"/><stop offset="0.2260" stop-color="#2c7c89"/><stop offset="0.2298" stop-color="#2c7c89"/><stop offset="0.2336" stop-color="#2c7c89"/><stop offset="0.2373" stop-color="#2c7c89"/><stop offset="0.2411" stop-color="#2d7d89"/><stop offset="0.2449" stop-color="#2d7d89"/><stop offset="0.2486" stop-color="#2d7e89"/><stop offset="0.2524" stop-color="#2d7e89"/><stop offset="0.2562" stop-color="#2e7e88"/><stop offset="0.2599" stop-color="#2e7f88"/><stop offset="0.2637" stop-color="#2e7f88"/><stop offset="0.2675" stop-color="#2f8088"/><stop offset="0.2712" stop-color="#2f8088"/><stop offset="0.2750" stop-color="#2f8088"/><stop offset="0.2767" stop-color="#2f8188"/><stop offset="0.3069" stop-color="#328488"/><stop offset="0.3370" stop-color="#348788"/><stop offset="0.3672" stop-color="#378b88"/><stop offset="0.3973" stop-color="#398e87"/><stop offset="0.4274" stop-color="#3b9287"/><stop offset="0.4576" stop-color="#3c9386"/><stop offset="0.4877" stop-color="#3d9586"/><stop offset="0.5178" stop-color="#3e9786"/><stop offset="0.5480" stop-color="#3f9986"/><stop offset="0.5781" stop-color="#3f9a85"/><stop offset="0.6082" stop-color="#409c85"/><stop offset="0.6384" stop-color="#419d85"/><stop offset="0.6685" stop-color="#419e85"/><stop offset="0.6986" stop-color="#429e84"/><stop offset="0.7288" stop-color="#439f84"/><stop offset="0.7589" stop-color="#43a084"/><stop offset="0.7891" stop-color="#44a183"/><stop offset="0.8192" stop-color="#44a183"/><stop offset="0.8493" stop-color="#45a283"/><stop offset="0.8795" stop-color="#45a383"/><stop offset="0.9096" stop-color="#46a382"/><stop offset="0.9397" stop-color="#46a482"/><stop offset="0.9699" stop-color="#47a582"/><stop offset="1.0000" stop-color="#47a581"/></linearGradient>
<linearGradient id="cb" x1="0" y1="0" x2="0" y2="1"><stop offset="0.0000" stop-color="#fdee99"/><stop offset="0.0156" stop-color="#f6ec92"/><stop offset="0.0312" stop-color="#efea8b"/><stop offset="0.0469" stop-color="#e8e784"/><stop offset="0.0625" stop-color="#e1e57d"/><stop offset="0.0781" stop-color="#dae376"/><stop offset="0.0938" stop-color="#d2e16f"/><stop offset="0.1094" stop-color="#c9df6c"/><stop offset="0.1250" stop-color="#c0dd68"/><stop offset="0.1406" stop-color="#b8db65"/><stop offset="0.1562" stop-color="#afd961"/><stop offset="0.1719" stop-color="#a6d75d"/><stop offset="0.1875" stop-color="#9dd55c"/><stop offset="0.2031" stop-color="#95d25f"/><stop offset="0.2188" stop-color="#8ccf62"/><stop offset="0.2344" stop-color="#84cd64"/><stop offset="0.2500" stop-color="#7bca67"/><stop offset="0.2656" stop-color="#73c76a"/><stop offset="0.2812" stop-color="#6cc46d"/><stop offset="0.2969" stop-color="#67c170"/><stop offset="0.3125" stop-color="#62bd72"/><stop offset="0.3281" stop-color="#5dba75"/><stop offset="0.3438" stop-color="#58b678"/><stop offset="0.3594" stop-color="#52b37b"/><stop offset="0.3750" stop-color="#4faf7d"/><stop offset="0.3906" stop-color="#4cac7f"/><stop offset="0.4062" stop-color="#49a880"/><stop offset="0.4219" stop-color="#47a582"/><stop offset="0.4375" stop-color="#44a183"/><stop offset="0.4531" stop-color="#419d85"/><stop offset="0.4688" stop-color="#3f9a85"/><stop offset="0.4844" stop-color="#3d9686"/><stop offset="0.5000" stop-color="#3b9386"/><stop offset="0.5156" stop-color="#398f87"/><stop offset="0.5312" stop-color="#378b88"/><stop offset="0.5469" stop-color="#358888"/><stop offset="0.5625" stop-color="#328488"/><stop offset="0.5781" stop-color="#308188"/><stop offset="0.5938" stop-color="#2d7d89"/><stop offset="0.6094" stop-color="#2a7a89"/><stop offset="0.6250" stop-color="#287789"/><stop offset="0.6406" stop-color="#257389"/><stop offset="0.6562" stop-color="#226f8a"/><stop offset="0.6719" stop-color="#1e6c8b"/><stop offset="0.6875" stop-color="#1b688c"/><stop offset="0.7031" stop-color="#17658d"/><stop offset="0.7188" stop-color="#14618e"/><stop offset="0.7344" stop-color="#125d8f"/><stop offset="0.7500" stop-color="#115991"/><stop offset="0.7656" stop-color="#115593"/><stop offset="0.7812" stop-color="#105195"/><stop offset="0.7969" stop-color="#104d96"/><stop offset="0.8125" stop-color="#0f4998"/><stop offset="0.8281" stop-color="#12439a"/><stop offset="0.8438" stop-color="#173d9b"/><stop offset="0.8594" stop-color="#1b379c"/><stop offset="0.8750" stop-color="#20319d"/><stop offset="0.8906" stop-color="#252a9f"/><stop offset="0.9062" stop-color="#2924a0"/><stop offset="0.9219" stop-color="#2a2199"/><stop offset="0.9375" stop-color="#2a208f"/><stop offset="0.9531" stop-color="#2a1e86"/><stop offset="0.9688" stop-color="#291c7d"/><stop offset="0.9844" stop-color="#291a74"/><stop offset="1.0000" stop-color="#29186b"/></linearGradient>
</defs>
<rect x="211.70" y="89.80" width="5.50" height="401.20" rx="2.75" ry="2.75" fill="url(#g0)"/>
<rect x="233.62" y="89.80" width="5.50" height="401.20" rx="2.75" ry="2.75" fill="url(#g1)"/>
<rect x="255.54" y="89.80" width="5.50" height="401.80" rx="2.75" ry="2.75" fill="url(#g2)"/>
<rect x="277.46" y="89.80" width="5.50" height="402.70" rx="2.75" ry="2.75" fill="url(#g3)"/>
<rect x="299.38" y="89.80" width="5.50" height="400.60" rx="2.75" ry="2.75" fill="url(#g4)"/>
<rect x="321.30" y="89.80" width="5.50" height="399.70" rx="2.75" ry="2.75" fill="url(#g5)"/>
<rect x="343.22" y="89.80" width="5.50" height="397.00" rx="2.75" ry="2.75" fill="url(#g6)"/>
<rect x="365.13" y="89.80" width="5.50" height="400.00" rx="2.75" ry="2.75" fill="url(#g7)"/>
<rect x="387.05" y="89.80" width="5.50" height="396.70" rx="2.75" ry="2.75" fill="url(#g8)"/>
<rect x="408.97" y="89.80" width="5.50" height="400.00" rx="2.75" ry="2.75" fill="url(#g9)"/>
<rect x="430.89" y="89.80" width="5.50" height="395.80" rx="2.75" ry="2.75" fill="url(#g10)"/>
<rect x="452.81" y="89.80" width="5.50" height="401.20" rx="2.75" ry="2.75" fill="url(#g11)"/>
<rect x="474.73" y="89.80" width="5.50" height="395.80" rx="2.75" ry="2.75" fill="url(#g12)"/>
<rect x="496.65" y="89.80" width="5.50" height="401.20" rx="2.75" ry="2.75" fill="url(#g13)"/>
<rect x="518.57" y="89.80" width="5.50" height="394.60" rx="2.75" ry="2.75" fill="url(#g14)"/>
<rect x="540.49" y="89.80" width="5.50" height="400.00" rx="2.75" ry="2.75" fill="url(#g15)"/>
<rect x="562.41" y="89.80" width="5.50" height="395.80" rx="2.75" ry="2.75" fill="url(#g16)"/>
<rect x="584.33" y="89.80" width="5.50" height="400.00" rx="2.75" ry="2.75" fill="url(#g17)"/>
<rect x="606.25" y="89.80" width="5.50" height="394.60" rx="2.75" ry="2.75" fill="url(#g18)"/>
<rect x="628.16" y="89.80" width="5.50" height="399.70" rx="2.75" ry="2.75" fill="url(#g19)"/>
<rect x="650.08" y="89.80" width="5.50" height="395.20" rx="2.75" ry="2.75" fill="url(#g20)"/>
<rect x="672.00" y="89.80" width="5.50" height="398.80" rx="2.75" ry="2.75" fill="url(#g21)"/>
<rect x="693.92" y="89.80" width="5.50" height="395.20" rx="2.75" ry="2.75" fill="url(#g22)"/>
<rect x="715.84" y="89.80" width="5.50" height="399.40" rx="2.75" ry="2.75" fill="url(#g23)"/>
<rect x="737.76" y="89.80" width="5.50" height="395.20" rx="2.75" ry="2.75" fill="url(#g24)"/>
<rect x="759.68" y="89.80" width="5.50" height="398.80" rx="2.75" ry="2.75" fill="url(#g25)"/>
<rect x="803.52" y="89.80" width="5.50" height="400.60" rx="2.75" ry="2.75" fill="url(#g26)"/>
<rect x="825.44" y="89.80" width="5.50" height="396.40" rx="2.75" ry="2.75" fill="url(#g27)"/>
<rect x="847.36" y="89.80" width="5.50" height="399.40" rx="2.75" ry="2.75" fill="url(#g28)"/>
<rect x="869.28" y="89.80" width="5.50" height="395.80" rx="2.75" ry="2.75" fill="url(#g29)"/>
<rect x="891.20" y="89.80" width="5.50" height="399.40" rx="2.75" ry="2.75" fill="url(#g30)"/>
<rect x="913.11" y="89.80" width="5.50" height="397.30" rx="2.75" ry="2.75" fill="url(#g31)"/>
<rect x="935.03" y="89.80" width="5.50" height="399.70" rx="2.75" ry="2.75" fill="url(#g32)"/>
<rect x="956.95" y="89.80" width="5.50" height="397.30" rx="2.75" ry="2.75" fill="url(#g33)"/>
<rect x="978.87" y="89.80" width="5.50" height="399.70" rx="2.75" ry="2.75" fill="url(#g34)"/>
<rect x="1000.79" y="89.80" width="5.50" height="398.20" rx="2.75" ry="2.75" fill="url(#g35)"/>
<rect x="175.5" y="72.5" width="868" height="438" fill="none" stroke="#000" stroke-width="1.11"/>
<path d="M170.14 91.5H175.5M170.14 141.5H175.5M170.14 191.5H175.5M170.14 241.5H175.5M170.14 291.5H175.5M170.14 341.5H175.5M170.14 391.5H175.5M170.14 441.5H175.5M170.14 491.5H175.5M203.5 510.5V515.36M337.5 510.5V515.36M473.5 510.5V515.36M607.5 510.5V515.36M741.5 510.5V515.36M870.5 510.5V515.36M1004.5 510.5V515.36M1119.5 465.5H1124.36M1119.5 396.5H1124.36M1119.5 326.5H1124.36M1119.5 257.5H1124.36M1119.5 188.5H1124.36M1119.5 119.5H1124.36" stroke="#000" stroke-width="1.11" fill="none"/>
<rect x="1097.25" y="72" width="21.9" height="438" fill="url(#cb)"/>
<rect x="1097.5" y="72.5" width="22" height="438" fill="none" stroke="#000" stroke-width="1.11"/>
<text x="164.80" y="97.10" font-size="14.72" text-anchor="end" textLength="7.25" lengthAdjust="spacingAndGlyphs">0</text>
<text x="164.80" y="147.06" font-size="14.72" text-anchor="end" textLength="36.38" lengthAdjust="spacingAndGlyphs">−250</text>
<text x="164.80" y="197.03" font-size="14.72" text-anchor="end" textLength="36.38" lengthAdjust="spacingAndGlyphs">−500</text>
<text x="164.80" y="246.99" font-size="14.72" text-anchor="end" textLength="36.38" lengthAdjust="spacingAndGlyphs">−750</text>
<text x="164.80" y="296.95" font-size="14.72" text-anchor="end" textLength="45.25" lengthAdjust="spacingAndGlyphs">−1000</text>
<text x="164.80" y="346.91" font-size="14.72" text-anchor="end" textLength="45.25" lengthAdjust="spacingAndGlyphs">−1250</text>
<text x="164.80" y="396.88" font-size="14.72" text-anchor="end" textLength="45.25" lengthAdjust="spacingAndGlyphs">−1500</text>
<text x="164.80" y="446.84" font-size="14.72" text-anchor="end" textLength="45.25" lengthAdjust="spacingAndGlyphs">−1750</text>
<text x="164.80" y="496.80" font-size="14.72" text-anchor="end" textLength="45.12" lengthAdjust="spacingAndGlyphs">−2000</text>
<text x="1130.10" y="470.65" font-size="14.72" textLength="28.62" lengthAdjust="spacingAndGlyphs">34.0</text>
<text x="1130.10" y="401.46" font-size="14.72" textLength="28.62" lengthAdjust="spacingAndGlyphs">34.2</text>
<text x="1130.10" y="332.26" font-size="14.72" textLength="28.62" lengthAdjust="spacingAndGlyphs">34.4</text>
<text x="1130.10" y="263.07" font-size="14.72" textLength="28.75" lengthAdjust="spacingAndGlyphs">34.6</text>
<text x="1130.10" y="193.87" font-size="14.72" textLength="28.75" lengthAdjust="spacingAndGlyphs">34.8</text>
<text x="1130.10" y="124.68" font-size="14.72" textLength="28.62" lengthAdjust="spacingAndGlyphs">35.0</text>
<g transform="translate(218.50 522.5) rotate(-45)"><text x="-47.88" y="4.00" font-size="8.83" textLength="47.88" lengthAdjust="spacingAndGlyphs">2018/05/01</text></g>
<g transform="translate(352.20 522.5) rotate(-45)"><text x="-48.00" y="4.00" font-size="8.83" textLength="48.00" lengthAdjust="spacingAndGlyphs">2018/07/01</text></g>
<g transform="translate(488.10 522.5) rotate(-45)"><text x="-47.88" y="4.00" font-size="8.83" textLength="47.88" lengthAdjust="spacingAndGlyphs">2018/09/01</text></g>
<g transform="translate(621.81 522.5) rotate(-45)"><text x="-47.88" y="4.00" font-size="8.83" textLength="47.88" lengthAdjust="spacingAndGlyphs">2018/11/01</text></g>
<g transform="translate(755.52 522.5) rotate(-45)"><text x="-47.75" y="4.00" font-size="8.83" textLength="47.75" lengthAdjust="spacingAndGlyphs">2019/01/01</text></g>
<g transform="translate(884.84 522.5) rotate(-45)"><text x="-47.88" y="4.00" font-size="8.83" textLength="47.88" lengthAdjust="spacingAndGlyphs">2019/03/01</text></g>
<g transform="translate(1018.55 522.5) rotate(-45)"><text x="-47.75" y="4.00" font-size="8.83" textLength="47.75" lengthAdjust="spacingAndGlyphs">2019/05/01</text></g>
<text x="609.00" y="579.60" font-size="17.67" text-anchor="middle" textLength="39.75" lengthAdjust="spacingAndGlyphs">Date</text>
<g transform="translate(108.85 293) rotate(-90)"><text x="0.00" y="0.00" font-size="14.72" text-anchor="middle" textLength="71.12" lengthAdjust="spacingAndGlyphs">Depth (m)</text></g>
<text x="609.00" y="38.00" font-size="17.67" text-anchor="middle" textLength="170.38" lengthAdjust="spacingAndGlyphs">ARGO float 5905732</text>
<text x="531.67" y="62.70" font-size="17.67" textLength="129.88" lengthAdjust="spacingAndGlyphs">Salinity PPT (10</text>
<text x="662.06" y="56.00" font-size="12.37" textLength="17.12" lengthAdjust="spacingAndGlyphs">−3</text>
<text x="679.70" y="62.70" font-size="17.67" textLength="6.50" lengthAdjust="spacingAndGlyphs">)</text>
<g transform="translate(1179 291) rotate(-90)"><text x="-36.90" y="0.00" font-size="14.72" textLength="52.75" lengthAdjust="spacingAndGlyphs">PPT (10</text><text x="15.97" y="-5.30" font-size="10.31" textLength="14.25" lengthAdjust="spacingAndGlyphs">−3</text><text x="30.70" y="0.00" font-size="14.72" textLength="5.38" lengthAdjust="spacingAndGlyphs">)</text></g>
</svg></body></html>
